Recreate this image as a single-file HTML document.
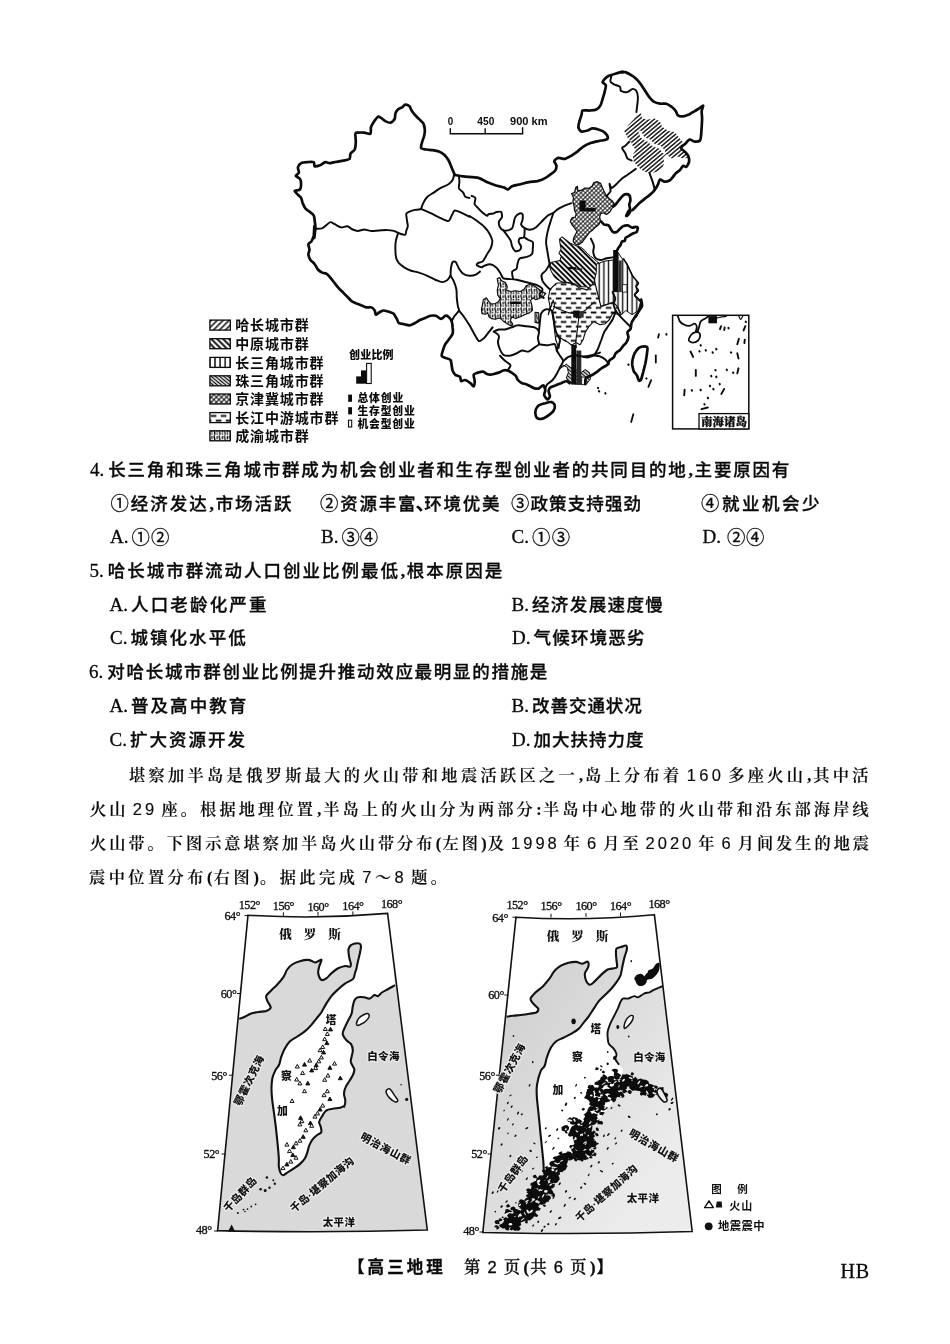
<!DOCTYPE html>
<html lang="zh-CN"><head><meta charset="utf-8"><title>高三地理 第2页</title>
<style>
html,body{margin:0;padding:0;background:#fff;}
body{width:950px;height:1344px;position:relative;overflow:hidden;will-change:transform;}

.t{position:absolute;white-space:nowrap;line-height:26px;height:26px;color:#0a0a0a;-webkit-text-stroke:0.3px #0a0a0a;}
.t i{display:inline-block;letter-spacing:0;}
.g1{width:4px}.g2{width:3px}.g3{width:4px}.g4{width:18px}
.q{font-family:"Liberation Sans","Noto Sans CJK SC",sans-serif;font-size:17.5px;font-weight:500;}
.p{font-family:"Liberation Serif","Noto Serif CJK SC",serif;font-size:16.2px;font-weight:600;-webkit-text-stroke:0.15px #0a0a0a;}
.f{font-family:"Liberation Serif","Noto Serif CJK SC",serif;font-size:16.5px;font-weight:500;}
.f b{font-family:"Liberation Sans","Noto Sans CJK SC",sans-serif;font-weight:700;}
.hb{font-family:"Liberation Serif",serif;font-size:20px;}
.la{font-family:"Liberation Serif",serif;font-size:19px;letter-spacing:0;}
.cn{font-size:18.4px;position:relative;top:0.3px;font-weight:400;}
.nu{font-family:"Liberation Sans",sans-serif;font-size:16.5px;font-weight:400;}
.cm{font-family:"Liberation Serif",serif;letter-spacing:0;font-weight:700;display:inline-block;width:8px;text-align:center;margin-left:-1px;}

svg{position:absolute;left:0;top:0;}
</style></head><body>
<svg width="950" height="1344" viewBox="0 0 950 1344"><defs>
<pattern id="hA" width="3.15" height="3.15" patternUnits="userSpaceOnUse" patternTransform="rotate(-40)"><rect width="3.15" height="3.15" fill="#fff"/><path d="M0 1.6H3.15" stroke="#0b0b0b" stroke-width="1.4"/></pattern>
<pattern id="hB" width="3.75" height="3.75" patternUnits="userSpaceOnUse" patternTransform="rotate(45)"><rect width="3.75" height="3.75" fill="#fff"/><path d="M0 1.9H3.75" stroke="#0b0b0b" stroke-width="2.0"/></pattern>
<pattern id="hC" width="4.7" height="4.7" patternUnits="userSpaceOnUse"><rect width="4.7" height="4.7" fill="#fff"/><path d="M2.3 0V4.7" stroke="#0b0b0b" stroke-width="1.35"/></pattern>
<pattern id="hD" width="2.7" height="2.7" patternUnits="userSpaceOnUse" patternTransform="rotate(40)"><rect width="2.7" height="2.7" fill="#fff"/><path d="M0 1.35H2.7" stroke="#0b0b0b" stroke-width="1.3"/></pattern>
<pattern id="hE" width="3.1" height="3.1" patternUnits="userSpaceOnUse" patternTransform="rotate(45)"><rect width="3.1" height="3.1" fill="#fff"/><path d="M0 1.55H3.1M1.55 0V3.1" stroke="#0b0b0b" stroke-width="0.95"/></pattern>
<pattern id="hF" width="10" height="9.4" patternUnits="userSpaceOnUse"><rect width="10" height="9.4" fill="#fff"/><path d="M0.8 2.35H6.4M5.8 7.05H10M-1 7.05H1.4" stroke="#0b0b0b" stroke-width="1.75"/></pattern>
<pattern id="hG" width="5.2" height="6.4" patternUnits="userSpaceOnUse"><rect width="5.2" height="6.4" fill="#fff"/><path d="M1.3 0.3C0.1 2 2.5 3.8 1.3 6.1M3.9 1V3.6" stroke="#0b0b0b" stroke-width="1.35" fill="none"/><circle cx="3.9" cy="5.2" r="0.8" fill="#0b0b0b"/></pattern>
<pattern id="lA" width="4.2" height="4.2" patternUnits="userSpaceOnUse" patternTransform="rotate(-45)"><rect width="4.2" height="4.2" fill="#fff"/><path d="M0 2.1H4.2" stroke="#0b0b0b" stroke-width="1.5"/></pattern>
<pattern id="lB" width="4.2" height="4.2" patternUnits="userSpaceOnUse" patternTransform="rotate(45)"><rect width="4.2" height="4.2" fill="#fff"/><path d="M0 2.1H4.2" stroke="#0b0b0b" stroke-width="1.9"/></pattern>
<pattern id="lC" width="5.1" height="5" patternUnits="userSpaceOnUse" patternTransform="translate(209.9 0)"><rect width="5.1" height="5" fill="#fff"/><path d="M5.1 0V5M0 0V5" stroke="#0b0b0b" stroke-width="1.4"/></pattern>
<pattern id="lE" width="3.6" height="3.6" patternUnits="userSpaceOnUse" patternTransform="rotate(45)"><rect width="3.6" height="3.6" fill="#fff"/><path d="M0 1.8H3.6M1.8 0V3.6" stroke="#0b0b0b" stroke-width="1.1"/></pattern>
</defs><path d="M624.2 131.1 L628.4 124.7 L633.7 119.5 L636.8 114.2 L641.1 113.2 L642.1 118.4 L648.4 119.5 L654.7 118.4 L660.0 121.6 L662.1 126.8 L668.4 131.1 L674.7 132.1 L678.9 137.4 L683.2 142.6 L681.1 147.9 L685.3 152.1 L688.4 157.4 L683.2 158.4 L676.8 156.3 L671.6 158.4 L666.3 154.2 L663.2 157.4 L664.2 162.6 L662.1 168.9 L655.8 172.1 L649.5 173.2 L643.2 171.1 L637.9 166.8 L633.7 161.6 L632.6 155.3 L635.8 150.0 L632.6 145.8 L630.5 140.5 L627.4 137.4Z" fill="url(#hA)"/>
<path d="M640.0 132.1 C640.5 133.1 641.6 136.3 643.2 137.8 C644.7 139.3 647.7 139.7 649.5 140.9 C651.2 142.2 651.9 144.1 653.7 145.2 C655.4 146.2 658.4 146.2 660.0 147.3 C661.6 148.4 663.0 150.9 663.6 151.7" fill="none" stroke="#fff" stroke-width="3.2" stroke-linecap="round"/>
<path d="M559.5 238.9 L562.1 236.8 L566.3 240.0 L570.5 243.2 L573.7 244.7 L576.8 245.8 L581.1 247.4 L584.2 250.0 L587.4 253.2 L590.5 256.3 L593.7 258.4 L596.8 261.6 L601.1 264.7 L605.3 266.8 L608.4 270.0 L610.0 274.2 L607.4 275.3 L603.2 276.3 L600.0 279.5 L598.9 283.7 L596.8 287.9 L592.6 291.1 L589.5 288.9 L586.3 286.8 L582.1 286.8 L577.9 285.8 L574.7 283.7 L569.5 282.6 L564.2 282.6 L558.9 280.5 L554.7 277.4 L551.6 272.1 L549.5 266.8 L550.5 262.6 L554.7 261.6 L560.0 260.5 L561.1 256.3 L558.9 253.2 L561.1 248.9 L560.0 243.7Z" fill="url(#hB)" stroke="#0b0b0b" stroke-width="1" stroke-linejoin="round"/>
<path d="M571.5 193.5 L574.5 192.6 L575.7 187.6 L577.4 186.3 L577.8 190.9 L582.1 190.1 L584.6 188.0 L588.8 188.4 L592.2 185.9 L593.8 182.5 L597.2 181.7 L600.6 183.4 L602.3 187.6 L603.9 190.9 L605.6 194.3 L609.0 198.5 L612.4 201.1 L614.1 203.6 L612.4 207.8 L609.8 212.0 L606.5 214.5 L603.1 212.8 L600.6 213.7 L599.7 217.1 L600.6 221.3 L598.9 224.6 L595.5 227.2 L593.0 229.7 L589.6 232.2 L587.1 235.6 L584.6 238.9 L582.1 242.3 L578.7 244.8 L575.3 244.0 L573.2 241.5 L573.6 238.1 L575.3 234.7 L577.0 231.4 L574.5 228.0 L571.9 224.6 L570.3 221.3 L571.9 217.9 L575.3 217.1 L576.2 213.7 L574.5 210.3 L574.1 206.1 L572.8 201.9 L573.6 197.7Z" fill="url(#hE)" stroke="#0b0b0b" stroke-width="1.2" stroke-linejoin="round"/>
<path d="M596.3 264.2 L604.7 261.1 L613.2 260.0 L617.4 251.6 L621.6 257.9 L626.8 263.2 L630.0 270.5 L633.2 276.8 L638.4 283.2 L636.3 287.4 L638.4 291.6 L634.2 295.8 L640.5 302.1 L638.4 310.5 L632.1 314.7 L625.8 310.5 L621.6 314.7 L617.4 306.3 L613.2 302.1 L606.8 304.2 L600.5 306.3 L598.4 297.9 L596.3 289.5 L594.2 281.1 L596.3 272.6Z" fill="url(#hC)" stroke="#0b0b0b" stroke-width="1" stroke-linejoin="round"/>
<path d="M550.0 289.5 L556.3 283.2 L564.7 282.5 L573.2 283.6 L579.5 287.8 L586.8 289.9 L591.1 285.7 L594.6 281.5 L596.7 289.9 L598.8 298.3 L600.9 306.7 L607.3 304.6 L613.6 302.5 L617.4 306.7 L620.5 314.7 L612.6 313.2 L609.5 319.5 L605.3 323.7 L600.0 324.7 L593.7 321.6 L589.5 325.8 L585.3 332.1 L583.2 339.5 L580.0 344.7 L575.8 342.6 L571.6 345.2 L568.4 342.6 L564.2 340.5 L560.0 337.4 L558.9 348.4 L555.8 340.0 L554.7 331.6 L553.7 323.2 L552.0 312.6 L554.7 306.3 L553.3 300.0 L548.3 314.7 L550.0 306.3 L548.3 297.9Z" fill="url(#hF)" stroke="#0b0b0b" stroke-width="1.1" stroke-linejoin="round"/>
<path d="M553.3 306.3 C554.2 306.7 558.0 308.6 560.0 309.5 C562.0 310.3 566.3 312.2 568.4 312.6 C570.5 313.1 573.8 313.2 575.8 313.1 C577.8 312.9 581.3 312.5 583.2 311.6 C585.0 310.7 587.9 307.6 589.5 306.3 C591.0 305.1 594.0 302.7 594.7 302.1" fill="none" stroke="#0b0b0b" stroke-width="1.1" stroke-linejoin="round" stroke-linecap="round"/>
<path d="M578.9 316.8 C578.8 318.0 578.2 323.0 577.9 325.3 C577.6 327.5 577.1 331.4 576.8 333.7 C576.6 335.9 575.8 340.3 575.8 342.1 C575.7 343.9 576.3 346.7 576.4 347.4" fill="none" stroke="#0b0b0b" stroke-width="1.1" stroke-linejoin="round" stroke-linecap="round"/>
<path d="M535.1 312.3 L538.8 312.9 L538.8 323.1 L535.1 322.4Z" fill="url(#hG)" stroke="#0b0b0b" stroke-width="1.1" stroke-linejoin="round"/>
<path d="M497.2 278.8 L499.7 277.6 L501.6 280.7 L505.4 282.6 L507.3 286.4 L506.6 290.2 L510.4 291.5 L515.5 290.8 L520.5 291.5 L524.3 288.9 L526.2 285.8 L529.4 284.5 L533.2 285.2 L536.9 287.7 L540.7 290.8 L545.8 293.4 L543.3 296.5 L539.5 298.4 L535.7 299.7 L533.2 297.8 L530.6 300.3 L531.9 305.4 L532.5 310.4 L529.4 312.9 L525.6 314.2 L520.5 316.7 L515.5 318.6 L511.7 316.7 L510.4 320.5 L512.9 324.3 L511.7 326.2 L507.9 324.3 L504.1 321.8 L501.6 319.3 L499.1 318.0 L495.3 319.3 L491.5 318.6 L488.9 316.7 L487.7 312.9 L485.2 314.2 L482.0 313.6 L481.4 309.2 L482.6 304.1 L483.3 299.7 L486.4 297.8 L488.9 301.6 L491.5 304.1 L495.3 303.5 L498.4 301.6 L500.3 298.4 L497.8 295.3 L497.2 290.2 L498.4 285.2Z" fill="url(#hG)" stroke="#0b0b0b" stroke-width="1.1" stroke-linejoin="round"/>
<path d="M558.9 369.5 L563.2 365.3 L567.4 367.4 L568.4 372.6 L566.3 377.9 L569.5 382.5 L576.8 384.2 L586.3 384.2 L590.5 378.9 L589.5 372.6 L585.3 369.5 L581.1 372.6 L575.8 369.5 L570.5 367.4 L566.3 364.2Z" fill="url(#hD)" stroke="#0b0b0b" stroke-width="1" stroke-linejoin="round"/>
<rect x="579.5" y="200.6" width="6.1" height="10.7" fill="#0b0b0b"/>
<rect x="585.4" y="208.0" width="10.3" height="3.5" fill="#0b0b0b"/>
<rect x="567.9" y="267.1" width="8.4" height="2.1" fill="#0b0b0b"/>
<rect x="576.3" y="268.5" width="5.8" height="1.3" fill="#0b0b0b"/>
<rect x="613.2" y="250.0" width="4.8" height="42.1" fill="#0b0b0b"/>
<rect x="618.4" y="260.5" width="3.3" height="31.6" fill="#333"/>
<rect x="622.6" y="284.7" width="4.3" height="7.4" fill="#fff" stroke="#0b0b0b" stroke-width="0.8"/>
<rect x="573.2" y="310.5" width="6.6" height="7.1" fill="#0b0b0b"/>
<rect x="579.8" y="311.1" width="3.9" height="6.5" fill="#333"/>
<rect x="510.4" y="301.6" width="10.4" height="2.4" fill="#0b0b0b"/>
<rect x="571.3" y="344.8" width="4.9" height="39.8" fill="#0b0b0b"/>
<rect x="576.4" y="350.5" width="4.9" height="34.1" fill="#2a2a2a"/>
<rect x="581.7" y="377.1" width="4.0" height="7.6" fill="#fff" stroke="#0b0b0b" stroke-width="0.8"/>
<path d="M454.7 174.9 C454.3 173.9 452.4 169.4 451.6 167.4 C450.7 165.4 449.4 161.7 448.4 160.0 C447.4 158.3 445.5 155.9 444.2 154.7 C442.9 153.6 440.5 152.2 438.9 151.6 C437.4 151.0 434.3 150.4 432.6 150.1 C430.9 149.8 427.9 149.8 426.3 149.5 C424.8 149.2 421.6 149.0 421.1 148.0 C420.5 147.0 421.7 143.7 422.1 142.1 C422.5 140.5 423.8 137.5 424.2 135.8 C424.6 134.1 425.0 131.2 424.8 129.5 C424.7 127.8 423.9 124.6 423.2 123.2 C422.4 121.8 420.1 120.1 418.9 118.9 C417.8 117.8 415.7 115.9 414.7 114.7 C413.8 113.6 412.3 111.6 411.6 110.5 C410.9 109.4 410.3 107.1 409.5 106.3 C408.6 105.5 406.2 104.5 405.3 104.6 C404.3 104.8 403.1 106.7 402.1 107.4 C401.1 108.0 398.8 108.6 397.9 109.5 C397.0 110.3 395.8 112.4 395.4 113.7 C394.9 114.9 395.4 117.7 394.7 118.9 C394.1 120.2 391.8 122.5 390.5 122.7 C389.3 123.0 386.5 121.7 385.3 121.1 C384.0 120.4 382.0 118.5 381.1 117.9 C380.1 117.3 378.9 116.3 377.9 116.8 C376.9 117.4 374.6 120.7 373.7 122.1 C372.8 123.5 371.4 125.8 370.9 127.4 C370.5 128.9 371.4 133.0 370.5 133.7 C369.6 134.4 365.9 132.8 364.2 132.6 C362.5 132.5 359.1 132.5 357.9 132.6 C356.7 132.8 355.6 132.4 355.4 133.7 C355.1 134.9 355.9 140.0 355.8 142.1 C355.7 144.2 355.4 147.9 354.7 149.5 C354.0 151.0 351.2 152.4 350.5 153.7 C349.8 154.9 350.5 158.0 349.5 158.9 C348.5 159.9 345.1 160.2 343.2 160.6 C341.2 161.1 336.6 161.8 334.7 162.1 C332.9 162.4 330.7 163.2 329.5 163.2 C328.2 163.2 326.5 161.8 325.3 162.1 C324.0 162.4 321.4 164.7 320.0 165.3 C318.6 165.8 315.6 166.7 314.7 166.3 C313.9 165.9 314.7 162.7 313.7 162.1 C312.7 161.5 309.1 162.0 307.4 162.1 C305.7 162.2 302.3 162.5 301.1 163.2 C299.8 163.9 298.2 166.1 297.9 167.4 C297.6 168.6 299.2 171.5 298.9 172.6 C298.7 173.8 295.6 174.9 295.8 175.8 C295.9 176.6 299.3 177.8 300.0 178.9 C300.7 180.1 301.1 182.8 301.1 184.2 C301.1 185.6 300.8 188.6 300.0 189.5 C299.2 190.4 295.0 190.2 294.7 190.9 C294.5 191.6 297.1 193.8 297.9 194.7 C298.7 195.7 300.4 196.8 301.1 197.9 C301.7 199.0 302.2 201.8 302.7 203.2 C303.3 204.6 304.4 207.3 305.3 208.4 C306.2 209.5 308.4 210.7 309.5 211.6 C310.6 212.5 313.0 214.1 313.7 215.4 C314.4 216.6 314.5 219.5 314.7 221.1 C315.0 222.7 315.3 225.8 315.4 227.4 C315.4 228.9 315.1 231.2 314.9 232.6 C314.8 234.0 314.4 237.2 314.3 237.9" fill="none" stroke="#0b0b0b" stroke-width="2.7" stroke-linejoin="round" stroke-linecap="round"/>
<path d="M314.3 226.3 C314.3 226.9 314.2 229.3 314.1 230.5 C314.0 231.8 314.0 234.4 313.7 235.8 C313.3 237.2 312.3 239.9 311.6 241.1 C310.9 242.2 308.7 243.1 308.4 244.2 C308.1 245.3 309.5 248.1 309.5 249.5 C309.5 250.9 308.3 253.3 308.4 254.7 C308.6 256.1 309.7 258.7 310.5 260.0 C311.4 261.3 313.8 262.9 314.7 264.2 C315.7 265.5 316.9 268.4 317.9 269.5 C318.9 270.6 321.0 272.1 322.1 272.6 C323.2 273.2 325.2 273.0 326.3 273.7 C327.4 274.4 329.4 276.6 330.5 277.9 C331.6 279.2 333.6 281.8 334.7 283.2 C335.9 284.6 337.8 287.2 338.9 288.4 C340.1 289.7 342.0 291.5 343.2 292.6 C344.3 293.8 346.2 295.7 347.4 296.8 C348.5 298.0 350.5 300.2 351.6 301.1 C352.7 301.9 354.5 302.6 355.8 303.2 C357.1 303.7 359.6 304.7 361.1 305.3 C362.5 305.8 364.9 307.1 366.3 307.4 C367.7 307.6 370.5 306.9 371.6 307.4 C372.7 307.8 374.2 309.5 374.7 310.5 C375.3 311.5 375.2 314.5 375.8 314.7 C376.4 315.0 378.0 313.2 378.9 312.6 C379.9 312.1 381.9 310.7 383.2 310.5 C384.4 310.4 387.0 311.2 388.4 311.6 C389.8 312.0 392.6 312.7 393.7 313.7 C394.8 314.7 396.1 317.7 396.8 318.9 C397.5 320.2 398.0 322.5 398.9 323.2 C399.9 323.9 402.8 323.9 404.2 324.2 C405.6 324.5 408.1 325.4 409.5 325.3 C410.9 325.1 413.3 323.9 414.7 323.2 C416.1 322.5 418.6 320.7 420.0 320.0 C421.4 319.3 423.9 318.5 425.3 317.9 C426.7 317.3 429.1 316.1 430.5 315.8 C431.9 315.5 434.4 315.4 435.8 315.8 C437.2 316.2 439.8 318.9 441.1 318.9 C442.3 318.9 444.3 316.1 445.3 315.8 C446.2 315.5 447.6 316.1 448.4 316.8 C449.3 317.5 451.0 319.6 451.6 321.1 C452.1 322.5 452.5 325.7 452.6 327.4 C452.8 329.1 453.2 332.0 452.6 333.7 C452.1 335.4 449.4 338.6 448.4 340.0 C447.4 341.4 446.0 342.9 445.3 344.2 C444.6 345.5 443.6 347.9 443.2 349.5 C442.7 351.0 441.4 354.7 441.7 355.8 C442.0 356.9 444.1 357.3 445.3 357.9 C446.4 358.5 449.7 359.0 450.5 360.0 C451.4 361.0 451.3 363.9 451.6 365.3 C451.9 366.7 452.2 369.3 452.6 370.5 C453.1 371.8 454.2 373.9 455.2 374.7 C456.1 375.6 459.2 376.0 460.0 376.8 C460.8 377.7 460.4 380.6 461.1 381.1 C461.8 381.5 464.0 379.7 465.3 380.0 C466.5 380.3 469.4 382.3 470.5 383.2 C471.6 384.0 473.1 386.6 473.7 386.3 C474.2 386.0 474.7 382.6 474.7 381.1 C474.7 379.5 473.3 375.9 473.7 374.7 C474.1 373.6 476.6 373.1 477.9 372.6 C479.2 372.2 482.0 371.4 483.2 371.6 C484.3 371.7 485.3 373.3 486.3 373.7 C487.3 374.1 489.4 374.7 490.5 374.7 C491.6 374.7 493.6 374.0 494.7 373.7 C495.9 373.4 497.8 373.1 498.9 372.6 C500.1 372.2 502.0 370.8 503.2 370.5 C504.3 370.2 506.2 370.2 507.4 370.5 C508.5 370.8 510.5 371.9 511.6 372.6 C512.7 373.3 514.9 374.8 515.8 375.8 C516.6 376.8 517.1 379.0 517.9 380.0 C518.7 381.0 521.0 382.6 522.1 383.2 C523.2 383.7 525.2 383.8 526.3 384.2 C527.4 384.6 529.4 385.8 530.5 386.3 C531.6 386.9 533.6 388.1 534.7 388.4 C535.9 388.7 537.8 388.8 538.9 388.4 C540.1 388.0 542.3 385.0 543.2 385.3 C544.0 385.5 545.1 388.8 545.3 390.1 C545.4 391.4 543.9 393.9 544.2 395.2 C544.5 396.4 546.6 399.2 547.4 399.4 C548.1 399.5 549.7 397.5 549.9 396.4 C550.1 395.3 548.5 392.2 548.6 390.9 C548.7 389.7 549.6 388.1 550.5 387.4 C551.5 386.6 554.4 385.8 555.8 385.3 C557.2 384.7 559.6 383.7 561.1 383.2 C562.5 382.6 565.2 381.1 566.3 381.1 C567.4 381.1 569.1 382.9 569.5 383.2" fill="none" stroke="#0b0b0b" stroke-width="2.7" stroke-linejoin="round" stroke-linecap="round"/>
<path d="M454.7 174.9 C455.9 175.1 460.0 176.0 463.2 176.4 C466.3 176.8 475.3 177.1 478.4 177.9 C481.6 178.7 484.6 181.1 486.8 182.1 C489.1 183.1 493.0 184.6 495.3 185.3 C497.5 186.0 502.0 186.8 503.7 187.4 C505.4 187.9 506.8 189.6 507.9 189.5 C509.0 189.3 510.4 187.0 512.1 186.3 C513.8 185.6 518.3 184.8 520.5 184.2 C522.8 183.6 526.7 182.5 528.9 182.1 C531.2 181.7 535.4 181.5 537.4 181.1 C539.3 180.6 542.0 179.8 543.7 178.9 C545.4 178.1 548.5 175.9 550.0 174.7 C551.5 173.6 554.4 171.8 555.3 170.5 C556.1 169.3 556.5 166.5 556.3 165.3 C556.2 164.0 553.9 162.0 554.2 161.1 C554.5 160.1 557.0 158.2 558.4 157.9 C559.8 157.6 563.1 159.2 564.7 158.9 C566.4 158.7 569.4 156.8 571.1 155.8 C572.7 154.8 575.7 152.8 577.4 151.6 C579.1 150.3 582.0 147.4 583.7 146.3 C585.4 145.2 588.0 143.9 590.0 143.2 C592.0 142.5 596.5 141.5 598.4 141.1 C600.4 140.6 603.5 140.4 604.7 140.0 C606.0 139.6 607.9 138.9 607.9 137.9 C607.9 136.9 606.0 133.8 604.7 132.6 C603.5 131.5 600.1 130.0 598.4 129.5 C596.7 128.9 593.5 128.3 592.1 128.4 C590.7 128.6 589.3 130.1 587.9 130.5 C586.5 130.9 582.8 132.0 581.6 131.6 C580.3 131.2 578.7 128.8 578.4 127.4 C578.1 126.0 579.1 122.7 579.5 121.1 C579.9 119.4 581.2 116.1 581.6 114.7 C582.0 113.3 581.5 111.1 582.6 110.5 C583.8 110.0 588.2 110.7 590.0 110.5 C591.8 110.4 594.9 110.2 596.3 109.5 C597.7 108.8 599.7 106.7 600.5 105.3 C601.4 103.9 602.1 100.8 602.6 98.9 C603.2 97.1 604.3 93.4 604.7 91.6 C605.2 89.8 606.1 86.5 605.8 85.3 C605.5 84.0 602.8 82.9 602.6 82.1 C602.5 81.3 603.9 79.8 604.7 78.9 C605.6 78.1 607.5 76.5 608.9 75.8 C610.4 75.1 613.4 74.2 615.3 73.7 C617.1 73.1 621.6 71.9 622.6 71.6" fill="none" stroke="#0b0b0b" stroke-width="2.7" stroke-linejoin="round" stroke-linecap="round"/>
<path d="M622.1 72.5 C622.5 72.5 624.0 71.7 625.3 72.1 C626.5 72.5 630.0 74.3 631.6 75.3 C633.1 76.2 635.6 78.2 636.8 79.5 C638.1 80.7 639.9 83.2 641.1 84.7 C642.2 86.3 644.1 89.4 645.3 91.1 C646.4 92.7 648.4 96.0 649.5 97.4 C650.6 98.8 652.3 100.7 653.7 101.6 C655.1 102.4 658.3 103.4 660.0 103.7 C661.7 104.0 664.8 103.3 666.3 103.7 C667.9 104.1 670.3 105.9 671.6 106.8 C672.8 107.8 674.9 109.9 675.8 111.1 C676.6 112.2 676.9 114.6 677.9 115.3 C678.9 116.0 681.6 116.5 683.2 116.3 C684.7 116.2 687.9 114.9 689.5 114.2 C691.0 113.5 693.3 111.9 694.7 111.1 C696.1 110.2 698.9 108.6 700.0 107.9 C701.1 107.2 702.9 105.4 703.2 105.8 C703.4 106.2 701.8 109.4 701.7 111.1 C701.5 112.7 702.1 116.3 702.1 118.4 C702.1 120.5 701.8 124.6 701.7 126.8 C701.5 129.1 701.3 133.4 701.1 135.3 C700.8 137.1 700.8 139.7 700.0 140.5 C699.2 141.4 696.1 141.7 694.7 141.6 C693.3 141.4 690.7 139.2 689.5 139.5 C688.2 139.8 686.4 142.6 685.3 143.7 C684.1 144.8 681.1 146.8 681.1 147.9 C681.1 149.0 684.3 151.0 685.3 152.1 C686.2 153.2 687.9 155.1 688.4 156.3 C688.9 157.6 689.3 160.2 689.1 161.6 C688.8 163.0 687.1 166.3 686.3 166.8 C685.5 167.4 684.0 165.4 683.2 165.8 C682.3 166.2 681.0 169.0 680.0 170.0 C679.0 171.0 676.8 172.2 675.8 173.2 C674.8 174.1 673.5 176.4 672.6 177.4 C671.8 178.4 670.6 180.0 669.5 180.5 C668.4 181.1 665.5 181.7 664.2 181.6 C662.9 181.4 660.8 179.1 660.0 179.5 C659.2 179.9 658.6 183.3 657.9 184.7 C657.2 186.1 655.7 188.7 654.7 190.0 C653.8 191.3 651.8 193.1 650.5 194.2 C649.3 195.3 646.7 197.3 645.3 198.4 C643.9 199.5 641.3 201.5 640.0 202.6 C638.7 203.8 636.8 205.9 635.8 206.8 C634.8 207.8 633.1 209.6 632.6 210.0" fill="none" stroke="#0b0b0b" stroke-width="2.7" stroke-linejoin="round" stroke-linecap="round"/>
<path d="M630.7 210.6 C630.4 211.1 629.1 213.6 628.5 214.3 C628.0 215.0 626.7 216.2 626.6 215.9 C626.5 215.6 627.3 213.0 627.8 212.1 C628.2 211.2 629.8 210.1 630.0 209.2 C630.2 208.2 629.2 205.9 629.3 204.7 C629.3 203.6 630.4 201.6 630.4 200.3 C630.4 199.0 630.0 195.9 629.3 195.2 C628.5 194.4 625.8 194.2 624.8 194.4 C623.9 194.6 622.7 195.8 621.9 196.6 C621.1 197.4 619.7 199.3 618.9 200.3 C618.2 201.3 616.7 203.2 616.0 204.0 C615.3 204.8 613.7 206.2 613.3 206.5" fill="none" stroke="#0b0b0b" stroke-width="2.7" stroke-linejoin="round" stroke-linecap="round"/>
<path d="M601.3 221.7 C601.7 222.1 603.2 224.1 604.2 224.6 C605.2 225.1 607.7 224.8 608.6 225.4 C609.5 226.0 610.3 228.2 610.8 229.1 C611.4 229.9 612.3 231.6 613.1 232.0 C613.8 232.4 615.9 232.4 616.7 232.0 C617.6 231.6 618.8 229.8 619.7 229.1 C620.6 228.3 622.3 226.6 623.4 226.1 C624.4 225.6 626.6 225.2 627.8 225.4 C629.0 225.6 631.1 227.4 632.2 227.6 C633.3 227.8 635.1 226.8 635.9 226.8 C636.6 226.8 637.7 226.9 637.8 227.6 C637.9 228.3 637.3 231.2 636.6 232.0 C636.0 232.8 633.9 233.0 632.9 233.5 C632.0 234.0 630.2 235.1 629.3 235.7 C628.3 236.3 626.2 237.2 625.6 237.9 C625.0 238.6 625.3 240.4 624.8 240.8 C624.4 241.3 622.5 241.0 621.9 241.6 C621.3 242.2 620.9 244.4 620.4 245.3 C619.9 246.1 618.6 247.5 618.2 248.2 C617.8 248.9 617.3 250.1 617.2 250.4" fill="none" stroke="#0b0b0b" stroke-width="2.7" stroke-linejoin="round" stroke-linecap="round"/>
<ellipse cx="626.8" cy="215.3" rx="2.2" ry="1.3" transform="rotate(-40 626.8 215.3)" fill="#0b0b0b"/>
<path d="M623.7 258.9 C624.1 259.6 626.0 262.7 626.8 264.2 C627.7 265.8 629.2 268.8 630.0 270.5 C630.8 272.2 632.0 275.2 633.2 276.8 C634.3 278.5 638.1 281.9 638.4 283.2 C638.8 284.4 635.9 285.3 635.9 286.3 C635.9 287.3 638.6 289.4 638.4 290.5 C638.3 291.6 634.3 293.2 634.6 294.7 C635.0 296.3 640.4 300.0 640.9 302.1 C641.5 304.2 639.5 308.6 638.8 310.5 C638.2 312.5 636.7 316.0 636.3 316.8" fill="none" stroke="#0b0b0b" stroke-width="1.6" stroke-linejoin="round" stroke-linecap="round"/>
<path d="M641.1 299.5 C641.2 300.3 642.4 304.2 642.1 305.8 C641.8 307.3 639.9 309.5 638.9 311.1 C638.0 312.6 635.7 315.8 634.7 317.4 C633.8 318.9 632.1 321.1 631.6 322.6 C631.0 324.2 631.1 327.7 630.5 328.9 C630.0 330.2 627.6 331.0 627.4 332.1 C627.1 333.2 628.6 336.0 628.4 337.4 C628.3 338.8 627.0 341.5 626.3 342.6 C625.6 343.8 624.0 344.8 623.2 345.8 C622.3 346.8 621.0 349.0 620.0 350.0 C619.0 351.0 616.6 352.2 615.8 353.2 C614.9 354.1 614.5 356.4 613.7 357.4 C612.8 358.4 610.3 359.5 609.5 360.5 C608.6 361.5 608.4 363.8 607.4 364.7 C606.4 365.7 603.4 367.1 602.1 367.9 C600.8 368.7 599.0 370.2 597.9 371.1 C596.8 371.9 594.8 373.5 593.7 374.2 C592.6 374.9 590.5 375.8 589.5 376.3 C588.4 376.9 586.2 377.4 585.7 378.4 C585.1 379.5 585.3 383.3 585.3 384.1" fill="none" stroke="#0b0b0b" stroke-width="2.7" stroke-linejoin="round" stroke-linecap="round"/>
<path d="M535.8 409.5 C536.2 408.1 537.7 406.1 538.9 405.3 C540.2 404.4 543.6 403.6 545.3 403.2 C546.9 402.7 550.3 401.8 551.6 402.1 C552.8 402.4 554.5 404.1 554.7 405.3 C555.0 406.4 554.4 409.3 553.7 410.5 C553.0 411.8 550.7 413.8 549.5 414.7 C548.2 415.7 545.6 417.3 544.2 417.9 C542.8 418.5 540.1 419.2 538.9 418.9 C537.8 418.7 536.2 417.1 535.8 415.8 C535.4 414.5 535.4 410.9 535.8 409.5Z" fill="#fff" stroke="#0b0b0b" stroke-width="2.7" stroke-linejoin="round" stroke-linecap="round"/>
<path d="M632.6 359.5 C633.0 357.9 633.9 354.7 634.7 353.2 C635.6 351.6 637.7 348.8 638.9 347.9 C640.2 347.0 643.1 346.4 644.2 346.4 C645.3 346.4 647.0 346.7 647.4 347.9 C647.7 349.1 647.0 353.2 646.7 355.3 C646.5 357.4 645.7 361.4 645.3 363.7 C644.8 365.9 643.7 370.0 643.2 372.1 C642.6 374.2 641.6 378.4 641.1 379.5 C640.5 380.6 639.5 381.1 638.9 380.5 C638.4 380.0 637.5 376.5 636.8 375.3 C636.1 374.0 634.3 372.5 633.7 371.1 C633.1 369.6 632.4 366.3 632.2 364.7 C632.1 363.2 632.3 361.0 632.6 359.5Z" fill="#fff" stroke="#0b0b0b" stroke-width="2.7" stroke-linejoin="round" stroke-linecap="round"/>
<path d="M315.4 228.8 C316.3 228.8 320.5 229.0 322.1 228.4 C323.7 227.8 326.2 225.1 327.4 224.2 C328.5 223.4 329.5 222.1 330.5 222.1 C331.5 222.1 333.3 223.5 334.7 224.2 C336.1 224.9 339.4 227.1 341.1 227.4 C342.7 227.6 345.8 226.0 347.4 226.3 C348.9 226.6 351.2 228.9 352.6 229.5 C354.0 230.1 356.4 230.9 357.9 230.9 C359.4 230.9 362.5 229.5 364.2 229.5 C365.9 229.5 368.6 230.8 370.5 230.9 C372.5 231.1 376.7 230.6 378.9 230.5 C381.2 230.4 385.4 230.0 387.4 230.1 C389.3 230.2 392.0 230.5 393.7 230.9 C395.4 231.4 398.5 233.2 400.0 233.7 C401.5 234.2 404.4 235.2 405.3 234.7 C406.1 234.3 406.0 231.6 406.3 230.5 C406.7 229.4 407.7 227.7 407.8 226.3 C407.9 224.9 407.1 221.7 406.9 220.0 C406.8 218.3 406.0 214.8 406.3 213.7 C406.7 212.6 408.4 212.1 409.5 211.6 C410.6 211.1 413.2 210.2 414.7 209.9 C416.3 209.6 420.2 209.2 421.1 209.1" fill="none" stroke="#0b0b0b" stroke-width="1.95" stroke-linejoin="round" stroke-linecap="round"/>
<path d="M421.1 209.1 C421.3 208.3 422.3 204.8 423.2 203.2 C424.0 201.5 426.0 198.2 427.4 196.8 C428.8 195.4 432.0 193.8 433.7 192.6 C435.4 191.5 438.0 189.5 440.0 188.4 C442.0 187.3 446.7 185.3 448.4 184.2 C450.1 183.1 451.9 181.2 452.6 180.0 C453.4 178.8 453.7 176.0 453.9 175.4" fill="none" stroke="#0b0b0b" stroke-width="1.95" stroke-linejoin="round" stroke-linecap="round"/>
<path d="M458.9 175.8 C459.0 176.6 459.4 180.4 459.4 182.1 C459.4 183.8 458.4 187.0 458.9 188.4 C459.5 189.8 462.3 191.5 463.2 192.6 C464.0 193.8 464.4 196.1 465.3 196.8 C466.1 197.5 468.9 197.8 469.5 197.9" fill="none" stroke="#0b0b0b" stroke-width="1.95" stroke-linejoin="round" stroke-linecap="round"/>
<path d="M421.1 209.1 C421.9 209.4 425.7 210.8 427.4 211.6 C429.1 212.3 432.0 213.9 433.7 214.7 C435.4 215.6 438.0 217.1 440.0 217.9 C442.0 218.7 446.9 221.3 448.4 221.1 C450.0 220.8 450.7 217.2 451.6 215.8 C452.4 214.4 453.5 210.9 454.7 210.5 C456.0 210.1 459.1 211.8 461.1 212.6 C463.0 213.5 468.4 216.3 469.5 216.8" fill="none" stroke="#0b0b0b" stroke-width="1.95" stroke-linejoin="round" stroke-linecap="round"/>
<path d="M397.9 233.9 C397.6 234.8 396.1 239.0 395.8 241.1 C395.5 243.1 395.3 247.2 395.4 249.5 C395.4 251.7 395.7 256.1 396.2 257.9 C396.7 259.7 397.9 261.9 398.9 263.2 C400.0 264.4 402.7 266.4 404.2 267.4 C405.8 268.4 408.6 269.8 410.5 270.5 C412.5 271.2 416.7 271.9 418.9 272.6 C421.2 273.3 425.1 274.8 427.4 275.8 C429.6 276.8 433.8 279.2 435.8 280.0 C437.8 280.8 440.6 282.1 442.1 282.1 C443.6 282.1 446.2 280.8 447.4 280.0 C448.5 279.2 450.1 276.4 450.5 275.8" fill="none" stroke="#0b0b0b" stroke-width="1.95" stroke-linejoin="round" stroke-linecap="round"/>
<path d="M450.5 275.8 C450.9 276.5 452.9 279.2 453.7 281.1 C454.5 282.9 456.0 287.2 456.4 289.5 C456.8 291.7 456.6 295.6 456.8 297.9 C457.0 300.1 457.6 304.6 457.9 306.3 C458.2 308.0 459.4 309.3 458.9 310.5 C458.5 311.8 455.7 314.4 454.7 315.8 C453.8 317.2 452.0 320.4 451.6 321.1" fill="none" stroke="#0b0b0b" stroke-width="1.95" stroke-linejoin="round" stroke-linecap="round"/>
<path d="M450.5 275.8 C450.6 274.8 450.7 270.2 450.9 268.4 C451.2 266.6 452.0 262.9 452.6 262.1 C453.3 261.3 454.9 261.3 455.8 262.1 C456.6 262.9 458.0 266.9 458.9 268.4 C459.9 270.0 461.8 272.7 463.2 273.7 C464.6 274.7 467.8 275.6 469.5 275.8 C471.2 275.9 474.4 275.3 475.8 274.7 C477.2 274.2 479.4 272.0 480.0 271.6" fill="none" stroke="#0b0b0b" stroke-width="1.95" stroke-linejoin="round" stroke-linecap="round"/>
<path d="M471.7 195.8 C472.2 196.1 475.0 196.9 475.4 198.0 C475.8 199.1 474.2 202.5 474.6 203.9 C475.0 205.3 477.2 207.1 478.3 208.3 C479.4 209.5 481.6 211.8 482.7 212.7 C483.9 213.7 486.4 215.5 487.2 215.7 C487.9 215.9 487.8 214.5 488.6 214.2 C489.4 213.9 492.0 213.8 493.1 213.5 C494.1 213.2 495.7 212.2 496.7 212.0 C497.8 211.8 500.5 211.3 501.2 212.0 C501.8 212.7 502.2 215.9 501.9 217.2 C501.6 218.4 499.2 220.3 498.9 221.6 C498.7 222.9 499.1 225.6 499.7 226.7 C500.3 227.9 502.3 229.9 503.4 230.4 C504.4 230.9 506.6 230.7 507.8 230.4 C509.0 230.1 511.4 229.2 512.2 228.2 C513.0 227.2 513.3 224.5 513.7 223.1 C514.1 221.6 514.4 218.4 515.2 217.2 C515.9 215.9 518.6 213.9 519.6 213.5 C520.6 213.1 522.1 213.3 522.5 214.2 C522.9 215.1 522.7 218.7 522.5 220.1 C522.3 221.5 520.8 223.4 521.1 224.5 C521.3 225.6 523.6 227.5 524.7 228.2 C525.9 228.9 528.4 229.8 529.9 229.7 C531.4 229.6 534.2 228.6 535.8 227.5 C537.4 226.4 540.1 223.2 541.7 221.6 C543.3 220.0 546.0 216.9 547.6 215.7 C549.2 214.5 552.1 213.6 553.5 212.7 C554.8 211.9 556.3 210.0 557.9 209.1 C559.5 208.1 563.5 206.2 565.3 205.4 C567.0 204.6 570.4 203.5 571.2 203.2" fill="none" stroke="#0b0b0b" stroke-width="1.95" stroke-linejoin="round" stroke-linecap="round"/>
<path d="M469.5 216.0 C470.5 216.6 474.9 219.4 476.8 220.8 C478.8 222.3 482.5 225.1 484.2 226.7 C485.9 228.4 488.3 231.5 489.4 233.4 C490.4 235.2 492.1 238.8 492.3 240.7 C492.5 242.7 491.5 246.3 490.8 248.1 C490.2 249.9 488.2 252.2 487.2 254.0 C486.1 255.8 483.9 260.2 482.7 261.4 C481.6 262.5 479.1 262.4 478.3 262.8 C477.5 263.3 476.4 264.5 476.8 265.1 C477.2 265.6 480.3 267.2 481.3 267.3 C482.2 267.4 483.0 266.2 484.2 265.8 C485.4 265.4 488.5 264.1 490.1 264.3 C491.7 264.5 494.6 266.1 496.0 267.3 C497.4 268.4 499.4 271.7 500.4 273.2 C501.4 274.6 502.0 277.5 503.4 278.3 C504.7 279.1 509.0 278.9 510.7 279.1 C512.5 279.2 514.7 279.4 516.6 279.8 C518.6 280.2 522.7 281.3 525.5 282.0 C528.2 282.7 535.1 284.3 537.4 285.3 C539.7 286.3 542.4 288.2 542.6 289.5 C542.9 290.7 539.3 293.6 539.5 294.7 C539.6 295.9 543.1 297.5 543.7 297.9" fill="none" stroke="#0b0b0b" stroke-width="1.95" stroke-linejoin="round" stroke-linecap="round"/>
<path d="M503.4 230.4 C504.0 231.2 506.8 234.9 507.8 236.3 C508.8 237.7 510.1 239.4 510.7 240.7 C511.3 242.1 511.6 245.3 512.2 246.6 C512.8 248.0 514.2 250.6 515.2 251.1 C516.1 251.5 518.8 250.9 519.6 250.3 C520.4 249.7 521.2 247.7 521.1 246.6 C521.0 245.6 519.0 243.3 518.8 242.2 C518.6 241.1 518.9 239.2 519.6 238.5 C520.3 237.8 523.3 238.4 524.0 237.1 C524.7 235.7 524.6 229.4 524.7 228.2" fill="none" stroke="#0b0b0b" stroke-width="1.95" stroke-linejoin="round" stroke-linecap="round"/>
<path d="M524.0 237.1 C524.6 237.4 527.2 239.3 528.4 240.0 C529.6 240.7 532.3 241.1 532.8 242.2 C533.4 243.3 532.9 246.5 532.8 248.1 C532.7 249.7 532.9 252.8 532.1 254.0 C531.3 255.2 528.6 256.4 526.9 256.9 C525.3 257.5 520.9 257.4 519.6 258.4 C518.3 259.4 517.8 262.9 517.4 264.3 C517.0 265.7 517.3 267.8 516.6 268.7 C515.9 269.7 512.7 270.4 512.2 271.7 C511.7 273.0 512.8 277.4 512.9 278.3" fill="none" stroke="#0b0b0b" stroke-width="1.95" stroke-linejoin="round" stroke-linecap="round"/>
<path d="M553.5 212.7 C553.1 213.9 551.3 219.0 550.5 221.6 C549.7 224.1 548.2 229.1 547.6 231.9 C547.0 234.6 546.1 239.5 546.1 242.2 C546.1 245.0 547.2 250.0 547.6 252.5 C548.0 255.1 548.8 259.7 549.1 261.4 C549.3 263.0 549.7 264.6 549.8 265.1" fill="none" stroke="#0b0b0b" stroke-width="1.95" stroke-linejoin="round" stroke-linecap="round"/>
<path d="M549.6 264.2 C549.1 265.1 546.9 269.1 545.8 270.5 C544.7 271.9 542.0 273.3 541.6 274.7 C541.2 276.1 542.1 279.6 542.6 281.1 C543.2 282.5 544.8 284.1 545.8 285.3 C546.8 286.4 549.4 288.9 550.0 289.5" fill="none" stroke="#0b0b0b" stroke-width="1.95" stroke-linejoin="round" stroke-linecap="round"/>
<path d="M458.9 310.5 C459.5 311.2 461.8 313.8 463.2 315.8 C464.6 317.8 467.9 322.7 469.5 325.3 C471.0 327.8 473.5 332.6 474.7 334.7 C476.0 336.8 477.7 340.6 478.9 341.1 C480.2 341.5 482.9 339.0 484.2 337.9 C485.5 336.8 487.3 334.0 488.4 332.6 C489.5 331.2 492.1 328.1 492.6 327.4" fill="none" stroke="#0b0b0b" stroke-width="1.95" stroke-linejoin="round" stroke-linecap="round"/>
<path d="M493.7 331.6 C494.4 332.1 498.4 334.4 498.9 335.8 C499.5 337.2 497.8 340.3 497.9 342.1 C498.0 343.9 499.3 347.8 500.0 349.5 C500.7 351.2 501.9 353.9 503.2 354.7 C504.4 355.6 507.8 355.9 509.5 355.8 C511.2 355.6 514.1 354.4 515.8 353.7 C517.5 353.0 520.4 350.8 522.1 350.5 C523.8 350.2 526.7 352.0 528.4 351.6 C530.1 351.2 533.3 348.4 534.7 347.4 C536.1 346.4 538.5 345.5 538.9 344.2 C539.4 342.9 537.9 339.6 537.9 337.9 C537.9 336.2 539.4 333.0 538.9 331.6 C538.5 330.2 536.4 328.1 534.7 327.4 C533.1 326.7 528.6 326.6 526.3 326.3 C524.1 326.0 519.9 325.1 517.9 325.3 C515.9 325.4 513.3 326.8 511.6 327.4 C509.9 327.9 506.9 329.2 505.3 329.5 C503.6 329.8 500.5 329.2 498.9 329.5 C497.4 329.8 494.4 331.3 493.7 331.6" fill="none" stroke="#0b0b0b" stroke-width="1.95" stroke-linejoin="round" stroke-linecap="round"/>
<path d="M500.0 355.8 C500.7 356.5 503.9 359.8 505.3 361.1 C506.7 362.3 510.2 364.0 510.5 365.3 C510.8 366.5 507.8 369.8 507.4 370.5" fill="none" stroke="#0b0b0b" stroke-width="1.95" stroke-linejoin="round" stroke-linecap="round"/>
<path d="M538.9 344.2 C540.1 344.4 545.3 345.3 547.4 345.3 C549.5 345.3 553.5 343.5 554.7 344.2 C556.0 344.9 556.1 349.0 556.8 350.5 C557.5 352.1 559.2 354.4 560.0 355.8 C560.8 357.2 563.2 359.5 563.2 361.1 C563.2 362.6 560.8 365.7 560.0 367.4 C559.2 369.1 557.8 372.0 556.8 373.7 C555.9 375.4 553.9 378.6 552.6 380.0 C551.4 381.4 548.4 383.1 547.4 384.2 C546.4 385.3 545.5 387.9 545.3 388.4" fill="none" stroke="#0b0b0b" stroke-width="1.95" stroke-linejoin="round" stroke-linecap="round"/>
<path d="M538.9 331.6 C539.1 330.2 539.7 323.4 540.0 321.1 C540.3 318.7 540.4 315.2 541.1 313.7 C541.8 312.1 543.9 309.9 545.3 309.5 C546.7 309.1 550.5 309.3 551.6 310.5 C552.7 311.8 553.1 316.1 553.7 318.9 C554.2 321.8 554.9 328.8 555.8 331.6 C556.6 334.4 559.9 337.5 560.0 340.0 C560.1 342.5 557.3 349.1 556.8 350.5" fill="none" stroke="#0b0b0b" stroke-width="1.95" stroke-linejoin="round" stroke-linecap="round"/>
<path d="M563.2 361.1 C563.9 360.5 566.9 357.6 568.4 356.8 C570.0 356.1 572.8 355.2 574.7 355.2 C576.7 355.1 580.9 356.4 583.2 356.4 C585.4 356.4 589.3 355.7 591.6 355.2 C593.8 354.7 598.9 353.0 600.0 352.6" fill="none" stroke="#0b0b0b" stroke-width="1.95" stroke-linejoin="round" stroke-linecap="round"/>
<path d="M615.8 311.1 C615.4 312.2 613.6 317.5 612.6 319.5 C611.6 321.4 609.5 324.1 608.4 325.8 C607.3 327.5 605.2 330.1 604.2 332.1 C603.2 334.1 601.9 338.3 601.1 340.5 C600.2 342.8 598.7 347.0 597.9 348.9 C597.1 350.9 594.5 354.3 594.7 355.3 C595.0 356.2 598.6 355.8 600.0 356.3 C601.4 356.9 604.1 358.4 605.3 359.5 C606.4 360.5 608.4 363.5 608.8 364.1" fill="none" stroke="#0b0b0b" stroke-width="1.95" stroke-linejoin="round" stroke-linecap="round"/>
<path d="M615.8 311.1 C616.5 311.9 619.5 315.7 621.1 317.4 C622.6 319.1 626.0 322.3 627.4 323.7 C628.7 325.0 630.7 327.0 631.2 327.5" fill="none" stroke="#0b0b0b" stroke-width="1.95" stroke-linejoin="round" stroke-linecap="round"/>
<path d="M594.7 355.3 C593.9 355.5 590.0 357.1 588.4 357.4 C586.9 357.6 583.9 357.0 583.2 356.9" fill="none" stroke="#0b0b0b" stroke-width="1.95" stroke-linejoin="round" stroke-linecap="round"/>
<path d="M615.8 311.1 C615.5 310.2 613.8 306.4 613.7 304.7 C613.6 303.1 615.3 300.1 615.2 298.4 C615.0 296.7 613.0 292.9 612.6 292.1" fill="none" stroke="#0b0b0b" stroke-width="1.95" stroke-linejoin="round" stroke-linecap="round"/>
<path d="M611.6 75.3 C611.4 76.1 610.1 80.3 610.5 81.6 C610.9 82.8 613.5 84.0 614.7 84.7 C616.0 85.4 619.2 86.0 620.0 86.8 C620.8 87.7 620.1 90.4 621.1 91.1 C622.0 91.8 625.8 92.4 627.4 92.1 C628.9 91.8 631.4 89.1 632.6 88.9 C633.8 88.8 635.7 89.9 636.4 91.1 C637.1 92.2 637.8 95.5 637.9 97.4 C638.0 99.2 637.5 102.8 637.3 104.7 C637.1 106.7 636.5 111.1 636.4 112.1" fill="none" stroke="#0b0b0b" stroke-width="1.95" stroke-linejoin="round" stroke-linecap="round"/>
<path d="M629.5 141.6 C628.9 142.1 626.2 144.9 625.3 145.8 C624.3 146.6 622.1 146.9 622.1 147.9 C622.1 148.9 624.6 151.8 625.3 153.2 C626.0 154.6 626.5 157.4 627.4 158.4 C628.2 159.4 631.0 160.2 631.6 160.5" fill="none" stroke="#0b0b0b" stroke-width="1.95" stroke-linejoin="round" stroke-linecap="round"/>
<path d="M649.5 173.2 C649.9 174.3 651.9 179.3 652.6 181.6 C653.3 183.8 654.5 188.9 654.7 190.0" fill="none" stroke="#0b0b0b" stroke-width="1.95" stroke-linejoin="round" stroke-linecap="round"/>
<path d="M635.8 168.9 C634.8 169.6 630.2 172.9 628.4 174.2 C626.6 175.5 623.6 177.2 622.1 178.4 C620.6 179.7 618.2 182.4 616.8 183.7 C615.4 184.9 612.6 187.9 611.6 187.9 C610.6 187.9 609.6 183.3 609.5 183.7 C609.3 184.1 610.9 189.4 610.5 191.1 C610.1 192.7 606.9 195.6 606.3 196.3" fill="none" stroke="#0b0b0b" stroke-width="1.95" stroke-linejoin="round" stroke-linecap="round"/>
<path d="M590.9 238.6 C591.3 239.6 593.6 244.2 593.9 246.0 C594.2 247.8 593.0 250.3 593.2 251.9 C593.4 253.5 594.4 256.7 595.4 257.8 C596.4 258.9 599.2 259.9 600.5 260.0 C601.9 260.1 604.4 258.8 605.7 258.5 C607.0 258.2 609.1 258.0 610.1 257.8 C611.1 257.6 612.7 257.2 613.1 257.1" fill="none" stroke="#0b0b0b" stroke-width="1.95" stroke-linejoin="round" stroke-linecap="round"/>
<path d="M450.3 128.2V133.7H522.6V127.2M485.2 128.2V133.7" fill="none" stroke="#0b0b0b" stroke-width="1.4"/>
<text x="450.5" y="124.6" font-family='"Liberation Sans","Noto Sans CJK SC",sans-serif' font-size="10.8" font-weight="700" text-anchor="middle" fill="#0b0b0b" textLength="5.5" lengthAdjust="spacingAndGlyphs">0</text>
<text x="485.8" y="124.6" font-family='"Liberation Sans","Noto Sans CJK SC",sans-serif' font-size="10.8" font-weight="700" text-anchor="middle" fill="#0b0b0b" textLength="17" lengthAdjust="spacingAndGlyphs">450</text>
<text x="528.8" y="124.6" font-family='"Liberation Sans","Noto Sans CJK SC",sans-serif' font-size="10.8" font-weight="700" text-anchor="middle" fill="#0b0b0b" textLength="37.5" lengthAdjust="spacingAndGlyphs">900 km</text>
<path d="M658.9 334.2L658.1 337.6" stroke="#0b0b0b" stroke-width="1.8" stroke-linecap="round"/>
<path d="M666.3 334.2L666.5 334.6" stroke="#0b0b0b" stroke-width="2.1" stroke-linecap="round"/>
<path d="M655.8 355.3L655.8 362.6" stroke="#0b0b0b" stroke-width="1.8" stroke-linecap="round"/>
<path d="M628.4 364.5L628.6 364.9" stroke="#0b0b0b" stroke-width="2.1" stroke-linecap="round"/>
<path d="M646.3 378.4L646.5 378.6" stroke="#0b0b0b" stroke-width="2.1" stroke-linecap="round"/>
<path d="M651.2 380.1L648.4 386.8" stroke="#0b0b0b" stroke-width="1.8" stroke-linecap="round"/>
<path d="M597.9 387.9L598.1 388.1" stroke="#0b0b0b" stroke-width="2.1" stroke-linecap="round"/>
<path d="M598.9 391.1L599.2 391.3" stroke="#0b0b0b" stroke-width="2.1" stroke-linecap="round"/>
<path d="M605.3 393.2L605.5 393.4" stroke="#0b0b0b" stroke-width="2.1" stroke-linecap="round"/>
<path d="M633.3 414.2L631.2 422.0" stroke="#0b0b0b" stroke-width="1.8" stroke-linecap="round"/>
<rect x="672.6" y="315.3" width="76.2" height="113.6" fill="#fff" stroke="#0b0b0b" stroke-width="1.5"/>
<rect x="699" y="413.6" width="49.8" height="15.3" fill="#fff" stroke="#0b0b0b" stroke-width="1.3"/>
<text x="724" y="425.6" font-family='"Liberation Serif","Noto Serif CJK SC",serif' font-size="11.6" font-weight="900" text-anchor="middle" fill="#0b0b0b" stroke="#0b0b0b" stroke-width="0.3" textLength="46" lengthAdjust="spacingAndGlyphs">南海诸岛</text>
<path d="M677.9 316.3 C678.2 317.0 679.2 320.5 680.0 321.6 C680.8 322.7 682.9 324.2 684.2 324.7 C685.5 325.3 688.1 325.9 689.5 325.8 C690.9 325.6 693.8 323.5 694.7 323.7 C695.7 323.8 696.7 325.8 696.8 326.8 C697.0 327.9 695.7 330.8 695.8 331.5 C695.8 332.2 696.8 332.6 697.3 332.1 C697.7 331.6 698.5 328.9 698.9 327.5 C699.4 326.1 699.8 322.8 700.6 321.6 C701.5 320.4 704.2 319.1 705.3 318.4 C706.3 317.7 708.0 316.6 708.4 316.3" fill="none" stroke="#0b0b0b" stroke-width="1.8" stroke-linejoin="round" stroke-linecap="round"/>
<path d="M689.5 337.4 C690.0 336.4 691.5 334.1 692.6 333.4 C693.8 332.7 696.9 331.9 697.9 332.1 C698.9 332.4 700.2 334.1 700.2 335.3 C700.2 336.4 699.1 339.5 698.1 340.5 C697.1 341.5 693.9 342.6 692.6 342.6 C691.4 342.6 689.3 341.2 688.8 340.5 C688.4 339.8 689.0 338.3 689.5 337.4Z" fill="#fff" stroke="#0b0b0b" stroke-width="1.8" stroke-linejoin="round" stroke-linecap="round"/>
<rect x="708.4" y="316.1" width="8.6" height="7.2" fill="#0b0b0b"/>
<path d="M717.5 317.8 C718.1 317.7 720.9 317.1 722.1 316.9 C723.3 316.8 725.8 316.4 726.3 316.3" fill="none" stroke="#0b0b0b" stroke-width="1.2" stroke-linejoin="round" stroke-linecap="round"/>
<path d="M738.9 316.3 C739.2 316.7 740.1 319.5 740.6 319.5 C741.1 319.5 742.5 316.7 742.7 316.3" fill="none" stroke="#0b0b0b" stroke-width="1.2" stroke-linejoin="round" stroke-linecap="round"/>
<path d="M721.1 326.2L720.0 329.2" stroke="#0b0b0b" stroke-width="1.9" stroke-linecap="round"/>
<path d="M724.6 327.5L724.2 330.0" stroke="#0b0b0b" stroke-width="1.9" stroke-linecap="round"/>
<path d="M728.4 327.9L728.6 328.3" stroke="#0b0b0b" stroke-width="2.1" stroke-linecap="round"/>
<path d="M745.7 321.6L745.9 322.0" stroke="#0b0b0b" stroke-width="2.1" stroke-linecap="round"/>
<path d="M745.3 326.2L743.6 330.4" stroke="#0b0b0b" stroke-width="1.9" stroke-linecap="round"/>
<path d="M738.9 338.8L737.3 344.3" stroke="#0b0b0b" stroke-width="1.9" stroke-linecap="round"/>
<path d="M744.8 339.7L744.4 343.1" stroke="#0b0b0b" stroke-width="1.9" stroke-linecap="round"/>
<path d="M700.6 345.2L700.8 345.6" stroke="#0b0b0b" stroke-width="2.1" stroke-linecap="round"/>
<path d="M690.5 351.5L693.1 356.9" stroke="#0b0b0b" stroke-width="1.9" stroke-linecap="round"/>
<path d="M699.4 351.1L699.6 351.5" stroke="#0b0b0b" stroke-width="2.1" stroke-linecap="round"/>
<path d="M705.7 350.2L705.9 350.6" stroke="#0b0b0b" stroke-width="2.1" stroke-linecap="round"/>
<path d="M712.6 352.3L712.8 352.7" stroke="#0b0b0b" stroke-width="2.1" stroke-linecap="round"/>
<path d="M716.2 348.9L716.4 349.4" stroke="#0b0b0b" stroke-width="2.1" stroke-linecap="round"/>
<path d="M730.9 352.3L731.2 352.7" stroke="#0b0b0b" stroke-width="2.1" stroke-linecap="round"/>
<path d="M737.3 353.2L738.5 358.6" stroke="#0b0b0b" stroke-width="1.9" stroke-linecap="round"/>
<path d="M695.8 370.0L695.8 375.9" stroke="#0b0b0b" stroke-width="1.9" stroke-linecap="round"/>
<path d="M715.4 370.0L715.6 370.4" stroke="#0b0b0b" stroke-width="2.1" stroke-linecap="round"/>
<path d="M726.7 369.6L726.9 370.0" stroke="#0b0b0b" stroke-width="2.1" stroke-linecap="round"/>
<path d="M733.1 372.5L733.3 372.9" stroke="#0b0b0b" stroke-width="2.1" stroke-linecap="round"/>
<path d="M738.5 368.3L737.3 373.4" stroke="#0b0b0b" stroke-width="1.9" stroke-linecap="round"/>
<path d="M711.2 375.9L711.4 376.3" stroke="#0b0b0b" stroke-width="2.1" stroke-linecap="round"/>
<path d="M716.2 376.7L716.4 377.2" stroke="#0b0b0b" stroke-width="2.1" stroke-linecap="round"/>
<path d="M719.6 383.9L719.8 384.3" stroke="#0b0b0b" stroke-width="2.1" stroke-linecap="round"/>
<path d="M709.9 385.8L710.1 386.2" stroke="#0b0b0b" stroke-width="2.1" stroke-linecap="round"/>
<path d="M724.2 388.9L721.3 394.0" stroke="#0b0b0b" stroke-width="1.9" stroke-linecap="round"/>
<path d="M713.3 388.9L713.5 389.4" stroke="#0b0b0b" stroke-width="2.1" stroke-linecap="round"/>
<path d="M684.6 389.8L684.2 395.3" stroke="#0b0b0b" stroke-width="1.9" stroke-linecap="round"/>
<path d="M691.8 390.2L692.0 390.6" stroke="#0b0b0b" stroke-width="2.1" stroke-linecap="round"/>
<path d="M700.6 389.8L700.8 390.2" stroke="#0b0b0b" stroke-width="2.1" stroke-linecap="round"/>
<path d="M707.8 397.8L708.0 398.2" stroke="#0b0b0b" stroke-width="2.1" stroke-linecap="round"/>
<path d="M704.4 404.1L704.6 404.5" stroke="#0b0b0b" stroke-width="2.1" stroke-linecap="round"/>
<path d="M701.5 409.2L707.8 407.5" stroke="#0b0b0b" stroke-width="1.9" stroke-linecap="round"/>
<rect x="209.9" y="320.1" width="20.4" height="10" fill="url(#lA)" stroke="#0b0b0b" stroke-width="1.3"/>
<text x="235.2" y="330.3" font-family='"Liberation Sans","Noto Sans CJK SC",sans-serif' font-size="14" font-weight="700" fill="#0b0b0b" textLength="73.5" lengthAdjust="spacing">哈长城市群</text>
<rect x="209.9" y="338.7" width="20.4" height="10" fill="url(#lB)" stroke="#0b0b0b" stroke-width="1.3"/>
<text x="235.2" y="348.9" font-family='"Liberation Sans","Noto Sans CJK SC",sans-serif' font-size="14" font-weight="700" fill="#0b0b0b" textLength="73.5" lengthAdjust="spacing">中原城市群</text>
<rect x="209.9" y="357.4" width="20.4" height="10" fill="url(#lC)" stroke="#0b0b0b" stroke-width="1.3"/>
<text x="235.2" y="367.6" font-family='"Liberation Sans","Noto Sans CJK SC",sans-serif' font-size="14" font-weight="700" fill="#0b0b0b" textLength="88.4" lengthAdjust="spacing">长三角城市群</text>
<rect x="209.9" y="375.8" width="20.4" height="10" fill="url(#hD)" stroke="#0b0b0b" stroke-width="1.3"/>
<text x="235.2" y="386.0" font-family='"Liberation Sans","Noto Sans CJK SC",sans-serif' font-size="14" font-weight="700" fill="#0b0b0b" textLength="88.4" lengthAdjust="spacing">珠三角城市群</text>
<rect x="209.9" y="394.0" width="20.4" height="10" fill="url(#lE)" stroke="#0b0b0b" stroke-width="1.3"/>
<text x="235.2" y="404.2" font-family='"Liberation Sans","Noto Sans CJK SC",sans-serif' font-size="14" font-weight="700" fill="#0b0b0b" textLength="88.4" lengthAdjust="spacing">京津冀城市群</text>
<rect x="209.9" y="412.6" width="20.4" height="10" fill="url(#hF)" stroke="#0b0b0b" stroke-width="1.3"/>
<text x="235.2" y="422.8" font-family='"Liberation Sans","Noto Sans CJK SC",sans-serif' font-size="14" font-weight="700" fill="#0b0b0b" textLength="103.3" lengthAdjust="spacing">长江中游城市群</text>
<rect x="209.9" y="430.8" width="20.4" height="10" fill="url(#hG)" stroke="#0b0b0b" stroke-width="1.3"/>
<text x="235.2" y="441.0" font-family='"Liberation Sans","Noto Sans CJK SC",sans-serif' font-size="14" font-weight="700" fill="#0b0b0b" textLength="73.5" lengthAdjust="spacing">成渝城市群</text>
<text x="349" y="359.2" font-family='"Liberation Sans","Noto Sans CJK SC",sans-serif' font-size="11" font-weight="900" fill="#0b0b0b" textLength="44.6" lengthAdjust="spacing">创业比例</text>
<rect x="356.2" y="376.4" width="5" height="7.3" fill="#0b0b0b"/><rect x="361" y="370.4" width="5" height="13.3" fill="#0b0b0b"/><rect x="366.6" y="363.4" width="4.6" height="20.1" fill="#fff" stroke="#0b0b0b" stroke-width="1.1"/>
<rect x="348.2" y="394.6" width="3.8" height="7.2" fill="#0b0b0b"/>
<text x="357.4" y="402.1" font-family='"Liberation Sans","Noto Sans CJK SC",sans-serif' font-size="10.8" font-weight="900" fill="#0b0b0b" textLength="45.8" lengthAdjust="spacing">总体创业</text>
<rect x="348.2" y="407.2" width="3.8" height="7.2" fill="#0b0b0b"/>
<text x="357.4" y="414.7" font-family='"Liberation Sans","Noto Sans CJK SC",sans-serif' font-size="10.8" font-weight="900" fill="#0b0b0b" textLength="57.4" lengthAdjust="spacing">生存型创业</text>
<rect x="348.5" y="420.2" width="3.2" height="6.8" fill="#fff" stroke="#0b0b0b" stroke-width="1.1"/>
<text x="357.4" y="427.5" font-family='"Liberation Sans","Noto Sans CJK SC",sans-serif' font-size="10.8" font-weight="900" fill="#0b0b0b" textLength="57.4" lengthAdjust="spacing">机会型创业</text><path d="M248.0 915.2 Q317.8 919.5 387.6 913.4 L427.3 1230.0 Q322.4 1233.2 217.6 1230.6Z" fill="#d9d9d9"/>
<path d="M239.2 1018.8 C240.0 1018.5 242.3 1017.9 244.2 1017.0 C246.1 1016.2 248.2 1014.6 250.5 1013.7 C252.8 1012.9 255.5 1012.4 258.1 1012.0 C260.7 1011.5 264.1 1011.7 266.2 1011.0 C268.3 1010.2 270.5 1009.2 270.7 1007.7 C271.0 1006.1 268.5 1003.5 267.7 1001.6 C266.9 999.7 265.7 997.8 266.2 996.1 C266.7 994.3 268.9 992.9 270.7 991.0 C272.5 989.1 274.9 987.0 277.1 984.7 C279.2 982.4 281.7 979.6 283.4 977.1 C285.1 974.6 285.7 971.6 287.2 969.5 C288.6 967.4 290.1 965.9 292.2 964.5 C294.3 963.1 297.1 961.9 299.8 961.2 C302.5 960.4 306.1 959.7 308.6 959.9 C311.2 960.1 313.3 962.3 314.9 962.5 C316.6 962.6 317.6 961.4 318.7 960.9 C319.8 960.5 321.4 959.0 321.5 959.9 C321.6 960.9 319.8 964.3 319.2 966.5 C318.7 968.7 317.9 971.1 318.2 973.3 C318.6 975.5 319.9 979.0 321.3 979.9 C322.6 980.7 324.6 979.5 326.3 978.4 C328.0 977.3 329.5 975.0 331.4 973.3 C333.3 971.7 335.4 969.7 337.7 968.5 C340.0 967.3 343.2 966.3 345.3 966.0 C347.3 965.7 349.1 967.1 350.1 966.7 C351.0 966.4 351.0 965.4 350.8 963.7 C350.7 962.1 349.4 959.3 349.1 956.9 C348.7 954.5 348.2 951.3 348.5 949.3 C348.9 947.3 349.5 946.0 351.1 945.0 C352.6 944.0 356.3 943.2 357.9 943.3 C359.5 943.3 360.5 944.1 360.9 945.5 C361.3 947.0 360.5 949.7 360.2 951.8 C359.8 953.9 359.1 956.2 358.7 958.2 C358.2 960.1 357.8 961.9 357.4 963.7 C357.0 965.5 356.8 967.2 356.4 968.8 C356.0 970.4 355.4 971.6 354.9 973.3 C354.3 975.0 354.7 977.2 353.1 978.9 C351.5 980.6 347.8 981.6 345.3 983.4 C342.7 985.2 340.0 987.6 337.7 989.7 C335.4 991.8 333.3 993.7 331.4 996.1 C329.5 998.4 328.0 1000.9 326.3 1003.6 C324.6 1006.4 322.9 1009.9 321.3 1012.5 C319.6 1015.0 317.9 1016.7 316.2 1018.8 C314.5 1020.9 313.1 1023.0 311.2 1025.1 C309.3 1027.2 307.2 1029.5 304.8 1031.4 C302.5 1033.3 299.8 1034.8 297.3 1036.5 C294.7 1038.2 291.8 1039.4 289.7 1041.5 C287.6 1043.6 286.0 1046.6 284.6 1049.1 C283.2 1051.6 282.3 1054.1 281.3 1056.7 C280.4 1059.3 280.0 1062.5 279.1 1064.8 C278.1 1067.0 276.6 1068.0 275.5 1070.1 C274.4 1072.3 273.2 1074.7 272.5 1077.7 C271.8 1080.6 271.6 1084.4 271.5 1087.8 C271.4 1091.2 271.7 1094.5 272.0 1097.9 C272.3 1101.3 272.8 1104.2 273.3 1108.0 C273.8 1111.8 274.5 1116.4 275.0 1120.6 C275.6 1124.8 276.1 1129.1 276.5 1133.3 C277.0 1137.5 277.4 1141.7 277.8 1145.9 C278.2 1150.1 278.7 1155.2 278.8 1158.5 C279.0 1161.9 278.6 1163.8 278.8 1166.1 C279.1 1168.4 279.7 1170.9 280.3 1172.4 C281.0 1173.9 281.7 1175.2 282.9 1175.2 C284.0 1175.2 285.4 1173.8 287.2 1172.7 C288.9 1171.6 291.4 1170.1 293.5 1168.6 C295.6 1167.2 297.9 1165.8 299.8 1164.1 C301.7 1162.4 303.6 1160.5 304.8 1158.5 C306.1 1156.5 306.7 1154.3 307.4 1152.2 C308.1 1150.1 308.3 1148.0 309.1 1145.9 C310.0 1143.8 311.0 1141.4 312.4 1139.6 C313.8 1137.7 316.0 1136.0 317.5 1134.8 C318.9 1133.6 320.7 1133.6 321.3 1132.3 C321.8 1130.9 321.1 1128.7 320.8 1126.9 C320.4 1125.2 318.9 1123.8 319.2 1121.9 C319.5 1120.0 321.3 1117.5 322.5 1115.6 C323.7 1113.7 324.6 1111.7 326.3 1110.5 C328.0 1109.4 330.3 1109.2 332.6 1108.8 C334.9 1108.3 338.2 1108.3 340.2 1107.7 C342.2 1107.2 343.7 1106.9 344.5 1105.7 C345.3 1104.5 345.3 1102.4 345.3 1100.4 C345.2 1098.5 344.0 1096.2 344.0 1094.1 C344.0 1092.0 344.4 1089.9 345.3 1087.8 C346.1 1085.7 347.8 1083.6 349.1 1081.5 C350.3 1079.4 352.0 1077.1 352.8 1075.2 C353.7 1073.2 354.3 1071.0 354.4 1069.6 C354.4 1068.2 353.7 1068.1 353.1 1066.8 C352.5 1065.5 351.1 1063.4 350.8 1061.7 C350.6 1060.1 351.2 1058.6 351.6 1056.7 C351.9 1054.8 352.9 1052.5 352.8 1050.4 C352.8 1048.3 352.1 1045.7 351.1 1044.1 C350.0 1042.4 347.9 1041.9 346.5 1040.3 C345.1 1038.6 342.9 1036.3 342.7 1033.9 C342.5 1031.6 344.4 1028.5 345.3 1026.4 C346.1 1024.3 346.7 1023.4 347.8 1021.3 C348.8 1019.2 350.7 1016.3 351.6 1013.7 C352.4 1011.2 352.3 1008.4 352.8 1006.2 C353.3 1003.9 353.8 1001.6 354.6 1000.1 C355.5 998.6 356.3 997.8 357.9 997.3 C359.5 996.9 362.2 997.1 364.2 997.3 C366.2 997.5 368.1 999.0 369.8 998.6 C371.5 998.2 372.9 995.5 374.3 995.0 C375.7 994.6 376.8 996.5 378.1 996.1 C379.4 995.6 380.2 993.7 381.9 992.5 C383.6 991.3 386.0 990.2 388.2 989.0 C390.4 987.8 393.9 985.8 395.0 985.2 L387.6 913.4 L248.0 915.2Z" fill="#fff"/>
<path d="M239.2 1018.8 C240.0 1018.5 242.3 1017.9 244.2 1017.0 C246.1 1016.2 248.2 1014.6 250.5 1013.7 C252.8 1012.9 255.5 1012.4 258.1 1012.0 C260.7 1011.5 264.1 1011.7 266.2 1011.0 C268.3 1010.2 270.5 1009.2 270.7 1007.7 C271.0 1006.1 268.5 1003.5 267.7 1001.6 C266.9 999.7 265.7 997.8 266.2 996.1 C266.7 994.3 268.9 992.9 270.7 991.0 C272.5 989.1 274.9 987.0 277.1 984.7 C279.2 982.4 281.7 979.6 283.4 977.1 C285.1 974.6 285.7 971.6 287.2 969.5 C288.6 967.4 290.1 965.9 292.2 964.5 C294.3 963.1 297.1 961.9 299.8 961.2 C302.5 960.4 306.1 959.7 308.6 959.9 C311.2 960.1 313.3 962.3 314.9 962.5 C316.6 962.6 317.6 961.4 318.7 960.9 C319.8 960.5 321.4 959.0 321.5 959.9 C321.6 960.9 319.8 964.3 319.2 966.5 C318.7 968.7 317.9 971.1 318.2 973.3 C318.6 975.5 319.9 979.0 321.3 979.9 C322.6 980.7 324.6 979.5 326.3 978.4 C328.0 977.3 329.5 975.0 331.4 973.3 C333.3 971.7 335.4 969.7 337.7 968.5 C340.0 967.3 343.2 966.3 345.3 966.0 C347.3 965.7 349.1 967.1 350.1 966.7 C351.0 966.4 351.0 965.4 350.8 963.7 C350.7 962.1 349.4 959.3 349.1 956.9 C348.7 954.5 348.2 951.3 348.5 949.3 C348.9 947.3 349.5 946.0 351.1 945.0 C352.6 944.0 356.3 943.2 357.9 943.3 C359.5 943.3 360.5 944.1 360.9 945.5 C361.3 947.0 360.5 949.7 360.2 951.8 C359.8 953.9 359.1 956.2 358.7 958.2 C358.2 960.1 357.8 961.9 357.4 963.7 C357.0 965.5 356.8 967.2 356.4 968.8 C356.0 970.4 355.4 971.6 354.9 973.3 C354.3 975.0 354.7 977.2 353.1 978.9 C351.5 980.6 347.8 981.6 345.3 983.4 C342.7 985.2 340.0 987.6 337.7 989.7 C335.4 991.8 333.3 993.7 331.4 996.1 C329.5 998.4 328.0 1000.9 326.3 1003.6 C324.6 1006.4 322.9 1009.9 321.3 1012.5 C319.6 1015.0 317.9 1016.7 316.2 1018.8 C314.5 1020.9 313.1 1023.0 311.2 1025.1 C309.3 1027.2 307.2 1029.5 304.8 1031.4 C302.5 1033.3 299.8 1034.8 297.3 1036.5 C294.7 1038.2 291.8 1039.4 289.7 1041.5 C287.6 1043.6 286.0 1046.6 284.6 1049.1 C283.2 1051.6 282.3 1054.1 281.3 1056.7 C280.4 1059.3 280.0 1062.5 279.1 1064.8 C278.1 1067.0 276.6 1068.0 275.5 1070.1 C274.4 1072.3 273.2 1074.7 272.5 1077.7 C271.8 1080.6 271.6 1084.4 271.5 1087.8 C271.4 1091.2 271.7 1094.5 272.0 1097.9 C272.3 1101.3 272.8 1104.2 273.3 1108.0 C273.8 1111.8 274.5 1116.4 275.0 1120.6 C275.6 1124.8 276.1 1129.1 276.5 1133.3 C277.0 1137.5 277.4 1141.7 277.8 1145.9 C278.2 1150.1 278.7 1155.2 278.8 1158.5 C279.0 1161.9 278.6 1163.8 278.8 1166.1 C279.1 1168.4 279.7 1170.9 280.3 1172.4 C281.0 1173.9 281.7 1175.2 282.9 1175.2 C284.0 1175.2 285.4 1173.8 287.2 1172.7 C288.9 1171.6 291.4 1170.1 293.5 1168.6 C295.6 1167.2 297.9 1165.8 299.8 1164.1 C301.7 1162.4 303.6 1160.5 304.8 1158.5 C306.1 1156.5 306.7 1154.3 307.4 1152.2 C308.1 1150.1 308.3 1148.0 309.1 1145.9 C310.0 1143.8 311.0 1141.4 312.4 1139.6 C313.8 1137.7 316.0 1136.0 317.5 1134.8 C318.9 1133.6 320.7 1133.6 321.3 1132.3 C321.8 1130.9 321.1 1128.7 320.8 1126.9 C320.4 1125.2 318.9 1123.8 319.2 1121.9 C319.5 1120.0 321.3 1117.5 322.5 1115.6 C323.7 1113.7 324.6 1111.7 326.3 1110.5 C328.0 1109.4 330.3 1109.2 332.6 1108.8 C334.9 1108.3 338.2 1108.3 340.2 1107.7 C342.2 1107.2 343.7 1106.9 344.5 1105.7 C345.3 1104.5 345.3 1102.4 345.3 1100.4 C345.2 1098.5 344.0 1096.2 344.0 1094.1 C344.0 1092.0 344.4 1089.9 345.3 1087.8 C346.1 1085.7 347.8 1083.6 349.1 1081.5 C350.3 1079.4 352.0 1077.1 352.8 1075.2 C353.7 1073.2 354.3 1071.0 354.4 1069.6 C354.4 1068.2 353.7 1068.1 353.1 1066.8 C352.5 1065.5 351.1 1063.4 350.8 1061.7 C350.6 1060.1 351.2 1058.6 351.6 1056.7 C351.9 1054.8 352.9 1052.5 352.8 1050.4 C352.8 1048.3 352.1 1045.7 351.1 1044.1 C350.0 1042.4 347.9 1041.9 346.5 1040.3 C345.1 1038.6 342.9 1036.3 342.7 1033.9 C342.5 1031.6 344.4 1028.5 345.3 1026.4 C346.1 1024.3 346.7 1023.4 347.8 1021.3 C348.8 1019.2 350.7 1016.3 351.6 1013.7 C352.4 1011.2 352.3 1008.4 352.8 1006.2 C353.3 1003.9 353.8 1001.6 354.6 1000.1 C355.5 998.6 356.3 997.8 357.9 997.3 C359.5 996.9 362.2 997.1 364.2 997.3 C366.2 997.5 368.1 999.0 369.8 998.6 C371.5 998.2 372.9 995.5 374.3 995.0 C375.7 994.6 376.8 996.5 378.1 996.1 C379.4 995.6 380.2 993.7 381.9 992.5 C383.6 991.3 386.0 990.2 388.2 989.0 C390.4 987.8 393.9 985.8 395.0 985.2" fill="none" stroke="#111" stroke-width="2.1" stroke-linejoin="round"/>
<path d="M356.6 1022.8 C356.9 1021.6 357.9 1019.2 359.2 1017.8 C360.4 1016.4 362.7 1015.2 364.2 1014.5 C365.7 1013.8 367.2 1013.4 368.0 1013.7 C368.8 1014.1 369.4 1015.5 369.0 1016.8 C368.6 1018.0 367.1 1020.1 365.7 1021.3 C364.3 1022.6 362.1 1023.7 360.7 1024.3 C359.3 1025.0 358.1 1025.6 357.4 1025.4 C356.7 1025.1 356.3 1024.1 356.6 1022.8Z" fill="#fff" stroke="#111" stroke-width="1.5"/>
<path d="M386.4 1090.3 C387.0 1089.6 388.6 1088.2 390.0 1089.1 C391.3 1089.9 393.2 1093.5 394.5 1095.4 C395.8 1097.3 397.7 1099.3 397.8 1100.4 C397.9 1101.5 396.4 1102.4 395.0 1101.9 C393.6 1101.5 390.9 1099.3 389.5 1097.9 C388.0 1096.5 386.9 1094.6 386.4 1093.3 C385.9 1092.1 385.9 1091.0 386.4 1090.3Z" fill="#fff" stroke="#111" stroke-width="1.5"/>
<circle cx="401.1" cy="1084.8" r="0.8" fill="#111"/>
<circle cx="406.7" cy="1099.4" r="1.6" fill="#111"/>
<circle cx="266.9" cy="1177.5" r="1.3" fill="#111"/>
<circle cx="273.3" cy="1180.3" r="1.0" fill="#111"/>
<circle cx="274.8" cy="1183.8" r="1.2" fill="#111"/>
<circle cx="260.6" cy="1189.3" r="1.3" fill="#111"/>
<circle cx="265.2" cy="1190.4" r="1.5" fill="#111"/>
<circle cx="269.5" cy="1187.8" r="1.2" fill="#111"/>
<circle cx="237.9" cy="1213.1" r="1.0" fill="#111"/>
<circle cx="243.5" cy="1209.6" r="0.9" fill="#111"/>
<circle cx="247.5" cy="1209.1" r="0.9" fill="#111"/>
<circle cx="251.3" cy="1206.5" r="0.9" fill="#111"/>
<circle cx="255.6" cy="1204.3" r="0.9" fill="#111"/>
<circle cx="245.0" cy="1211.6" r="0.8" fill="#111"/>
<circle cx="344.5" cy="1107.0" r="0.8" fill="#111"/>
<path d="M248.0 915.2 Q317.8 919.5 387.6 913.4 L427.3 1230.0 Q322.4 1233.2 217.6 1230.6Z" fill="none" stroke="#111" stroke-width="1.6"/>
<path d="M228.0 1231.5 L235.1 1231.5 L231.6 1224.5Z" fill="#111"/>
<path d="M323.3 1030.5L327.3 1030.5L325.3 1026.9Z" fill="#fff" stroke="#111" stroke-width="1.0" stroke-linejoin="round"/>
<path d="M328.5 1030.9L332.5 1030.9L330.5 1027.3Z" fill="#111" stroke="#111" stroke-width="1.0" stroke-linejoin="round"/>
<path d="M325.3 1035.5L329.3 1035.5L327.3 1031.9Z" fill="#fff" stroke="#111" stroke-width="1.0" stroke-linejoin="round"/>
<path d="M322.7 1040.7L326.7 1040.7L324.7 1037.1Z" fill="#fff" stroke="#111" stroke-width="1.0" stroke-linejoin="round"/>
<path d="M324.9 1044.6L328.9 1044.6L326.9 1041.0Z" fill="#111" stroke="#111" stroke-width="1.0" stroke-linejoin="round"/>
<path d="M320.7 1048.5L324.7 1048.5L322.7 1044.9Z" fill="#fff" stroke="#111" stroke-width="1.0" stroke-linejoin="round"/>
<path d="M318.1 1051.7L322.1 1051.7L320.1 1048.1Z" fill="#fff" stroke="#111" stroke-width="1.0" stroke-linejoin="round"/>
<path d="M321.6 1053.9L325.6 1053.9L323.6 1050.3Z" fill="#111" stroke="#111" stroke-width="1.0" stroke-linejoin="round"/>
<path d="M319.4 1058.9L323.4 1058.9L321.4 1055.3Z" fill="#fff" stroke="#111" stroke-width="1.0" stroke-linejoin="round"/>
<path d="M316.8 1062.8L320.8 1062.8L318.8 1059.2Z" fill="#fff" stroke="#111" stroke-width="1.0" stroke-linejoin="round"/>
<path d="M314.2 1066.7L318.2 1066.7L316.2 1063.1Z" fill="#111" stroke="#111" stroke-width="1.0" stroke-linejoin="round"/>
<path d="M313.6 1069.6L317.6 1069.6L315.6 1066.0Z" fill="#fff" stroke="#111" stroke-width="1.0" stroke-linejoin="round"/>
<path d="M295.3 1068.0L299.3 1068.0L297.3 1064.4Z" fill="#fff" stroke="#111" stroke-width="1.0" stroke-linejoin="round"/>
<path d="M302.5 1066.1L306.5 1066.1L304.5 1062.5Z" fill="#111" stroke="#111" stroke-width="1.0" stroke-linejoin="round"/>
<path d="M307.7 1062.1L311.7 1062.1L309.7 1058.5Z" fill="#fff" stroke="#111" stroke-width="1.0" stroke-linejoin="round"/>
<path d="M300.6 1074.5L304.6 1074.5L302.6 1070.9Z" fill="#fff" stroke="#111" stroke-width="1.0" stroke-linejoin="round"/>
<path d="M309.7 1071.9L313.7 1071.9L311.7 1068.3Z" fill="#111" stroke="#111" stroke-width="1.0" stroke-linejoin="round"/>
<path d="M294.7 1081.0L298.7 1081.0L296.7 1077.4Z" fill="#fff" stroke="#111" stroke-width="1.0" stroke-linejoin="round"/>
<path d="M297.9 1084.9L301.9 1084.9L299.9 1081.3Z" fill="#fff" stroke="#111" stroke-width="1.0" stroke-linejoin="round"/>
<path d="M305.8 1084.9L309.8 1084.9L307.8 1081.3Z" fill="#111" stroke="#111" stroke-width="1.0" stroke-linejoin="round"/>
<path d="M302.5 1092.7L306.5 1092.7L304.5 1089.1Z" fill="#fff" stroke="#111" stroke-width="1.0" stroke-linejoin="round"/>
<path d="M332.5 1065.1L336.5 1065.1L334.5 1061.5Z" fill="#fff" stroke="#111" stroke-width="1.0" stroke-linejoin="round"/>
<path d="M327.9 1069.3L331.9 1069.3L329.9 1065.7Z" fill="#111" stroke="#111" stroke-width="1.0" stroke-linejoin="round"/>
<path d="M325.9 1077.1L329.9 1077.1L327.9 1073.5Z" fill="#fff" stroke="#111" stroke-width="1.0" stroke-linejoin="round"/>
<path d="M322.7 1081.3L326.7 1081.3L324.7 1077.7Z" fill="#fff" stroke="#111" stroke-width="1.0" stroke-linejoin="round"/>
<path d="M338.3 1079.7L342.3 1079.7L340.3 1076.1Z" fill="#111" stroke="#111" stroke-width="1.0" stroke-linejoin="round"/>
<path d="M325.3 1092.7L329.3 1092.7L327.3 1089.1Z" fill="#fff" stroke="#111" stroke-width="1.0" stroke-linejoin="round"/>
<path d="M322.0 1096.7L326.0 1096.7L324.0 1093.1Z" fill="#fff" stroke="#111" stroke-width="1.0" stroke-linejoin="round"/>
<path d="M327.9 1100.6L331.9 1100.6L329.9 1097.0Z" fill="#111" stroke="#111" stroke-width="1.0" stroke-linejoin="round"/>
<path d="M290.1 1102.5L294.1 1102.5L292.1 1098.9Z" fill="#fff" stroke="#111" stroke-width="1.0" stroke-linejoin="round"/>
<path d="M320.7 1107.1L324.7 1107.1L322.7 1103.5Z" fill="#fff" stroke="#111" stroke-width="1.0" stroke-linejoin="round"/>
<path d="M318.1 1111.0L322.1 1111.0L320.1 1107.4Z" fill="#111" stroke="#111" stroke-width="1.0" stroke-linejoin="round"/>
<path d="M315.5 1114.9L319.5 1114.9L317.5 1111.3Z" fill="#fff" stroke="#111" stroke-width="1.0" stroke-linejoin="round"/>
<path d="M312.9 1118.1L316.9 1118.1L314.9 1114.5Z" fill="#fff" stroke="#111" stroke-width="1.0" stroke-linejoin="round"/>
<path d="M298.6 1119.4L302.6 1119.4L300.6 1115.8Z" fill="#111" stroke="#111" stroke-width="1.0" stroke-linejoin="round"/>
<path d="M299.9 1122.7L303.9 1122.7L301.9 1119.1Z" fill="#fff" stroke="#111" stroke-width="1.0" stroke-linejoin="round"/>
<path d="M297.9 1125.9L301.9 1125.9L299.9 1122.3Z" fill="#fff" stroke="#111" stroke-width="1.0" stroke-linejoin="round"/>
<path d="M308.4 1124.6L312.4 1124.6L310.4 1121.0Z" fill="#111" stroke="#111" stroke-width="1.0" stroke-linejoin="round"/>
<path d="M309.7 1127.3L313.7 1127.3L311.7 1123.7Z" fill="#fff" stroke="#111" stroke-width="1.0" stroke-linejoin="round"/>
<path d="M303.8 1131.8L307.8 1131.8L305.8 1128.2Z" fill="#fff" stroke="#111" stroke-width="1.0" stroke-linejoin="round"/>
<path d="M301.2 1138.3L305.2 1138.3L303.2 1134.7Z" fill="#111" stroke="#111" stroke-width="1.0" stroke-linejoin="round"/>
<path d="M297.9 1142.2L301.9 1142.2L299.9 1138.6Z" fill="#fff" stroke="#111" stroke-width="1.0" stroke-linejoin="round"/>
<path d="M294.0 1144.8L298.0 1144.8L296.0 1141.2Z" fill="#fff" stroke="#111" stroke-width="1.0" stroke-linejoin="round"/>
<path d="M291.4 1148.7L295.4 1148.7L293.4 1145.1Z" fill="#111" stroke="#111" stroke-width="1.0" stroke-linejoin="round"/>
<path d="M284.9 1146.1L288.9 1146.1L286.9 1142.5Z" fill="#fff" stroke="#111" stroke-width="1.0" stroke-linejoin="round"/>
<path d="M287.5 1152.6L291.5 1152.6L289.5 1149.0Z" fill="#fff" stroke="#111" stroke-width="1.0" stroke-linejoin="round"/>
<path d="M290.8 1156.5L294.8 1156.5L292.8 1152.9Z" fill="#111" stroke="#111" stroke-width="1.0" stroke-linejoin="round"/>
<path d="M294.0 1159.2L298.0 1159.2L296.0 1155.6Z" fill="#fff" stroke="#111" stroke-width="1.0" stroke-linejoin="round"/>
<path d="M288.8 1163.1L292.8 1163.1L290.8 1159.5Z" fill="#fff" stroke="#111" stroke-width="1.0" stroke-linejoin="round"/>
<path d="M284.9 1165.9L288.9 1165.9L286.9 1162.3Z" fill="#111" stroke="#111" stroke-width="1.0" stroke-linejoin="round"/>
<path d="M281.0 1169.6L285.0 1169.6L283.0 1166.0Z" fill="#fff" stroke="#111" stroke-width="1.0" stroke-linejoin="round"/>
<text x="316.0" y="939.0" font-family='"Liberation Serif","Noto Serif CJK SC",serif' font-size="12.5" font-weight="900" text-anchor="middle" letter-spacing="12" fill="#111">俄罗斯</text>
<text x="331.2" y="1023.5" font-family='"Liberation Sans","Noto Sans CJK SC",sans-serif' font-size="10.8" font-weight="900" text-anchor="middle" letter-spacing="0" fill="#111">塔</text>
<text x="286.3" y="1079.5" font-family='"Liberation Sans","Noto Sans CJK SC",sans-serif' font-size="10.8" font-weight="900" text-anchor="middle" letter-spacing="0" fill="#111">察</text>
<text x="282.4" y="1114.7" font-family='"Liberation Sans","Noto Sans CJK SC",sans-serif' font-size="10.8" font-weight="900" text-anchor="middle" letter-spacing="0" fill="#111">加</text>
<text x="383.5" y="1059.5" font-family='"Liberation Sans","Noto Sans CJK SC",sans-serif' font-size="10.5" font-weight="900" text-anchor="middle" letter-spacing="0.3" fill="#111" stroke="#efefef" stroke-width="2.2" paint-order="stroke" stroke-linejoin="round">白令海</text>
<text x="252.5" y="1082.0" font-family='"Liberation Sans","Noto Sans CJK SC",sans-serif' font-size="10.5" font-weight="900" text-anchor="middle" letter-spacing="0.5" fill="#111" stroke="#efefef" stroke-width="2.2" paint-order="stroke" stroke-linejoin="round" transform="rotate(-64 252.5 1082.0)">鄂霍次克海</text>
<text x="243.0" y="1197.0" font-family='"Liberation Sans","Noto Sans CJK SC",sans-serif' font-size="10.5" font-weight="900" text-anchor="middle" letter-spacing="0.3" fill="#111" stroke="#efefef" stroke-width="2.2" paint-order="stroke" stroke-linejoin="round" transform="rotate(-47 243.0 1197.0)">千岛群岛</text>
<text x="324.5" y="1187.5" font-family='"Liberation Sans","Noto Sans CJK SC",sans-serif' font-size="10.5" font-weight="900" text-anchor="middle" letter-spacing="0.3" fill="#111" stroke="#efefef" stroke-width="2.2" paint-order="stroke" stroke-linejoin="round" transform="rotate(-40 324.5 1187.5)">千岛·堪察加海沟</text>
<text x="384.0" y="1152.0" font-family='"Liberation Sans","Noto Sans CJK SC",sans-serif' font-size="10.5" font-weight="900" text-anchor="middle" letter-spacing="0.6" fill="#111" stroke="#efefef" stroke-width="2.2" paint-order="stroke" stroke-linejoin="round" transform="rotate(28 384.0 1152.0)">明治海山群</text>
<text x="339.0" y="1225.5" font-family='"Liberation Sans","Noto Sans CJK SC",sans-serif' font-size="10.5" font-weight="900" text-anchor="middle" letter-spacing="0.4" fill="#111" stroke="#efefef" stroke-width="2.2" paint-order="stroke" stroke-linejoin="round">太平洋</text>
<text x="249.3" y="909.0" font-family='"Liberation Serif",serif' font-size="12.2" font-weight="400" text-anchor="middle" letter-spacing="-0.5" fill="#111" stroke="#222" stroke-width="0.35" paint-order="stroke" stroke-linejoin="round">152°</text>
<text x="283.4" y="910.0" font-family='"Liberation Serif",serif' font-size="12.2" font-weight="400" text-anchor="middle" letter-spacing="-0.5" fill="#111" stroke="#222" stroke-width="0.35" paint-order="stroke" stroke-linejoin="round">156°</text>
<text x="318.0" y="910.8" font-family='"Liberation Serif",serif' font-size="12.2" font-weight="400" text-anchor="middle" letter-spacing="-0.5" fill="#111" stroke="#222" stroke-width="0.35" paint-order="stroke" stroke-linejoin="round">160°</text>
<text x="352.9" y="910.0" font-family='"Liberation Serif",serif' font-size="12.2" font-weight="400" text-anchor="middle" letter-spacing="-0.5" fill="#111" stroke="#222" stroke-width="0.35" paint-order="stroke" stroke-linejoin="round">164°</text>
<text x="391.5" y="908.2" font-family='"Liberation Serif",serif' font-size="12.2" font-weight="400" text-anchor="middle" letter-spacing="-0.5" fill="#111" stroke="#222" stroke-width="0.35" paint-order="stroke" stroke-linejoin="round">168°</text>
<text x="232.3" y="920.0" font-family='"Liberation Serif",serif' font-size="12.2" font-weight="400" text-anchor="middle" letter-spacing="-0.5" fill="#111" stroke="#222" stroke-width="0.35" paint-order="stroke" stroke-linejoin="round">64°</text>
<text x="228.5" y="997.8" font-family='"Liberation Serif",serif' font-size="12.2" font-weight="400" text-anchor="middle" letter-spacing="-0.5" fill="#111" stroke="#222" stroke-width="0.35" paint-order="stroke" stroke-linejoin="round">60°</text>
<text x="219.0" y="1079.5" font-family='"Liberation Serif",serif' font-size="12.2" font-weight="400" text-anchor="middle" letter-spacing="-0.5" fill="#111" stroke="#222" stroke-width="0.35" paint-order="stroke" stroke-linejoin="round">56°</text>
<text x="211.4" y="1158.3" font-family='"Liberation Serif",serif' font-size="12.2" font-weight="400" text-anchor="middle" letter-spacing="-0.5" fill="#111" stroke="#222" stroke-width="0.35" paint-order="stroke" stroke-linejoin="round">52°</text>
<text x="203.8" y="1234.0" font-family='"Liberation Serif",serif' font-size="12.2" font-weight="400" text-anchor="middle" letter-spacing="-0.5" fill="#111" stroke="#222" stroke-width="0.35" paint-order="stroke" stroke-linejoin="round">48°</text>
<path d="M283.4 912.3V916.0" stroke="#111" stroke-width="1"/>
<path d="M318 911.9V915.6" stroke="#111" stroke-width="1"/>
<path d="M352.9 911.4V915.1" stroke="#111" stroke-width="1"/>
<path d="M244.5 915.6H248.5" stroke="#111" stroke-width="1"/>
<path d="M237.0 993.5H241.0" stroke="#111" stroke-width="1"/>
<path d="M229.1 1075.2H233.1" stroke="#111" stroke-width="1"/>
<path d="M221.5 1154H225.5" stroke="#111" stroke-width="1"/>
<path d="M214.1 1231H218.1" stroke="#111" stroke-width="1"/>
<defs><linearGradient id="sg" gradientUnits="userSpaceOnUse" x1="500" y1="1000" x2="690" y2="1130"><stop offset="0" stop-color="#d0d0d0"/><stop offset="0.45" stop-color="#dcdcdc"/><stop offset="1" stop-color="#ececec"/></linearGradient></defs>
<path d="M516.0 917.2 Q585.2 921.2 654.4 914.7 L692.2 1231.5 Q587.5 1235.0 482.8 1232.5Z" fill="url(#sg)"/>
<path d="M506.6 1016.8 C507.7 1016.6 510.6 1016.1 512.9 1015.8 C515.3 1015.5 517.8 1015.3 520.5 1015.0 C523.3 1014.7 526.8 1014.2 529.4 1013.7 C532.0 1013.3 534.7 1013.3 536.2 1012.5 C537.7 1011.6 538.7 1010.2 538.2 1008.7 C537.7 1007.2 534.4 1005.3 533.2 1003.6 C531.9 1001.9 530.2 1000.5 530.6 998.6 C531.1 996.7 533.6 994.4 535.7 992.3 C537.8 990.2 540.9 988.3 543.3 985.9 C545.6 983.6 547.7 980.9 549.6 978.4 C551.5 975.8 552.7 972.9 554.6 970.8 C556.5 968.7 558.6 967.1 560.9 965.7 C563.3 964.4 566.0 963.3 568.5 962.7 C571.1 962.1 573.8 961.8 576.1 961.9 C578.4 962.1 580.5 963.8 582.4 963.7 C584.4 963.7 586.8 961.1 587.7 961.7 C588.7 962.2 588.7 965.1 588.2 967.0 C587.8 968.9 585.3 971.0 584.9 973.3 C584.6 975.6 585.4 979.0 586.2 980.9 C587.1 982.8 588.5 984.7 590.0 984.7 C591.5 984.7 593.2 982.6 595.1 980.9 C596.9 979.2 599.3 976.5 601.4 974.6 C603.5 972.7 605.6 970.6 607.7 969.5 C609.8 968.5 612.4 968.7 614.0 968.3 C615.6 967.8 616.6 968.3 617.0 967.0 C617.5 965.7 616.7 962.8 616.5 960.7 C616.4 958.6 616.0 956.4 616.0 954.4 C616.0 952.3 615.6 949.8 616.5 948.6 C617.5 947.3 620.0 947.3 621.6 946.8 C623.2 946.3 625.2 945.1 626.1 945.5 C627.0 945.9 627.1 947.4 626.9 949.3 C626.6 951.2 625.3 954.4 624.6 956.9 C623.9 959.4 623.3 962.2 622.8 964.5 C622.3 966.8 622.0 968.9 621.6 970.8 C621.2 972.7 621.2 973.9 620.3 975.8 C619.5 977.7 618.0 980.1 616.5 982.2 C615.1 984.3 613.4 986.4 611.5 988.5 C609.6 990.6 607.3 992.7 605.2 994.8 C603.1 996.9 600.7 998.8 598.8 1001.1 C596.9 1003.4 595.5 1006.2 593.8 1008.7 C592.1 1011.2 590.4 1013.9 588.7 1016.3 C587.1 1018.6 585.4 1020.5 583.7 1022.6 C582.0 1024.7 580.7 1027.0 578.6 1028.9 C576.5 1030.8 573.6 1032.5 571.1 1033.9 C568.5 1035.4 566.0 1036.5 563.5 1037.7 C560.9 1039.0 558.0 1039.8 555.9 1041.5 C553.8 1043.2 552.3 1045.3 550.8 1047.8 C549.4 1050.4 548.1 1053.7 547.1 1056.7 C546.0 1059.6 545.7 1063.3 544.8 1065.5 C543.8 1067.8 542.3 1067.9 541.2 1070.1 C540.1 1072.3 539.0 1076.0 538.2 1078.9 C537.5 1081.9 536.9 1084.6 536.7 1087.8 C536.5 1090.9 536.7 1094.1 536.9 1097.9 C537.2 1101.7 537.8 1106.3 538.2 1110.5 C538.6 1114.7 539.1 1118.9 539.5 1123.2 C539.9 1127.4 540.3 1131.6 540.7 1135.8 C541.2 1140.0 541.6 1144.2 542.0 1148.4 C542.4 1152.6 543.0 1157.3 543.3 1161.1 C543.6 1164.8 544.0 1167.8 543.8 1171.2 C543.6 1174.5 541.9 1180.2 542.0 1181.3 C542.1 1182.3 542.6 1179.6 544.5 1177.5 C546.4 1175.4 550.0 1171.4 553.4 1168.6 C556.7 1165.9 561.4 1163.6 564.7 1161.1 C568.1 1158.5 570.8 1156.2 573.6 1153.5 C576.3 1150.7 578.8 1147.6 581.2 1144.6 C583.5 1141.7 585.4 1138.9 587.5 1135.8 C589.6 1132.6 591.7 1128.6 593.8 1125.7 C595.9 1122.7 598.0 1120.6 600.1 1118.1 C602.2 1115.6 604.5 1113.1 606.4 1110.5 C608.3 1108.0 610.1 1105.5 611.5 1102.9 C612.8 1100.4 614.0 1097.9 614.5 1095.4 C615.0 1092.8 614.1 1090.1 614.5 1087.8 C614.9 1085.5 615.9 1083.6 617.0 1081.5 C618.1 1079.4 620.1 1077.1 621.1 1075.2 C622.1 1073.2 623.4 1071.3 623.1 1069.6 C622.8 1067.9 620.3 1066.5 619.1 1064.8 C617.8 1063.0 615.9 1061.0 615.5 1059.2 C615.1 1057.4 616.8 1055.8 616.5 1054.2 C616.3 1052.5 615.3 1050.8 614.0 1049.1 C612.7 1047.4 610.0 1045.9 608.9 1044.1 C607.9 1042.2 607.9 1039.8 607.7 1037.7 C607.5 1035.6 607.3 1033.7 607.7 1031.4 C608.1 1029.1 609.2 1026.4 610.2 1023.8 C611.3 1021.3 612.7 1018.8 614.0 1016.3 C615.3 1013.7 616.7 1011.0 617.8 1008.7 C618.8 1006.4 619.5 1004.1 620.3 1002.4 C621.2 1000.7 621.6 999.2 622.8 998.6 C624.1 997.9 626.0 999.0 627.9 998.6 C629.8 998.2 632.5 996.3 634.2 996.1 C635.9 995.8 636.3 997.7 638.0 997.3 C639.7 996.9 642.4 994.4 644.3 993.5 C646.2 992.7 647.7 992.9 649.4 992.3 C651.1 991.6 652.2 990.7 654.4 989.7 C656.6 988.7 661.2 986.8 662.5 986.2 L654.4 914.7 L516.0 917.2Z" fill="#fff"/>
<path d="M506.6 1016.8 C507.7 1016.6 510.6 1016.1 512.9 1015.8 C515.3 1015.5 517.8 1015.3 520.5 1015.0 C523.3 1014.7 526.8 1014.2 529.4 1013.7 C532.0 1013.3 534.7 1013.3 536.2 1012.5 C537.7 1011.6 538.7 1010.2 538.2 1008.7 C537.7 1007.2 534.4 1005.3 533.2 1003.6 C531.9 1001.9 530.2 1000.5 530.6 998.6 C531.1 996.7 533.6 994.4 535.7 992.3 C537.8 990.2 540.9 988.3 543.3 985.9 C545.6 983.6 547.7 980.9 549.6 978.4 C551.5 975.8 552.7 972.9 554.6 970.8 C556.5 968.7 558.6 967.1 560.9 965.7 C563.3 964.4 566.0 963.3 568.5 962.7 C571.1 962.1 573.8 961.8 576.1 961.9 C578.4 962.1 580.5 963.8 582.4 963.7 C584.4 963.7 586.8 961.1 587.7 961.7 C588.7 962.2 588.7 965.1 588.2 967.0 C587.8 968.9 585.3 971.0 584.9 973.3 C584.6 975.6 585.4 979.0 586.2 980.9 C587.1 982.8 588.5 984.7 590.0 984.7 C591.5 984.7 593.2 982.6 595.1 980.9 C596.9 979.2 599.3 976.5 601.4 974.6 C603.5 972.7 605.6 970.6 607.7 969.5 C609.8 968.5 612.4 968.7 614.0 968.3 C615.6 967.8 616.6 968.3 617.0 967.0 C617.5 965.7 616.7 962.8 616.5 960.7 C616.4 958.6 616.0 956.4 616.0 954.4 C616.0 952.3 615.6 949.8 616.5 948.6 C617.5 947.3 620.0 947.3 621.6 946.8 C623.2 946.3 625.2 945.1 626.1 945.5 C627.0 945.9 627.1 947.4 626.9 949.3 C626.6 951.2 625.3 954.4 624.6 956.9 C623.9 959.4 623.3 962.2 622.8 964.5 C622.3 966.8 622.0 968.9 621.6 970.8 C621.2 972.7 621.2 973.9 620.3 975.8 C619.5 977.7 618.0 980.1 616.5 982.2 C615.1 984.3 613.4 986.4 611.5 988.5 C609.6 990.6 607.3 992.7 605.2 994.8 C603.1 996.9 600.7 998.8 598.8 1001.1 C596.9 1003.4 595.5 1006.2 593.8 1008.7 C592.1 1011.2 590.4 1013.9 588.7 1016.3 C587.1 1018.6 585.4 1020.5 583.7 1022.6 C582.0 1024.7 580.7 1027.0 578.6 1028.9 C576.5 1030.8 573.6 1032.5 571.1 1033.9 C568.5 1035.4 566.0 1036.5 563.5 1037.7 C560.9 1039.0 558.0 1039.8 555.9 1041.5 C553.8 1043.2 552.3 1045.3 550.8 1047.8 C549.4 1050.4 548.1 1053.7 547.1 1056.7 C546.0 1059.6 545.7 1063.3 544.8 1065.5 C543.8 1067.8 542.3 1067.9 541.2 1070.1 C540.1 1072.3 539.0 1076.0 538.2 1078.9 C537.5 1081.9 536.9 1084.6 536.7 1087.8 C536.5 1090.9 536.7 1094.1 536.9 1097.9 C537.2 1101.7 537.8 1106.3 538.2 1110.5 C538.6 1114.7 539.1 1118.9 539.5 1123.2 C539.9 1127.4 540.3 1131.6 540.7 1135.8 C541.2 1140.0 541.6 1144.2 542.0 1148.4 C542.4 1152.6 543.0 1157.3 543.3 1161.1 C543.6 1164.8 543.7 1169.5 543.8 1171.2" fill="none" stroke="#111" stroke-width="2.1" stroke-linejoin="round"/>
<path d="M619.1 1064.8 C618.5 1063.8 615.9 1061.0 615.5 1059.2 C615.1 1057.4 616.8 1055.8 616.5 1054.2 C616.3 1052.5 615.3 1050.8 614.0 1049.1 C612.7 1047.4 610.0 1045.9 608.9 1044.1 C607.9 1042.2 607.9 1039.8 607.7 1037.7 C607.5 1035.6 607.3 1033.7 607.7 1031.4 C608.1 1029.1 609.2 1026.4 610.2 1023.8 C611.3 1021.3 612.7 1018.8 614.0 1016.3 C615.3 1013.7 616.7 1011.0 617.8 1008.7 C618.8 1006.4 619.5 1004.1 620.3 1002.4 C621.2 1000.7 621.6 999.2 622.8 998.6 C624.1 997.9 626.0 999.0 627.9 998.6 C629.8 998.2 632.5 996.3 634.2 996.1 C635.9 995.8 636.3 997.7 638.0 997.3 C639.7 996.9 642.4 994.4 644.3 993.5 C646.2 992.7 647.7 992.9 649.4 992.3 C651.1 991.6 652.2 990.7 654.4 989.7 C656.6 988.7 661.2 986.8 662.5 986.2" fill="none" stroke="#111" stroke-width="1.9" stroke-linejoin="round"/>
<path d="M624.1 1026.4 C624.2 1025.2 624.5 1023.0 625.4 1021.3 C626.2 1019.7 627.9 1017.4 629.2 1016.5 C630.4 1015.6 632.4 1015.2 632.9 1015.8 C633.5 1016.3 633.1 1018.5 632.4 1020.1 C631.8 1021.6 630.2 1023.7 628.9 1025.1 C627.6 1026.5 625.7 1028.2 624.9 1028.4 C624.1 1028.6 624.0 1027.5 624.1 1026.4Z" fill="#fff" stroke="#111" stroke-width="1.5"/>
<path d="M660.4 1091.3L661.5 1090.8L662.8 1090.4L663.2 1091.4L663.4 1092.5L662.0 1092.6L661.0 1092.3Z M663.1 1091.9L660.5 1093.4L656.9 1092.3L657.3 1089.3L659.8 1087.7L663.6 1087.0L663.5 1090.0Z M652.9 1091.3L652.3 1089.9L652.0 1088.7L653.5 1088.0L655.0 1088.7L655.7 1089.8L654.4 1090.5Z M664.5 1092.7L666.2 1092.8L667.6 1093.8L667.0 1095.1L665.4 1095.6L663.4 1095.4L663.0 1093.7Z M661.1 1092.9L665.0 1092.6L664.3 1095.6L663.5 1097.8L660.1 1098.8L658.8 1096.2L658.2 1093.9Z M665.1 1093.2L668.3 1094.1L667.6 1096.6L666.1 1098.7L663.0 1098.3L661.4 1096.3L662.5 1094.2Z M643.7 1081.9L641.3 1083.6L637.7 1083.7L636.2 1081.1L638.3 1079.2L640.7 1078.5L643.4 1079.4Z M652.3 1090.5L650.5 1090.5L648.1 1089.8L649.6 1088.2L651.1 1087.3L653.1 1087.7L654.7 1089.5Z M651.7 1087.4L652.9 1090.2L652.6 1092.5L649.8 1093.5L645.9 1093.2L644.7 1090.0L648.4 1088.7Z M649.8 1088.1L647.9 1087.7L647.7 1086.2L648.8 1085.5L650.2 1084.9L651.4 1085.9L651.5 1087.4Z M636.0 1083.3L638.7 1082.0L640.7 1084.1L640.2 1086.8L637.1 1087.8L634.7 1086.3L634.1 1084.4Z M651.5 1091.2L650.1 1092.4L648.0 1092.1L646.6 1090.6L647.9 1089.2L649.8 1088.9L651.5 1089.6Z M648.1 1086.7L650.4 1085.7L653.0 1086.6L653.6 1088.9L651.4 1090.2L648.0 1091.4L645.2 1088.9Z M646.7 1086.3L645.3 1087.4L643.3 1086.8L641.5 1085.2L643.8 1084.1L645.6 1084.1L648.5 1084.5Z M642.4 1083.2L643.6 1082.1L645.3 1082.2L645.9 1083.2L645.8 1084.2L644.6 1084.5L643.1 1084.6Z M643.4 1084.8L640.4 1083.4L641.1 1080.4L645.0 1079.4L648.3 1080.9L649.0 1083.8L646.4 1085.9Z M649.1 1089.7L648.3 1090.5L646.9 1090.9L645.5 1090.0L646.4 1088.8L647.6 1087.8L649.4 1088.3Z M637.7 1085.4L636.0 1085.0L635.3 1083.7L635.7 1082.1L638.2 1081.3L640.2 1082.8L639.5 1084.7Z M630.2 1080.5L630.5 1083.1L628.0 1084.5L625.5 1083.8L623.0 1082.5L624.8 1080.5L627.3 1079.0Z M619.1 1085.4L619.0 1083.1L621.1 1082.3L622.8 1082.5L623.9 1083.5L624.4 1085.5L621.7 1086.3Z M633.6 1080.0L633.4 1078.8L634.0 1078.0L635.3 1076.7L636.7 1077.9L636.7 1079.3L635.5 1080.7Z M630.4 1090.3L631.4 1091.3L631.1 1092.6L629.5 1093.0L627.6 1092.7L627.7 1091.2L628.7 1090.0Z M631.8 1079.1L634.5 1078.4L637.4 1078.4L637.7 1080.6L636.5 1082.3L634.1 1082.6L633.2 1081.0Z M632.5 1084.6L630.9 1085.6L629.4 1086.1L627.8 1085.3L628.0 1083.8L629.6 1083.2L631.3 1083.3Z M628.4 1084.3L625.5 1084.1L625.4 1081.8L626.9 1080.1L629.9 1079.8L632.1 1081.6L630.6 1083.7Z M624.1 1084.1L625.8 1082.5L628.2 1082.1L630.0 1083.5L630.6 1085.8L627.8 1086.8L624.9 1086.4Z M624.0 1080.6L625.4 1082.3L625.1 1084.7L622.1 1084.8L619.7 1083.9L619.8 1081.9L621.0 1079.3Z M626.7 1079.4L624.4 1079.6L623.5 1078.2L622.6 1076.5L624.7 1075.3L626.4 1076.6L628.2 1077.9Z M631.2 1093.8L629.3 1094.1L628.2 1092.9L628.6 1091.7L629.9 1090.9L631.9 1091.0L631.5 1092.6Z M630.8 1082.0L630.0 1083.8L627.5 1083.8L626.6 1082.3L625.3 1080.3L628.0 1079.3L631.0 1079.8Z M634.8 1085.3L632.2 1084.6L630.8 1082.0L633.8 1080.0L636.8 1081.3L637.8 1083.0L638.4 1085.8Z M630.1 1082.6L628.6 1084.6L625.9 1083.4L625.8 1081.4L625.8 1078.7L629.4 1078.9L632.0 1080.6Z M632.3 1083.1L632.3 1080.6L635.2 1078.5L637.9 1080.7L638.3 1082.7L637.4 1085.0L634.4 1084.6Z M636.5 1084.5L635.6 1085.4L634.1 1085.3L632.6 1084.4L633.8 1083.2L635.2 1082.5L636.3 1083.4Z M615.0 1081.0L616.1 1081.6L616.8 1082.5L616.3 1083.8L614.8 1083.2L613.3 1082.9L613.9 1081.7Z M611.6 1087.7L610.4 1085.2L612.4 1082.4L616.0 1083.6L619.0 1085.1L617.8 1088.0L614.5 1089.1Z M618.4 1087.0L616.7 1087.4L615.4 1087.1L615.0 1086.2L614.9 1084.7L616.9 1084.3L618.3 1085.5Z M616.5 1085.2L615.5 1084.1L615.2 1082.8L616.8 1082.1L619.0 1081.8L620.1 1083.6L618.4 1085.0Z M618.8 1081.3L618.0 1082.8L615.9 1083.2L614.7 1081.9L614.2 1080.4L616.1 1080.0L617.8 1080.0Z M622.4 1083.9L621.6 1085.2L619.7 1085.1L618.0 1084.0L618.7 1082.2L620.8 1081.2L623.0 1082.2Z M611.9 1085.1L612.0 1086.8L609.7 1087.3L608.6 1085.9L607.2 1084.4L609.0 1083.0L611.5 1083.5Z M615.3 1093.0L612.2 1093.6L608.9 1092.4L608.9 1089.4L611.8 1087.4L615.3 1088.4L617.6 1090.7Z M613.7 1089.6L612.5 1089.7L610.8 1089.5L611.0 1088.2L612.1 1087.3L613.7 1087.5L614.5 1088.6Z M616.8 1087.3L617.7 1088.2L617.7 1089.3L616.5 1090.1L615.5 1089.3L614.3 1088.6L615.5 1087.8Z M620.7 1081.2L622.4 1082.2L622.8 1083.6L621.9 1084.8L620.0 1085.1L618.4 1083.9L619.0 1082.3Z M609.6 1081.9L608.8 1082.3L608.2 1081.6L608.1 1080.9L609.0 1080.8L609.6 1080.9L610.0 1081.4Z M611.1 1089.5L612.2 1088.2L614.0 1088.4L616.2 1088.9L615.0 1090.5L613.8 1092.1L611.3 1091.4Z M625.0 1085.5L625.6 1086.8L625.2 1087.7L624.1 1088.1L622.4 1088.1L622.8 1086.8L623.3 1085.8Z M625.0 1090.9L625.9 1091.5L625.5 1092.4L624.5 1092.5L623.3 1092.5L623.4 1091.6L624.1 1091.2Z M619.9 1084.1L620.5 1082.6L622.0 1081.5L624.1 1082.2L625.8 1083.9L623.2 1084.8L621.1 1086.0Z M607.5 1081.7L607.9 1082.9L606.8 1083.8L604.8 1084.4L604.0 1082.8L604.7 1081.5L606.2 1081.0Z M615.6 1079.5L614.6 1079.6L613.5 1079.6L613.7 1078.8L614.1 1078.3L615.0 1078.2L615.3 1078.8Z M610.3 1076.4L612.6 1075.8L614.2 1077.2L614.6 1078.8L612.7 1079.2L610.8 1079.7L610.1 1078.2Z M611.9 1092.2L608.6 1091.9L610.2 1089.7L611.7 1088.1L614.2 1088.7L615.2 1090.5L614.7 1092.8Z M596.1 1103.5L597.6 1102.8L599.1 1102.9L600.0 1104.0L600.3 1105.8L597.8 1106.0L596.5 1104.9Z M591.5 1099.6L591.7 1098.3L593.1 1097.7L594.9 1097.9L595.1 1099.3L594.4 1100.5L592.6 1100.6Z M595.0 1096.0L595.0 1094.2L596.6 1093.1L598.3 1093.7L599.5 1094.7L599.8 1096.9L597.1 1096.4Z M608.2 1098.7L609.3 1100.3L608.1 1101.9L605.8 1102.5L603.8 1101.2L602.8 1098.7L605.8 1097.1Z M600.6 1100.2L601.5 1102.5L598.9 1103.4L596.5 1104.0L593.6 1102.5L594.7 1099.7L598.0 1098.5Z M599.0 1104.6L597.7 1105.5L595.7 1104.9L594.9 1103.2L596.6 1101.9L598.8 1102.0L600.3 1103.3Z M604.6 1101.0L601.3 1099.6L601.0 1097.1L602.6 1095.6L605.0 1095.2L607.8 1096.4L607.5 1099.1Z M605.0 1091.9L606.1 1091.0L607.4 1091.1L608.7 1091.7L607.9 1092.6L607.0 1093.3L605.6 1093.0Z M602.7 1108.0L600.9 1108.2L600.6 1106.8L601.8 1106.0L602.9 1106.1L604.1 1106.5L604.1 1107.8Z M608.6 1099.3L609.9 1099.7L610.3 1100.3L610.5 1101.1L609.6 1101.5L608.3 1101.4L608.4 1100.4Z M601.7 1101.3L601.9 1102.9L599.9 1103.0L598.5 1102.4L597.5 1101.1L599.2 1100.3L601.2 1099.7Z M607.3 1101.9L605.5 1101.7L604.3 1100.2L606.1 1099.4L607.6 1098.9L608.6 1099.9L609.4 1101.4Z M607.6 1089.8L607.9 1092.0L606.4 1093.9L603.4 1093.7L602.7 1091.7L603.4 1090.3L605.1 1088.7Z M598.9 1099.4L600.3 1099.3L601.2 1100.0L600.8 1100.9L599.8 1101.2L598.7 1101.2L598.2 1100.2Z M590.5 1099.8L589.9 1098.8L590.7 1098.1L591.7 1098.1L592.6 1098.4L592.5 1099.2L591.8 1100.1Z M599.8 1087.6L600.3 1088.3L599.7 1089.4L598.1 1089.3L598.0 1088.2L598.2 1087.6L599.0 1087.3Z M596.9 1105.5L593.6 1103.7L595.7 1101.0L599.0 1100.8L602.4 1101.4L601.8 1104.2L599.7 1105.7Z M603.4 1084.9L604.0 1086.6L601.8 1086.9L600.4 1086.9L599.3 1085.9L599.5 1084.2L601.8 1083.7Z M605.8 1094.9L606.9 1096.9L604.6 1098.2L601.6 1097.9L600.4 1095.7L601.9 1093.8L604.3 1093.8Z M600.9 1090.5L602.3 1091.2L603.2 1092.9L601.0 1093.5L599.5 1093.0L598.8 1091.9L598.8 1090.3Z M596.6 1090.7L595.3 1090.1L594.4 1088.7L595.8 1087.2L598.0 1087.7L598.8 1089.1L598.4 1090.6Z M602.3 1096.4L605.2 1097.8L604.7 1100.0L604.2 1102.5L601.2 1101.6L599.0 1100.3L600.0 1098.2Z M592.7 1117.7L590.4 1117.7L589.2 1116.5L589.2 1115.1L590.6 1113.6L592.5 1114.6L592.8 1116.0Z M590.9 1116.1L590.7 1118.0L587.9 1119.2L585.1 1117.7L584.7 1114.9L588.0 1114.5L590.2 1114.4Z M595.2 1103.4L596.2 1105.7L593.3 1106.6L591.1 1105.9L589.0 1104.3L590.2 1101.8L593.2 1102.6Z M583.4 1110.7L582.2 1110.3L581.6 1109.4L582.1 1108.4L583.6 1107.8L585.0 1108.7L584.4 1109.9Z M599.7 1106.9L597.9 1106.2L598.5 1104.7L600.2 1104.6L601.4 1104.9L602.2 1105.9L601.3 1107.2Z M588.1 1113.1L587.1 1113.0L586.5 1112.5L586.6 1111.8L587.3 1111.1L588.1 1111.7L588.6 1112.4Z M600.5 1114.4L598.9 1113.2L600.6 1112.0L602.2 1112.0L604.7 1112.3L603.9 1114.1L602.3 1115.6Z M587.7 1109.6L588.5 1107.8L590.4 1105.9L593.7 1106.9L595.3 1109.8L591.7 1110.9L588.8 1112.0Z M594.0 1111.0L596.1 1110.2L597.8 1109.6L599.7 1110.6L599.6 1112.7L597.2 1112.8L595.8 1112.3Z M587.7 1120.0L586.8 1116.8L590.9 1116.8L594.9 1117.6L594.7 1120.9L592.1 1123.4L588.8 1121.8Z M592.3 1114.8L593.9 1116.4L593.5 1118.6L590.7 1119.8L588.1 1118.4L588.3 1116.2L589.7 1114.6Z M592.0 1115.1L589.9 1117.5L586.9 1116.1L583.4 1115.0L585.9 1112.8L588.2 1111.0L591.3 1112.4Z M591.2 1116.4L591.6 1114.2L593.6 1112.9L595.5 1113.9L597.6 1115.1L596.2 1117.0L593.8 1117.1Z M585.2 1115.5L585.0 1113.3L587.8 1112.9L589.9 1113.6L591.2 1115.4L589.1 1116.7L586.5 1117.4Z M588.1 1109.0L589.0 1109.4L589.0 1110.1L588.8 1110.8L587.9 1110.8L586.9 1110.4L587.5 1109.7Z M589.1 1113.7L591.9 1115.8L595.1 1118.1L591.8 1120.3L587.9 1121.7L584.6 1119.0L587.0 1116.3Z M590.3 1115.1L592.8 1115.1L592.3 1117.0L591.5 1118.7L589.4 1117.8L587.8 1116.9L587.8 1114.9Z M594.6 1107.9L595.7 1107.0L597.1 1106.6L598.2 1107.4L599.2 1109.0L597.1 1109.9L594.7 1109.6Z M594.1 1105.2L596.5 1103.9L598.6 1105.6L598.7 1107.7L596.9 1109.6L594.6 1108.1L591.9 1106.9Z M595.4 1113.8L598.0 1114.4L597.1 1116.5L595.1 1117.3L592.6 1117.2L592.2 1115.3L593.6 1114.1Z M575.9 1127.5L577.4 1127.5L578.4 1128.1L578.1 1129.0L577.3 1129.3L576.5 1129.2L576.1 1128.6Z M580.4 1128.8L582.7 1127.7L584.4 1127.3L586.6 1128.1L585.4 1129.7L584.1 1130.3L582.1 1130.4Z M589.2 1121.9L590.9 1120.4L593.4 1121.3L593.5 1123.2L593.4 1125.6L590.4 1124.8L589.1 1123.6Z M589.8 1119.0L590.1 1121.4L588.6 1122.9L586.5 1122.8L583.8 1122.2L584.2 1119.8L586.7 1118.9Z M596.8 1136.5L595.7 1135.2L594.7 1134.1L595.9 1133.1L597.5 1133.3L598.2 1134.2L598.7 1135.7Z M588.7 1118.9L588.6 1120.5L587.1 1122.0L584.5 1121.3L583.3 1119.3L584.5 1117.2L587.3 1117.8Z M589.5 1122.1L590.9 1124.6L593.0 1127.0L589.7 1128.9L586.3 1127.8L584.1 1125.6L586.3 1123.2Z M587.5 1124.5L586.2 1124.5L585.2 1123.4L586.3 1122.1L588.2 1121.8L589.4 1123.0L588.7 1124.2Z M594.2 1133.4L592.4 1132.9L593.0 1131.6L593.6 1130.3L595.0 1131.2L595.8 1131.8L595.4 1132.7Z M582.2 1127.9L586.2 1128.1L585.8 1131.2L583.8 1132.9L580.2 1134.3L578.1 1131.5L578.7 1128.5Z M579.3 1125.2L582.7 1126.3L585.1 1128.3L583.5 1130.8L580.4 1131.2L578.3 1129.9L577.0 1127.6Z M591.8 1123.7L589.5 1124.2L585.6 1123.7L587.0 1120.8L589.5 1119.8L591.8 1120.5L592.8 1122.1Z M594.3 1134.2L591.7 1135.4L588.4 1135.7L586.7 1133.2L588.1 1130.4L591.4 1131.2L594.8 1131.4Z M593.0 1138.3L590.5 1139.0L588.4 1138.0L585.7 1135.9L588.4 1133.3L592.4 1133.6L595.3 1135.9Z M586.9 1129.2L588.1 1129.7L588.5 1130.8L587.3 1131.3L586.1 1131.5L585.3 1130.6L585.2 1129.3Z M588.2 1125.0L588.2 1126.9L585.9 1127.5L584.6 1126.2L583.6 1125.1L584.8 1123.8L587.1 1123.4Z M590.5 1125.6L592.2 1126.5L590.5 1127.5L589.2 1127.5L588.0 1127.0L587.3 1125.6L589.0 1124.3Z M591.4 1122.7L593.4 1121.3L595.4 1120.4L597.1 1121.6L598.1 1123.6L595.5 1124.4L592.7 1125.0Z M589.3 1125.9L586.8 1125.9L584.1 1126.0L583.7 1123.7L585.4 1121.9L588.3 1122.2L589.4 1123.9Z M581.7 1123.5L582.8 1124.4L581.3 1124.8L580.3 1125.0L579.6 1124.3L579.2 1123.1L580.8 1122.9Z M582.1 1124.9L583.8 1123.2L586.6 1123.3L587.8 1125.0L587.3 1126.6L585.4 1127.1L582.7 1127.2Z M590.1 1133.8L586.9 1134.6L584.9 1132.4L586.4 1130.4L588.3 1128.9L591.8 1129.2L591.3 1131.9Z M587.8 1140.7L585.3 1141.1L583.2 1139.8L582.9 1137.4L585.8 1136.6L588.5 1136.9L589.2 1139.0Z M575.9 1147.6L573.8 1147.5L572.3 1147.3L571.0 1145.9L572.6 1144.6L574.7 1144.6L575.6 1145.9Z M584.1 1139.4L583.3 1138.4L584.0 1136.9L586.2 1136.9L587.3 1138.2L587.1 1139.8L585.3 1140.3Z M582.7 1139.7L581.8 1137.1L584.6 1135.9L587.3 1135.8L589.3 1137.6L587.9 1139.6L585.5 1140.0Z M577.8 1141.0L579.2 1143.3L577.6 1145.3L575.0 1145.6L572.2 1144.7L573.3 1142.6L574.7 1140.9Z M585.9 1145.5L588.3 1144.6L590.7 1145.8L591.3 1148.2L588.9 1149.5L585.8 1149.6L583.5 1147.4Z M585.4 1139.5L587.6 1138.3L589.3 1137.3L590.5 1138.6L591.7 1140.3L589.8 1141.9L587.3 1141.0Z M589.5 1138.5L590.8 1137.6L592.4 1137.5L593.7 1138.6L592.9 1139.8L591.4 1140.2L589.6 1140.0Z M589.1 1141.5L585.4 1141.4L583.6 1140.0L582.8 1138.2L584.5 1136.5L586.9 1137.4L589.0 1138.6Z M586.0 1144.0L585.0 1142.3L585.1 1139.9L588.5 1138.9L590.8 1141.0L590.2 1143.1L588.7 1145.3Z M583.8 1137.7L585.7 1139.8L585.4 1142.2L582.6 1142.8L578.9 1143.1L579.2 1140.2L580.4 1137.9Z M576.0 1146.0L576.2 1143.6L579.1 1143.4L582.7 1143.4L582.3 1146.1L581.0 1148.8L577.7 1147.6Z M585.6 1140.6L584.2 1141.7L582.8 1141.9L581.5 1141.2L581.3 1139.8L582.8 1139.1L584.6 1139.2Z M579.6 1141.7L578.3 1143.4L577.4 1145.2L574.7 1144.8L573.7 1142.8L575.6 1141.7L577.4 1140.4Z M579.6 1141.4L582.4 1141.4L584.3 1142.7L584.3 1144.9L582.2 1147.3L579.0 1145.6L578.5 1143.4Z M583.6 1150.3L579.9 1150.0L577.2 1148.2L578.1 1145.4L581.1 1143.6L584.6 1144.9L585.8 1147.7Z M581.8 1140.1L582.7 1137.4L585.4 1136.6L587.8 1137.2L588.5 1139.0L587.9 1141.1L585.2 1140.6Z M586.8 1143.2L587.4 1141.9L589.2 1141.2L589.9 1142.6L591.0 1143.9L589.3 1144.6L587.6 1144.4Z M581.3 1143.2L581.8 1144.9L579.5 1145.8L578.1 1144.4L576.7 1143.1L578.1 1141.4L580.9 1141.1Z M583.4 1140.8L584.5 1137.6L588.3 1138.9L591.9 1139.6L591.4 1142.7L588.1 1143.8L584.0 1144.0Z M590.2 1144.5L587.4 1144.0L585.7 1142.0L586.6 1139.3L590.0 1139.6L593.3 1140.4L592.4 1143.0Z M578.6 1141.8L580.1 1140.3L582.4 1139.8L583.5 1141.3L583.4 1142.6L582.0 1143.4L580.1 1143.4Z M584.6 1141.9L584.3 1144.1L583.4 1145.8L581.1 1145.4L579.4 1144.3L578.3 1141.7L581.8 1140.8Z M586.9 1142.8L587.3 1145.4L585.0 1147.3L581.5 1147.2L579.8 1144.8L580.7 1142.2L583.9 1142.2Z M590.9 1146.8L590.0 1147.2L589.2 1146.5L589.7 1145.6L590.6 1145.5L591.7 1145.6L591.9 1146.5Z M579.5 1143.9L578.3 1142.9L578.3 1141.5L579.9 1140.4L582.2 1140.7L581.7 1142.5L581.5 1143.9Z M577.3 1143.4L576.9 1144.4L576.2 1145.3L574.6 1145.3L573.4 1144.2L574.1 1142.6L576.0 1142.7Z M571.9 1147.9L573.1 1147.7L573.9 1148.4L573.9 1149.2L573.3 1150.4L571.9 1149.7L570.3 1148.8Z M578.7 1147.1L580.2 1146.9L580.2 1148.1L579.6 1148.8L578.4 1149.6L577.2 1148.7L577.1 1147.3Z M573.5 1156.1L575.2 1155.9L577.0 1156.3L576.4 1157.7L575.7 1159.1L573.8 1158.7L573.8 1157.4Z M584.3 1154.0L583.7 1152.8L583.2 1151.4L585.0 1151.0L586.0 1151.8L586.7 1152.6L586.0 1153.7Z M583.2 1159.3L581.3 1159.2L579.7 1158.6L579.8 1157.1L581.3 1156.4L582.9 1156.7L584.1 1157.9Z M573.7 1158.6L571.6 1159.7L569.2 1159.6L568.7 1157.8L569.1 1156.2L571.3 1155.3L573.3 1156.6Z M576.4 1159.7L577.1 1157.9L578.5 1156.6L580.7 1157.1L582.2 1158.6L580.9 1160.4L578.7 1160.2Z M583.0 1145.9L583.5 1148.3L584.5 1150.5L581.6 1151.7L578.5 1150.7L578.3 1148.3L580.2 1146.9Z M567.6 1151.2L571.0 1152.3L572.0 1154.2L572.4 1156.5L569.3 1158.0L567.2 1155.9L565.3 1153.7Z M568.8 1158.4L569.2 1156.6L571.4 1154.9L574.5 1156.0L574.5 1158.5L572.4 1159.6L569.6 1160.8Z M567.8 1152.1L569.0 1151.4L570.1 1151.9L570.6 1152.8L570.1 1153.6L569.0 1153.5L568.3 1153.0Z M577.9 1152.7L578.2 1150.8L579.6 1149.8L582.4 1148.5L583.1 1151.0L582.0 1152.5L580.2 1153.9Z M574.4 1158.6L575.8 1157.8L576.9 1158.7L577.2 1159.5L577.2 1161.2L575.0 1161.2L574.0 1159.8Z M578.8 1154.0L578.6 1156.2L576.2 1157.6L574.3 1156.1L574.0 1154.7L574.7 1153.4L576.5 1153.3Z M572.7 1142.8L573.6 1142.4L574.7 1142.3L575.2 1143.1L574.4 1143.6L573.7 1144.1L573.1 1143.6Z M574.7 1144.7L577.9 1144.5L579.7 1146.1L579.9 1148.1L577.8 1148.8L574.8 1149.6L573.1 1147.1Z M579.6 1152.6L577.9 1152.5L577.5 1151.0L578.8 1149.9L580.2 1150.6L581.6 1151.1L581.1 1152.4Z M573.6 1152.3L575.3 1153.2L575.2 1154.6L574.4 1155.8L572.5 1155.9L572.2 1154.5L572.2 1153.4Z M577.2 1151.4L577.6 1150.4L578.8 1150.1L580.5 1150.3L579.9 1151.6L579.4 1152.9L577.9 1152.3Z M581.8 1143.6L581.4 1146.7L580.6 1149.0L577.6 1148.7L573.6 1148.1L574.1 1144.7L577.7 1143.2Z M578.7 1152.5L580.2 1153.8L579.1 1155.1L577.6 1155.8L576.3 1155.0L574.9 1153.7L576.5 1152.4Z M579.0 1149.5L576.7 1150.5L575.5 1148.7L576.0 1147.3L577.3 1146.0L579.3 1146.8L581.1 1148.3Z M587.0 1153.1L583.5 1155.0L580.3 1153.8L578.1 1151.9L579.7 1149.7L582.5 1149.0L584.9 1150.3Z M562.5 1154.4L561.0 1155.9L559.6 1154.4L558.1 1153.2L559.8 1152.1L562.0 1151.2L562.3 1153.2Z M562.3 1167.3L560.6 1168.7L559.0 1167.2L559.5 1165.7L560.7 1164.6L563.2 1164.4L563.2 1166.3Z M562.3 1160.4L564.5 1161.0L565.5 1162.5L565.5 1164.8L562.3 1165.3L560.3 1163.6L560.4 1161.6Z M563.7 1160.0L564.9 1162.1L564.3 1163.7L562.6 1165.7L560.0 1164.3L558.5 1162.2L561.2 1161.1Z M560.3 1168.8L559.6 1165.9L563.4 1165.9L567.0 1167.0L565.7 1169.7L563.6 1171.0L560.0 1171.7Z M562.1 1157.7L562.2 1156.9L562.3 1156.1L563.4 1156.1L564.2 1156.6L563.8 1157.3L563.2 1158.0Z M556.6 1166.2L557.2 1163.8L557.4 1161.2L561.2 1160.8L562.8 1163.3L562.4 1165.6L559.8 1166.8Z M566.9 1165.3L566.6 1166.2L565.6 1166.5L564.5 1166.2L563.6 1165.2L565.1 1164.8L566.1 1164.7Z M559.3 1163.5L561.4 1161.9L563.6 1163.3L566.0 1164.8L564.3 1166.9L561.6 1166.3L560.0 1165.4Z M564.1 1164.2L562.1 1163.6L562.5 1161.9L563.7 1160.3L566.6 1160.3L566.6 1162.5L566.4 1164.4Z M556.8 1164.2L554.9 1161.6L557.8 1159.5L561.2 1159.7L564.7 1161.3L563.5 1164.6L559.8 1165.1Z M562.9 1156.6L563.1 1155.3L564.3 1154.5L565.9 1154.9L566.5 1156.0L565.3 1156.6L564.3 1157.1Z M556.0 1163.5L558.0 1162.8L559.2 1164.2L560.0 1165.7L558.4 1167.0L556.6 1166.1L555.6 1165.0Z M563.0 1166.8L563.2 1169.7L560.2 1171.5L556.4 1170.7L557.0 1167.9L557.1 1165.5L560.2 1165.8Z M560.5 1163.5L563.2 1162.1L566.0 1163.6L567.8 1166.5L564.0 1167.7L561.1 1167.5L558.5 1165.7Z M570.0 1155.4L569.1 1157.3L567.1 1158.5L564.6 1157.8L564.6 1155.8L565.8 1154.5L567.8 1154.4Z M558.3 1173.3L556.7 1174.5L554.7 1173.7L554.0 1172.2L555.0 1170.8L556.9 1171.1L558.8 1171.7Z M549.2 1169.1L551.6 1168.6L553.4 1169.5L553.8 1171.1L552.7 1172.8L550.2 1172.5L548.4 1171.1Z M558.9 1170.2L560.4 1169.4L562.6 1168.9L562.8 1170.7L562.8 1172.3L560.7 1172.1L559.6 1171.5Z M544.5 1171.3L543.6 1172.0L542.1 1172.1L542.0 1170.9L542.3 1170.1L543.5 1169.2L544.8 1170.1Z M554.5 1168.2L557.8 1167.2L560.3 1168.8L561.3 1171.2L559.1 1173.1L555.7 1173.0L554.4 1170.8Z M548.6 1171.7L550.4 1173.9L547.1 1174.3L544.2 1175.3L542.8 1172.9L544.1 1170.8L547.0 1169.2Z M553.4 1176.9L555.0 1176.2L556.8 1176.9L557.6 1178.4L555.9 1179.3L554.1 1179.5L552.7 1178.4Z M552.2 1166.3L553.7 1167.8L553.6 1169.4L551.9 1170.1L550.2 1169.9L549.6 1168.6L549.9 1167.1Z M547.2 1166.0L548.1 1167.1L547.0 1167.8L546.0 1168.3L544.6 1167.9L545.3 1166.9L545.9 1166.4Z M551.3 1168.1L551.0 1170.2L549.4 1172.3L546.6 1171.2L545.4 1169.5L546.1 1167.5L548.8 1167.3Z M553.9 1170.5L557.0 1171.3L559.3 1172.6L558.7 1175.1L555.8 1176.6L552.5 1175.4L550.8 1172.5Z M544.8 1179.8L544.3 1177.4L547.3 1176.9L549.6 1177.2L551.1 1179.1L548.9 1180.3L546.9 1180.8Z M546.2 1174.3L546.8 1175.8L545.6 1177.2L543.5 1177.1L542.8 1175.7L543.4 1174.7L544.6 1174.1Z M555.5 1177.5L553.1 1178.0L551.6 1176.3L552.7 1174.5L554.8 1172.8L557.2 1174.4L556.5 1176.3Z M555.6 1171.0L555.2 1173.5L551.9 1173.6L549.3 1172.1L550.4 1170.0L552.1 1168.3L555.0 1168.8Z M552.7 1171.9L555.5 1170.1L558.3 1170.3L559.3 1172.1L559.0 1173.7L557.1 1175.5L555.2 1173.7Z M539.3 1175.3L542.8 1175.5L544.7 1176.4L547.0 1178.4L544.0 1179.9L540.7 1180.5L539.5 1178.0Z M542.6 1178.7L540.3 1179.3L538.7 1178.4L538.0 1177.1L539.2 1175.9L540.8 1176.2L543.0 1176.8Z M536.6 1184.6L533.3 1185.0L532.7 1182.3L535.3 1181.0L538.3 1180.1L540.3 1182.2L538.7 1184.3Z M536.8 1186.7L540.0 1184.6L542.8 1183.7L546.2 1184.9L545.1 1187.6L543.0 1189.2L539.0 1189.7Z M540.0 1184.7L538.3 1183.7L539.9 1182.6L541.5 1182.1L542.4 1183.2L542.9 1184.4L541.4 1185.2Z M547.1 1186.0L545.4 1186.1L544.3 1185.4L544.2 1184.5L545.0 1183.7L546.3 1183.9L546.7 1184.7Z M544.2 1188.7L542.2 1190.8L540.0 1188.9L538.6 1187.2L539.7 1184.7L543.3 1184.5L544.3 1186.9Z M537.7 1183.7L538.2 1180.9L538.5 1178.2L542.1 1178.7L543.5 1180.5L543.7 1182.6L541.2 1183.2Z M539.0 1189.1L537.4 1187.5L539.3 1186.1L541.8 1184.7L542.8 1187.0L543.4 1188.9L541.2 1190.1Z M533.1 1177.4L532.7 1175.9L534.0 1174.9L535.7 1174.8L536.4 1175.9L536.3 1176.9L535.1 1178.3Z M542.3 1184.3L541.6 1182.5L543.0 1181.2L544.9 1180.5L546.5 1181.7L546.2 1183.3L544.9 1185.2Z M547.8 1181.0L548.3 1183.2L546.3 1184.8L544.2 1183.7L543.0 1182.6L543.9 1181.4L545.5 1180.1Z M542.3 1186.3L545.4 1185.6L546.1 1188.1L545.6 1190.3L542.8 1190.3L541.1 1189.3L539.2 1187.1Z M538.4 1186.0L537.2 1187.4L534.9 1187.4L533.2 1185.9L533.7 1183.9L536.2 1183.7L538.5 1184.1Z M536.5 1182.3L538.9 1182.5L540.5 1184.3L538.7 1185.9L536.6 1185.8L533.6 1185.5L533.8 1183.0Z M537.1 1176.7L537.1 1177.3L537.0 1177.9L536.3 1177.9L535.3 1177.8L535.7 1177.1L536.1 1176.3Z M533.7 1182.9L534.8 1183.8L534.9 1184.6L534.7 1185.9L533.1 1185.5L531.8 1184.8L532.4 1183.6Z M533.8 1183.6L536.6 1183.7L539.9 1183.9L539.5 1186.6L537.4 1188.4L533.6 1188.8L533.5 1185.9Z M532.7 1185.9L530.4 1185.4L530.5 1183.6L532.0 1182.5L533.7 1182.9L534.3 1183.9L534.3 1185.2Z M540.1 1183.3L538.4 1182.7L538.7 1181.1L540.6 1180.8L542.0 1181.2L542.8 1182.4L541.7 1183.5Z M543.1 1194.3L539.8 1194.4L536.4 1193.5L537.0 1190.5L539.5 1188.4L542.4 1190.0L544.9 1191.8Z M538.3 1181.4L539.7 1183.2L540.2 1184.7L538.8 1185.9L536.8 1185.5L536.1 1184.3L536.3 1182.8Z M537.0 1196.5L536.1 1195.4L536.7 1194.4L537.8 1194.1L538.8 1194.6L540.3 1195.6L538.7 1196.7Z M545.7 1194.8L544.0 1196.6L541.9 1197.8L539.4 1196.6L539.6 1194.5L541.0 1192.6L543.4 1193.7Z M533.1 1205.3L535.9 1205.0L537.7 1206.6L537.3 1208.4L535.8 1211.1L531.7 1210.3L531.6 1207.3Z M544.1 1194.2L544.2 1196.8L544.4 1199.1L541.2 1200.0L538.5 1198.4L539.1 1196.1L541.0 1195.0Z M530.9 1207.0L531.0 1204.7L532.3 1203.6L534.4 1202.5L536.5 1203.9L536.6 1206.3L534.0 1207.5Z M522.6 1203.1L524.6 1201.2L527.2 1200.3L530.3 1201.4L529.2 1203.8L527.7 1206.4L524.8 1204.9Z M531.0 1197.4L530.5 1196.3L532.1 1196.2L533.7 1195.8L534.4 1197.2L533.4 1198.4L531.8 1198.3Z M532.9 1195.6L534.4 1194.0L536.9 1193.5L539.4 1194.9L539.4 1197.5L536.5 1199.1L534.2 1197.3Z M542.0 1200.1L540.2 1200.3L539.0 1199.0L539.0 1197.0L541.7 1196.3L544.0 1197.5L544.5 1199.7Z M529.0 1203.2L531.6 1204.0L531.0 1206.4L528.4 1207.0L525.7 1206.6L524.1 1204.3L526.7 1202.7Z M537.1 1202.3L536.2 1204.8L532.7 1204.5L531.5 1202.4L530.7 1199.9L534.0 1199.1L537.2 1199.8Z M527.7 1194.7L529.7 1193.9L531.6 1194.1L534.0 1195.4L532.3 1197.3L529.9 1197.2L527.0 1196.9Z M528.5 1192.8L529.6 1191.7L531.1 1190.9L532.2 1192.1L532.9 1193.4L531.5 1194.5L529.9 1193.7Z M529.1 1196.5L529.6 1195.1L530.9 1194.3L532.6 1194.6L532.5 1195.9L532.6 1197.4L530.6 1197.4Z M536.6 1191.3L536.5 1192.9L534.6 1192.9L532.7 1193.0L533.2 1191.5L533.8 1190.6L535.3 1190.4Z M542.5 1195.8L539.7 1195.9L538.9 1193.8L539.4 1191.3L542.6 1191.2L545.4 1192.4L544.8 1194.8Z M526.5 1207.0L524.8 1204.6L525.7 1201.8L529.0 1202.3L531.4 1202.9L532.5 1205.3L530.2 1207.7Z M533.4 1202.8L534.4 1202.0L536.0 1202.3L535.6 1203.6L535.4 1204.9L533.6 1204.8L533.0 1203.7Z M546.0 1199.4L545.1 1199.8L543.3 1199.8L543.7 1198.4L544.3 1197.4L545.8 1197.6L547.2 1198.4Z M533.2 1194.5L534.0 1195.8L533.0 1197.2L530.9 1197.5L530.5 1195.9L530.2 1194.9L531.6 1194.4Z M528.6 1197.4L526.9 1197.2L526.2 1196.1L526.5 1195.1L527.8 1194.9L529.4 1194.9L529.3 1196.2Z M538.9 1208.4L537.7 1208.9L535.9 1209.2L535.4 1207.7L536.6 1207.0L537.8 1206.7L539.0 1207.2Z M541.1 1200.7L539.8 1202.0L538.0 1201.9L536.2 1201.4L535.5 1199.4L538.2 1199.3L539.7 1199.5Z M534.6 1204.5L533.2 1203.4L532.6 1202.0L534.2 1200.9L536.6 1200.7L538.0 1202.5L535.9 1203.6Z M529.5 1196.9L532.7 1196.7L534.8 1198.1L536.1 1200.5L533.4 1202.6L529.5 1202.2L528.1 1199.4Z M545.2 1199.3L547.0 1199.7L547.2 1201.2L546.4 1202.4L544.6 1202.4L543.9 1201.3L543.7 1200.1Z M521.6 1207.7L519.8 1207.3L519.7 1205.8L520.7 1205.0L522.8 1203.8L523.9 1205.6L523.5 1207.2Z M524.4 1215.2L522.8 1215.5L521.6 1214.5L521.3 1212.8L523.4 1212.1L525.9 1212.4L525.7 1214.3Z M518.1 1218.6L520.2 1218.2L522.1 1218.2L522.4 1219.7L522.0 1221.3L520.1 1220.7L518.6 1220.2Z M520.0 1219.9L518.7 1219.5L518.2 1218.3L519.1 1216.8L521.0 1217.5L522.2 1218.4L521.5 1219.7Z M518.5 1208.1L520.4 1209.1L520.3 1210.4L520.2 1212.0L517.9 1212.3L517.0 1210.8L517.5 1209.6Z M534.6 1211.3L536.1 1213.5L533.5 1214.7L531.4 1215.1L529.0 1214.0L529.5 1211.8L531.9 1211.0Z M525.4 1216.5L523.5 1217.5L521.4 1217.6L519.9 1216.2L521.0 1214.7L522.8 1213.8L524.1 1215.0Z M519.7 1216.9L519.9 1218.9L517.1 1219.7L515.3 1218.1L515.6 1216.4L516.9 1215.3L518.9 1215.5Z M512.5 1209.5L513.5 1208.7L515.0 1208.6L515.9 1209.6L515.3 1210.6L514.2 1211.3L513.1 1210.5Z M517.8 1209.1L521.0 1209.9L521.7 1212.9L518.3 1214.1L515.6 1213.4L513.7 1211.7L514.2 1208.8Z M524.4 1201.5L527.8 1202.1L526.4 1204.6L525.1 1206.7L522.7 1205.3L521.8 1203.9L522.3 1202.4Z M527.0 1206.4L527.9 1204.2L530.5 1205.3L531.3 1206.9L530.7 1208.3L528.7 1209.6L526.0 1208.6Z M522.6 1201.8L522.3 1202.8L521.1 1202.9L519.9 1202.6L520.1 1201.6L520.9 1201.1L522.2 1200.8Z M531.1 1207.9L528.4 1209.1L525.0 1209.4L525.2 1206.7L525.2 1204.5L528.2 1204.2L531.5 1205.0Z M520.7 1222.2L519.3 1221.3L519.1 1220.1L519.9 1218.6L522.1 1218.9L522.7 1220.3L523.0 1222.1Z M531.7 1213.7L528.4 1214.1L527.2 1212.0L526.5 1209.8L529.1 1208.3L531.3 1209.8L532.2 1211.4Z M519.7 1209.4L522.1 1208.1L525.5 1208.6L525.0 1211.2L524.4 1213.7L521.2 1213.0L518.5 1211.7Z M523.1 1217.3L523.1 1219.0L522.1 1219.9L520.9 1220.1L518.7 1219.8L520.1 1218.5L520.8 1216.9Z M527.9 1207.5L529.3 1207.3L531.0 1208.2L530.3 1209.8L528.4 1210.6L526.3 1209.9L527.1 1208.3Z M528.2 1209.5L530.9 1208.8L532.0 1210.9L531.7 1213.1L528.9 1213.3L527.1 1212.3L524.5 1210.2Z M526.6 1210.7L524.4 1210.8L522.0 1210.3L522.8 1208.4L523.9 1206.6L526.5 1207.3L526.9 1209.0Z M529.5 1211.4L529.4 1213.0L528.4 1215.2L525.2 1214.7L524.0 1212.5L525.7 1211.0L527.6 1210.7Z M523.3 1210.1L523.3 1208.2L525.2 1207.4L527.5 1206.6L529.0 1208.5L528.0 1210.4L525.5 1211.1Z M524.5 1212.1L525.0 1215.0L523.2 1217.1L520.0 1217.6L516.1 1216.2L518.0 1213.2L520.8 1211.8Z M515.0 1202.2L516.0 1202.2L516.8 1202.4L516.8 1203.0L516.3 1203.4L515.6 1203.4L515.3 1203.0Z M509.4 1205.3L510.5 1206.5L508.8 1207.3L506.9 1207.5L506.0 1206.1L506.8 1204.9L508.4 1203.7Z M514.9 1217.7L517.9 1217.6L520.4 1217.7L521.5 1219.7L519.5 1221.2L517.0 1221.8L515.6 1220.1Z M510.0 1218.7L507.8 1216.9L506.9 1214.7L509.2 1213.2L511.9 1213.5L512.9 1215.3L512.1 1216.8Z M508.7 1230.6L506.6 1230.3L505.1 1229.3L505.2 1227.5L507.3 1226.6L509.5 1227.3L508.9 1229.0Z M510.4 1220.0L509.1 1220.0L507.9 1219.5L507.5 1218.1L509.2 1217.5L510.7 1217.9L510.8 1219.1Z M505.5 1224.3L507.1 1224.2L507.8 1225.3L507.6 1226.5L506.2 1227.0L504.8 1226.5L505.0 1225.4Z M516.0 1221.4L517.5 1221.7L518.0 1222.8L517.9 1224.3L516.0 1223.9L514.3 1223.5L514.0 1221.8Z M516.5 1219.8L518.0 1221.2L517.3 1222.7L516.2 1224.0L514.1 1223.4L512.7 1221.9L514.4 1220.5Z M514.2 1229.9L513.0 1228.1L515.2 1227.2L517.5 1226.1L518.9 1227.9L518.0 1229.6L516.3 1230.7Z M506.4 1225.5L504.3 1227.4L501.4 1227.5L498.5 1226.0L499.9 1223.5L502.4 1222.3L506.0 1222.7Z M506.5 1227.0L504.7 1225.1L507.1 1223.4L510.5 1223.1L512.5 1225.4L510.4 1227.3L508.3 1228.2Z M516.3 1217.6L517.2 1218.5L518.2 1219.5L517.1 1220.6L515.4 1220.3L515.0 1219.3L514.6 1218.0Z M517.5 1225.5L516.2 1227.9L513.2 1227.3L511.2 1226.5L510.8 1224.5L513.2 1224.0L516.2 1223.0Z M515.9 1221.0L516.7 1222.4L515.7 1223.7L514.1 1223.6L512.7 1223.0L511.9 1221.4L513.8 1220.3Z M503.6 1225.6L501.9 1225.9L501.1 1224.5L501.7 1223.2L503.5 1222.7L505.2 1223.5L505.1 1225.0Z M507.0 1225.2L505.6 1226.9L503.0 1226.5L501.4 1224.9L502.6 1223.1L504.8 1222.6L507.6 1223.0Z M507.0 1210.6L508.2 1211.7L508.6 1213.3L506.6 1213.8L504.5 1213.7L504.9 1212.1L505.3 1211.0Z M501.9 1217.0L502.5 1216.3L503.4 1216.7L503.8 1217.5L503.1 1218.1L502.1 1218.2L501.4 1217.6Z M512.6 1218.4L514.5 1219.2L513.0 1220.4L511.6 1220.7L510.5 1220.1L509.3 1218.8L510.8 1217.4Z M512.5 1223.4L515.0 1223.6L518.1 1224.9L515.7 1226.9L513.5 1229.3L511.0 1227.0L510.7 1224.8Z M510.5 1227.8L511.3 1226.0L513.4 1226.9L515.2 1228.1L513.4 1229.3L511.7 1230.5L509.4 1229.5Z M602.6 1071.0L603.8 1070.5L604.6 1071.4L605.0 1072.4L603.9 1073.4L602.5 1072.9L601.5 1071.9Z M610.3 1076.1L613.4 1076.5L612.4 1078.8L611.6 1080.6L608.6 1081.2L607.1 1079.0L607.8 1076.9Z M613.7 1102.4L612.1 1100.9L610.6 1099.8L611.4 1097.8L613.9 1098.3L616.2 1099.0L615.6 1101.0Z M600.0 1086.6L598.9 1085.6L597.8 1084.5L599.3 1083.8L600.6 1084.0L601.9 1084.5L601.1 1085.5Z M615.6 1094.2L615.1 1091.9L618.0 1091.6L621.3 1091.6L620.8 1094.1L619.9 1096.5L616.7 1096.1Z M613.8 1094.0L611.4 1093.3L609.2 1092.4L609.6 1090.2L612.1 1089.7L613.7 1090.7L614.0 1091.9Z M611.4 1086.7L611.3 1085.2L613.2 1084.5L614.9 1085.4L615.0 1086.8L614.1 1088.0L612.3 1087.8Z M597.2 1081.1L599.4 1080.1L601.2 1078.6L602.7 1080.3L603.1 1082.2L601.0 1083.2L598.6 1082.9Z M610.0 1097.3L608.2 1096.9L607.7 1095.3L609.4 1094.4L611.8 1093.8L611.9 1095.8L612.1 1097.4Z M607.3 1088.8L610.2 1088.9L612.7 1091.0L611.7 1094.5L607.4 1093.3L603.9 1092.7L603.6 1089.5Z M612.1 1078.1L615.4 1075.6L617.5 1072.5L620.8 1074.9L621.7 1077.6L619.1 1079.2L616.1 1079.6Z M619.6 1089.6L618.7 1088.5L619.3 1087.2L621.0 1086.6L623.6 1087.0L623.8 1089.3L621.6 1090.6Z M616.5 1083.2L616.7 1086.5L613.4 1087.9L609.8 1088.5L606.9 1085.9L608.5 1082.6L612.5 1083.0Z M618.3 1077.8L617.8 1079.7L615.5 1079.7L613.1 1079.8L612.3 1077.7L614.1 1075.9L616.8 1076.2Z M622.4 1091.9L622.5 1090.2L624.3 1089.1L625.9 1090.1L627.5 1091.2L626.0 1092.5L624.0 1093.2Z M615.9 1076.0L614.0 1075.8L613.7 1074.3L614.4 1072.8L616.8 1072.1L618.3 1073.7L618.1 1075.6Z M612.0 1091.2L616.8 1091.5L618.4 1094.6L616.8 1096.8L614.3 1099.0L610.1 1097.8L610.6 1094.5Z M624.1 1094.8L621.5 1096.5L619.0 1097.1L615.0 1096.4L616.1 1093.2L618.9 1091.1L622.5 1092.2Z M606.7 1075.9L607.4 1077.9L606.3 1079.4L604.4 1080.1L601.8 1079.5L602.0 1077.3L603.8 1075.5Z M616.9 1070.7L615.0 1071.4L613.4 1071.5L611.4 1070.6L612.7 1069.2L614.3 1068.8L616.5 1068.9Z M618.7 1096.4L619.9 1095.3L621.5 1094.5L622.2 1095.9L622.9 1097.1L621.3 1097.4L619.9 1097.5Z M622.3 1080.8L620.9 1079.9L619.8 1078.7L621.0 1077.0L623.3 1077.4L624.4 1078.7L624.7 1080.6Z M623.3 1085.6L624.3 1084.9L625.1 1085.8L625.5 1086.6L624.6 1087.2L623.6 1087.0L622.9 1086.4Z M621.0 1097.6L621.4 1096.0L621.3 1094.6L623.3 1094.4L624.5 1095.4L624.3 1096.7L623.1 1097.8Z M627.0 1088.6L625.8 1089.4L623.7 1090.4L622.1 1088.7L623.6 1087.4L625.0 1086.3L626.9 1087.0Z M599.6 1085.6L601.4 1084.6L602.6 1086.1L603.0 1087.5L601.3 1088.4L598.9 1088.7L598.2 1086.8Z M625.8 1086.8L625.1 1089.2L622.3 1089.6L620.4 1088.7L619.0 1087.0L620.6 1084.8L623.9 1084.8Z M605.1 1074.9L606.3 1075.9L604.8 1076.7L603.4 1076.9L602.7 1076.0L602.6 1075.0L603.8 1074.3Z M604.2 1085.8L600.4 1085.7L599.4 1083.0L600.0 1080.5L603.3 1079.2L606.5 1080.9L608.8 1084.3Z M600.1 1079.3L600.7 1077.3L602.8 1076.1L604.7 1077.3L605.0 1078.7L604.7 1080.6L602.2 1080.4Z M616.0 1092.9L611.8 1092.1L612.6 1088.7L615.5 1087.2L619.2 1087.0L620.1 1089.8L620.0 1092.9Z M611.8 1083.0L609.3 1081.4L607.5 1078.8L610.2 1075.9L614.9 1076.4L616.6 1079.5L616.3 1083.2Z M603.3 1083.0L602.9 1084.6L601.0 1085.4L599.5 1084.4L598.3 1082.9L600.0 1081.6L601.9 1082.1Z M616.2 1098.7L613.2 1098.1L611.6 1096.4L612.1 1094.2L614.9 1092.8L616.6 1094.9L617.3 1096.5Z M602.8 1085.8L603.6 1087.1L602.7 1088.3L601.2 1088.8L600.1 1087.8L599.3 1086.4L600.9 1085.4Z M615.5 1069.1L617.7 1069.5L618.1 1071.3L616.5 1072.6L614.2 1072.7L613.0 1071.2L613.3 1069.4Z M587.6 1097.9L589.1 1097.6L591.0 1097.7L591.8 1099.4L589.8 1100.2L588.2 1100.1L587.3 1099.1Z M589.3 1096.2L591.4 1097.2L590.1 1098.8L589.0 1100.6L586.9 1099.3L586.8 1097.9L587.0 1096.1Z M588.0 1086.6L587.9 1085.6L589.1 1085.6L590.2 1085.4L590.1 1086.3L589.7 1086.9L588.7 1087.2Z M592.9 1091.3L590.1 1089.7L587.4 1087.8L589.3 1085.1L593.0 1085.0L594.3 1087.1L596.0 1089.5Z M589.4 1093.6L588.2 1094.6L586.5 1094.2L585.9 1093.0L586.4 1091.9L588.0 1091.5L588.9 1092.4Z M586.8 1092.5L587.0 1091.5L588.1 1091.2L589.1 1091.6L589.3 1092.3L588.9 1093.1L587.8 1093.0Z M588.5 1100.2L588.0 1098.9L589.7 1098.6L591.1 1098.8L592.0 1099.9L591.2 1101.2L589.2 1101.7Z M601.9 1099.9L600.6 1100.5L598.6 1101.2L597.6 1099.5L598.6 1097.9L600.6 1097.9L602.0 1098.6Z M588.4 1099.2L585.9 1097.7L585.8 1094.8L588.9 1091.8L593.8 1093.5L594.3 1097.2L591.4 1099.1Z M603.3 1089.5L602.8 1093.3L600.2 1096.5L596.3 1094.4L594.7 1092.3L594.6 1089.1L598.8 1088.2Z M591.3 1085.0L591.6 1086.0L590.7 1086.7L589.6 1086.3L588.8 1085.7L589.4 1085.0L590.3 1084.5Z M596.7 1087.6L597.5 1089.0L596.6 1090.0L595.4 1091.4L593.8 1090.3L594.1 1089.0L594.8 1088.0Z M595.1 1103.2L596.4 1102.9L598.2 1103.3L597.6 1104.7L596.4 1105.2L594.8 1105.4L594.7 1104.2Z M587.2 1089.0L590.7 1088.8L592.4 1090.6L594.0 1092.9L590.7 1093.5L587.9 1093.9L586.6 1091.7Z M594.9 1097.1L597.4 1097.1L598.6 1098.5L599.9 1100.4L597.3 1101.4L595.5 1100.2L594.5 1099.0Z M589.3 1098.3L593.3 1099.0L595.5 1100.1L598.2 1103.0L594.3 1105.3L591.0 1103.2L589.7 1101.4Z M586.4 1094.2L591.1 1094.8L593.5 1096.6L593.2 1098.9L591.7 1102.1L588.3 1100.0L584.0 1098.0Z M598.5 1085.3L596.7 1085.0L594.5 1084.4L594.7 1082.4L597.0 1081.2L598.4 1082.8L600.3 1084.0Z M641.8 1091.1L644.9 1089.7L646.6 1092.0L646.8 1093.6L645.8 1095.7L643.0 1095.1L641.3 1093.4Z M654.5 1091.8L656.3 1091.2L657.3 1092.4L658.5 1094.2L656.1 1094.9L654.3 1094.3L653.9 1092.9Z M652.4 1097.3L650.7 1098.0L648.4 1097.8L648.8 1096.0L649.4 1094.4L651.9 1093.9L653.4 1095.7Z M627.4 1084.0L628.4 1082.8L630.2 1082.5L631.6 1083.6L631.7 1085.3L629.7 1086.0L627.6 1085.5Z M649.8 1094.7L651.2 1095.7L649.7 1096.6L648.1 1097.0L647.4 1095.8L647.5 1094.8L648.7 1094.2Z M642.3 1080.3L642.0 1081.9L640.1 1082.2L638.4 1081.5L637.9 1079.9L639.6 1079.0L641.1 1079.5Z M636.2 1085.2L633.9 1084.6L634.0 1082.9L634.5 1081.4L636.7 1081.2L638.4 1082.4L638.1 1084.1Z M646.6 1086.0L645.5 1084.6L645.6 1083.0L647.5 1081.6L649.1 1083.2L650.1 1084.5L648.9 1086.0Z M645.0 1093.3L645.5 1094.8L643.7 1095.1L642.5 1095.1L641.7 1094.3L641.7 1092.9L643.4 1093.2Z M636.7 1090.2L632.2 1090.8L629.1 1087.9L630.0 1084.1L634.5 1082.3L637.7 1084.9L638.5 1087.5Z M633.5 1078.9L635.9 1078.3L637.8 1079.6L638.0 1081.6L635.8 1082.3L634.1 1081.7L633.4 1080.6Z M641.1 1095.8L640.0 1094.5L640.0 1093.3L640.9 1092.3L642.7 1092.4L644.0 1093.6L642.9 1095.0Z M653.0 1089.4L653.0 1087.4L652.5 1085.5L655.0 1085.6L657.5 1086.0L657.7 1088.1L655.6 1089.4Z M630.4 1083.4L631.7 1083.3L632.6 1084.1L633.6 1085.6L631.4 1086.0L629.6 1085.8L629.1 1084.3Z M638.7 1087.1L640.2 1087.9L640.5 1089.5L638.6 1090.0L636.9 1089.9L635.2 1088.6L636.9 1087.4Z M639.3 1091.1L637.3 1091.1L636.1 1089.7L636.4 1087.8L638.8 1087.4L641.4 1088.0L640.4 1089.9Z M649.7 1095.2L648.8 1095.8L647.7 1096.1L646.6 1095.4L647.4 1094.5L648.2 1094.2L649.4 1094.3Z M635.1 1080.3L634.0 1080.9L632.7 1080.5L631.9 1079.1L633.5 1078.3L634.8 1078.8L635.6 1079.5Z M658.2 1092.1L655.3 1094.7L652.8 1097.8L649.1 1095.4L649.0 1092.5L651.1 1090.6L655.1 1089.0Z M633.4 1088.4L634.8 1088.4L635.2 1089.6L634.4 1090.4L632.9 1091.0L632.0 1089.9L632.4 1088.9Z M663.3 1096.2L662.5 1097.1L661.4 1096.9L660.4 1096.5L660.3 1095.5L661.5 1095.0L662.5 1095.5Z M646.6 1092.5L642.5 1093.5L639.5 1091.0L639.3 1087.8L642.9 1086.8L646.9 1086.5L646.8 1089.6Z M637.3 1086.4L634.5 1087.3L631.0 1087.5L630.5 1084.7L631.9 1082.6L635.6 1080.8L638.6 1083.5Z M663.5 1094.6L661.6 1095.6L659.9 1096.1L658.5 1095.1L658.0 1093.3L660.2 1092.7L662.6 1092.7Z M652.0 1091.4L647.8 1089.7L646.6 1087.2L646.2 1083.6L650.8 1083.9L653.8 1085.3L653.9 1088.1Z M646.5 1082.2L644.0 1084.4L640.7 1085.5L637.5 1083.7L637.1 1080.4L641.0 1079.6L644.0 1079.9Z M630.6 1079.9L628.2 1081.6L624.4 1082.1L622.6 1079.2L624.1 1076.5L627.9 1074.4L631.5 1076.8Z M624.1 1085.0L622.4 1085.3L621.3 1085.2L620.5 1084.5L620.9 1083.6L622.2 1082.5L623.8 1083.4Z M626.8 1074.5L629.3 1077.0L627.8 1079.5L625.4 1081.0L621.4 1080.8L620.3 1077.6L622.2 1074.5Z M634.2 1077.9L635.3 1078.0L635.9 1078.6L635.7 1079.5L634.5 1080.0L633.8 1079.2L633.1 1078.4Z M629.9 1075.3L632.8 1076.2L633.0 1079.0L629.8 1080.8L626.1 1079.8L626.0 1077.0L626.2 1073.8Z M633.8 1073.3L633.8 1074.4L632.5 1075.5L630.6 1074.8L631.0 1073.4L631.4 1072.2L633.1 1072.5Z M630.3 1083.2L628.6 1082.9L628.3 1081.7L628.9 1080.6L630.6 1080.0L632.1 1081.0L631.4 1082.4Z M626.9 1085.8L626.3 1084.4L627.3 1083.4L628.7 1082.8L629.5 1083.9L630.4 1085.2L628.7 1085.6Z M625.3 1083.0L626.5 1084.4L625.9 1086.1L623.7 1087.1L622.5 1085.5L621.3 1084.0L623.3 1083.2Z M623.2 1080.9L623.9 1082.5L622.8 1083.5L621.5 1083.6L619.8 1083.4L619.5 1081.8L621.2 1081.2Z M620.1 1081.4L619.1 1081.4L618.5 1080.5L619.6 1080.2L620.3 1080.0L621.4 1080.3L621.3 1081.3Z M618.7 1076.5L617.6 1075.5L618.2 1074.4L619.5 1074.1L620.6 1074.5L621.0 1075.4L620.2 1076.2Z M588.0 1149.7L589.5 1151.4L589.7 1153.2L587.6 1153.9L584.8 1154.3L584.3 1152.1L586.0 1150.9Z M573.6 1151.0L575.2 1150.8L576.0 1152.1L574.7 1152.8L573.5 1153.5L572.6 1152.5L572.1 1151.3Z M593.7 1155.7L592.4 1156.2L591.5 1155.5L591.1 1154.8L591.5 1153.9L592.7 1154.1L593.9 1154.5Z M572.6 1138.7L575.4 1137.8L577.9 1136.6L578.9 1138.8L578.6 1140.7L576.4 1142.1L573.5 1141.2Z M586.3 1159.4L585.8 1158.4L586.0 1157.7L586.9 1157.3L588.2 1157.3L588.7 1158.4L587.8 1159.3Z M582.5 1142.2L579.2 1143.2L576.8 1142.9L574.1 1141.3L576.1 1139.2L579.0 1136.8L582.8 1138.9Z M580.2 1137.5L581.3 1136.2L583.3 1135.4L584.9 1136.8L585.1 1138.6L582.9 1138.9L581.5 1138.5Z M579.4 1144.4L581.4 1144.1L583.1 1145.3L583.1 1147.4L580.7 1148.5L578.6 1147.3L577.8 1145.6Z M586.0 1133.9L587.3 1133.9L589.2 1133.9L589.2 1135.6L587.4 1135.9L586.0 1136.0L585.0 1134.9Z M578.3 1132.0L579.4 1133.1L580.0 1134.3L578.5 1135.0L576.3 1135.8L576.4 1133.9L576.6 1132.6Z M592.2 1136.0L591.6 1136.7L590.3 1136.7L590.3 1135.7L590.6 1135.1L591.6 1134.5L592.4 1135.3Z M580.2 1135.2L580.1 1136.0L579.0 1136.8L577.5 1136.3L577.2 1135.0L578.5 1134.3L580.1 1134.0Z M585.8 1137.2L588.2 1138.7L589.3 1140.2L589.4 1143.0L586.1 1142.1L582.9 1141.6L583.9 1139.2Z M579.1 1139.1L579.4 1141.7L576.1 1141.5L574.3 1140.2L572.8 1138.0L575.7 1136.9L578.1 1137.5Z M578.7 1154.8L580.3 1151.7L584.5 1152.9L587.2 1155.9L585.0 1159.5L580.4 1158.9L576.2 1157.7Z M591.6 1140.4L591.1 1139.4L592.0 1138.7L593.2 1138.5L594.8 1139.0L594.1 1140.2L592.9 1141.0Z M596.3 1153.2L596.5 1154.5L595.1 1155.2L593.6 1155.0L592.8 1154.0L593.8 1153.2L594.9 1152.6Z M578.2 1155.9L579.1 1154.2L581.3 1154.8L583.3 1155.9L582.7 1157.9L580.2 1158.8L578.9 1157.2Z M590.2 1149.6L590.8 1151.0L589.8 1152.1L587.9 1152.8L586.2 1151.6L586.3 1149.8L588.4 1149.5Z M578.4 1140.1L576.4 1139.5L577.7 1138.1L579.2 1137.8L580.5 1138.3L581.8 1139.6L579.9 1140.4Z M586.2 1142.7L586.5 1145.7L583.0 1147.9L579.4 1145.8L577.1 1142.8L580.1 1140.1L584.0 1140.8Z M592.9 1147.9L594.1 1147.5L595.2 1147.8L595.5 1148.6L595.2 1149.6L593.8 1149.6L593.3 1148.8Z M578.6 1139.8L583.1 1138.3L583.0 1142.1L583.4 1145.2L579.3 1146.0L575.1 1144.7L575.5 1141.2Z M572.7 1145.4L573.9 1146.5L574.7 1148.1L572.8 1149.4L570.9 1148.3L569.1 1147.1L570.2 1145.1Z M584.7 1141.8L585.0 1144.1L582.6 1145.7L578.8 1145.8L578.6 1142.9L579.2 1140.3L582.7 1139.8Z M591.2 1135.9L590.5 1137.9L588.0 1137.5L585.4 1137.1L586.0 1135.0L587.7 1133.6L590.5 1133.9Z M581.2 1159.0L580.7 1160.1L579.1 1160.2L577.9 1159.3L578.5 1158.2L579.6 1157.3L580.9 1158.0Z M571.3 1151.2L571.8 1149.6L573.1 1148.7L575.0 1148.8L576.0 1150.2L575.1 1151.6L573.3 1151.6Z M589.7 1155.9L588.1 1154.7L587.0 1153.1L588.4 1151.1L590.8 1152.2L592.7 1153.2L592.2 1155.3Z M590.0 1156.6L586.1 1154.7L588.1 1151.8L589.1 1148.6L592.9 1150.0L593.6 1152.4L592.7 1154.3Z M589.5 1152.1L589.4 1150.0L592.0 1149.9L594.3 1150.1L594.1 1151.9L593.0 1153.0L591.3 1153.0Z M582.4 1151.4L580.4 1151.4L579.0 1150.4L579.0 1148.8L580.8 1147.6L582.8 1148.6L584.0 1150.1Z M583.7 1159.8L583.3 1160.9L582.2 1161.8L581.0 1161.1L580.5 1160.1L581.3 1159.4L582.7 1158.6Z M595.5 1144.1L595.1 1142.9L596.5 1142.4L597.7 1142.8L599.0 1143.5L598.0 1144.6L596.7 1144.4Z M592.1 1151.8L593.8 1151.9L595.0 1152.5L594.9 1153.5L594.1 1154.4L592.5 1154.3L591.6 1153.2Z M577.6 1155.6L579.7 1155.1L582.1 1155.0L582.3 1156.9L581.1 1158.2L579.3 1158.1L578.2 1157.2Z M594.4 1156.0L593.8 1155.4L594.1 1154.7L594.9 1154.0L595.8 1154.7L596.1 1155.4L595.6 1156.3Z M585.2 1147.4L584.1 1145.2L586.4 1144.0L588.7 1143.7L590.3 1145.2L589.8 1147.0L587.8 1148.8Z M585.8 1138.2L588.1 1139.2L586.4 1140.8L584.8 1141.7L583.2 1140.9L581.2 1139.2L583.8 1138.2Z M581.6 1151.0L581.1 1154.3L578.8 1157.2L575.4 1155.2L571.7 1153.7L574.2 1151.1L577.3 1150.7Z M592.5 1157.9L590.9 1158.5L589.4 1157.9L588.4 1156.7L590.1 1156.1L591.1 1156.0L591.9 1156.6Z M588.0 1136.1L586.7 1136.1L585.6 1135.3L586.4 1134.4L587.4 1133.6L588.4 1134.4L588.6 1135.3Z M582.3 1138.4L579.2 1140.8L576.0 1141.5L573.4 1139.9L572.7 1137.2L575.2 1134.3L578.7 1136.4Z M582.1 1152.5L582.6 1150.8L584.2 1150.1L586.4 1150.1L586.9 1151.8L585.6 1152.9L584.0 1153.2Z M596.0 1149.1L594.8 1149.3L594.6 1148.4L594.1 1147.4L595.4 1146.9L596.5 1147.5L596.3 1148.3Z M587.9 1142.3L591.2 1141.0L595.4 1140.6L597.4 1143.8L595.4 1147.0L591.2 1147.2L589.0 1145.1Z M581.6 1135.4L585.4 1137.8L585.7 1141.9L581.2 1143.7L577.5 1142.0L574.7 1139.5L577.9 1137.2Z M583.0 1136.6L582.8 1133.0L587.3 1133.9L591.9 1134.1L591.8 1137.9L587.8 1139.0L583.8 1139.9Z M583.3 1159.3L584.4 1157.8L585.2 1156.5L586.7 1157.4L587.5 1158.3L586.7 1159.2L585.2 1160.3Z M581.6 1150.6L583.4 1151.9L584.8 1153.2L583.8 1155.2L581.3 1154.7L579.1 1153.9L580.0 1152.1Z M573.2 1134.2L572.5 1135.9L570.0 1136.7L567.9 1135.3L568.4 1133.4L569.9 1131.7L572.2 1132.7Z M583.6 1124.9L584.7 1124.9L584.5 1125.8L584.4 1126.9L583.0 1126.6L582.1 1125.9L582.8 1125.2Z M577.4 1122.5L579.3 1123.3L578.2 1124.7L576.8 1126.5L573.9 1125.6L574.8 1123.6L575.3 1121.9Z M569.9 1133.9L569.7 1130.6L570.7 1128.6L573.6 1126.4L575.5 1129.2L575.9 1131.3L574.2 1133.5Z M566.9 1120.1L568.3 1118.6L570.1 1117.1L571.7 1118.8L573.2 1120.5L571.0 1121.8L568.3 1122.1Z M581.7 1126.6L582.2 1128.7L582.6 1131.5L578.7 1132.1L576.0 1130.1L575.8 1127.3L578.9 1126.5Z M576.0 1131.0L577.8 1134.1L574.1 1136.2L570.1 1135.2L569.1 1132.5L570.4 1130.2L573.6 1128.7Z M569.9 1120.8L572.3 1119.3L574.7 1120.2L577.4 1121.4L575.4 1123.3L573.0 1124.9L569.9 1123.5Z M561.8 1130.4L561.4 1127.2L564.0 1125.5L567.1 1125.0L569.0 1127.0L568.9 1129.6L565.9 1131.9Z M573.1 1136.5L572.6 1134.7L573.6 1133.4L575.7 1132.7L577.3 1134.0L576.8 1135.5L575.4 1136.6Z M578.0 1122.8L574.5 1123.6L571.5 1122.3L570.4 1119.5L573.0 1117.1L576.7 1117.8L578.8 1120.0Z M571.0 1134.8L571.6 1134.0L573.2 1133.9L573.7 1135.2L573.2 1136.4L571.7 1136.0L570.8 1135.7Z M567.4 1132.2L567.9 1133.2L566.7 1133.6L565.7 1133.3L564.7 1132.5L565.7 1131.8L566.8 1131.4Z M577.2 1123.4L575.8 1121.7L577.1 1119.7L579.9 1119.2L581.5 1120.9L581.5 1122.8L579.4 1123.2Z M580.7 1126.0L580.8 1127.7L579.5 1128.9L577.5 1128.8L575.4 1127.6L575.8 1125.2L578.7 1125.3Z M570.4 1129.2L571.4 1127.0L572.8 1125.7L575.5 1125.3L576.6 1127.4L576.7 1130.0L573.3 1130.0Z M579.6 1121.4L580.0 1120.6L580.9 1120.0L581.6 1120.8L582.2 1121.6L581.4 1122.4L580.2 1122.1Z M574.3 1135.4L573.0 1135.4L571.8 1134.6L572.5 1133.6L573.7 1132.5L575.2 1133.4L575.4 1134.7Z M574.6 1135.4L573.5 1135.6L572.0 1135.1L572.3 1133.9L573.6 1133.5L574.6 1133.9L574.9 1134.6Z M578.9 1120.2L577.4 1121.0L576.0 1120.6L574.4 1119.8L575.2 1118.2L577.2 1117.9L578.3 1118.9Z M600.4 1124.2L596.4 1124.1L593.8 1123.8L592.5 1121.7L594.5 1120.0L597.1 1120.0L600.4 1121.0Z M585.1 1127.3L585.1 1125.4L586.8 1124.4L588.5 1124.6L590.3 1125.5L590.3 1127.8L587.4 1128.7Z M584.8 1124.8L583.0 1124.5L581.7 1123.4L582.9 1122.3L584.3 1121.3L586.0 1122.2L585.8 1123.7Z M583.8 1120.9L586.1 1121.1L588.1 1122.4L586.2 1123.7L584.8 1125.1L582.5 1124.3L583.2 1122.5Z M588.4 1114.5L590.3 1114.6L590.6 1116.0L590.1 1117.4L588.3 1117.3L586.2 1116.8L587.0 1115.2Z M598.8 1130.8L596.6 1130.9L595.9 1129.5L595.6 1128.3L597.0 1127.2L598.3 1128.3L598.8 1129.1Z M588.0 1131.7L586.3 1129.8L586.7 1127.6L589.4 1127.0L592.2 1127.4L592.3 1129.7L591.0 1131.7Z M590.8 1118.5L591.6 1116.4L594.3 1115.5L597.1 1116.7L596.6 1119.0L594.9 1120.5L592.0 1120.6Z M594.2 1124.8L591.0 1124.2L588.0 1122.5L589.2 1119.5L592.8 1118.1L595.9 1120.0L595.8 1122.5Z M601.2 1124.6L599.7 1124.0L599.7 1122.6L601.2 1122.0L602.9 1122.1L602.9 1123.4L602.6 1124.4Z M589.6 1117.2L591.5 1118.9L592.0 1120.5L591.0 1122.7L587.9 1122.4L586.1 1120.6L586.9 1118.3Z M595.7 1120.4L593.7 1119.4L595.2 1118.1L597.2 1117.6L599.3 1118.5L599.1 1120.4L597.0 1120.9Z M588.9 1115.0L590.6 1115.7L591.1 1117.1L590.3 1118.4L588.1 1118.8L586.1 1117.6L586.6 1115.5Z M599.4 1123.9L599.0 1122.5L599.2 1121.5L600.3 1121.0L602.1 1121.0L602.5 1122.5L601.1 1123.3Z M588.8 1119.9L585.5 1117.7L588.8 1115.5L592.3 1115.2L595.3 1117.0L594.0 1119.7L591.3 1120.4Z M588.5 1122.6L588.3 1121.1L588.9 1119.7L590.9 1119.5L591.7 1120.8L591.4 1121.8L590.5 1123.0Z M605.1 1101.5L605.2 1103.6L604.8 1105.3L602.5 1105.7L601.0 1104.4L601.4 1103.0L602.5 1101.8Z M605.6 1109.8L603.3 1110.7L600.8 1109.7L600.5 1107.5L602.0 1105.0L604.9 1106.6L608.3 1107.8Z M596.2 1111.6L597.3 1111.3L598.7 1111.1L599.3 1112.3L598.1 1113.0L596.9 1113.5L596.0 1112.5Z M600.4 1098.9L603.1 1101.1L602.8 1103.7L600.8 1106.1L597.9 1104.4L596.3 1102.7L596.5 1099.9Z M599.5 1114.4L599.8 1113.8L600.5 1113.5L601.2 1113.8L601.6 1114.4L601.0 1115.1L599.9 1115.1Z M600.9 1109.5L600.7 1111.8L597.8 1112.6L595.4 1111.2L594.0 1108.7L597.2 1107.7L600.5 1106.8Z M596.2 1103.3L598.5 1102.2L602.2 1101.0L602.7 1104.1L601.1 1105.9L598.5 1107.5L595.8 1105.7Z M596.5 1107.0L592.9 1104.7L595.9 1101.9L599.2 1100.9L601.7 1102.7L603.5 1105.4L600.4 1107.8Z M556.9 1161.7L559.3 1162.6L558.4 1164.6L556.8 1166.2L555.0 1164.8L554.0 1163.7L554.0 1161.5Z M562.2 1162.0L562.9 1160.2L565.1 1158.6L568.1 1159.8L567.7 1162.2L566.4 1164.4L563.7 1163.4Z M558.0 1160.7L556.9 1158.6L556.6 1156.4L559.2 1155.0L561.4 1156.7L562.4 1158.4L561.3 1160.8Z M557.4 1162.6L559.6 1160.6L563.9 1160.5L565.1 1163.8L563.7 1166.9L559.7 1166.8L556.8 1165.2Z M562.8 1157.0L561.4 1158.5L559.1 1158.3L558.4 1156.9L558.0 1155.3L560.1 1155.3L562.1 1155.3Z M552.7 1159.3L553.2 1157.2L555.3 1156.3L557.8 1156.5L557.7 1158.5L557.5 1160.4L555.0 1160.0Z M559.1 1158.2L557.7 1157.9L557.8 1156.6L559.1 1155.9L560.6 1156.2L560.7 1157.3L560.4 1158.4Z M554.8 1170.7L556.3 1171.3L558.2 1172.5L556.4 1173.9L554.2 1174.2L552.2 1173.0L553.5 1171.5Z M560.7 1159.9L559.3 1156.6L563.7 1156.3L567.7 1156.5L569.2 1159.9L565.7 1161.6L562.1 1162.7Z M555.8 1162.4L555.7 1164.2L553.7 1165.1L552.2 1163.9L550.4 1162.6L551.9 1160.8L554.8 1160.5Z M551.9 1160.9L554.3 1162.0L555.4 1163.9L553.5 1165.1L551.0 1166.5L549.4 1164.4L549.6 1162.3Z M563.0 1156.5L563.0 1154.8L563.4 1153.6L565.1 1152.8L566.6 1154.0L566.5 1155.4L565.2 1156.6Z M550.3 1167.4L552.2 1168.0L551.7 1169.5L550.1 1170.4L548.3 1170.0L548.3 1168.6L548.4 1167.1Z M553.6 1169.4L555.9 1169.8L557.5 1170.9L557.4 1172.9L554.9 1172.9L553.6 1172.2L552.7 1171.0Z M557.9 1158.4L558.3 1160.0L557.5 1161.2L555.5 1162.0L554.3 1160.5L553.9 1158.9L555.8 1157.8Z M562.5 1165.3L558.6 1167.2L555.7 1167.1L551.7 1166.2L552.7 1162.9L556.2 1161.3L559.2 1162.8Z M565.8 1159.3L562.1 1158.6L561.4 1155.7L562.9 1153.3L566.1 1153.8L569.5 1154.7L569.3 1157.8Z M552.9 1173.5L548.9 1175.2L546.6 1172.6L545.3 1170.6L547.3 1169.1L550.1 1168.6L551.6 1170.5Z M553.8 1161.8L553.6 1159.6L556.3 1158.7L558.0 1160.2L558.7 1161.7L557.2 1162.7L555.3 1163.2Z M550.3 1173.4L549.5 1174.4L547.9 1175.6L546.5 1174.3L545.6 1172.5L547.9 1171.8L549.7 1172.2Z M543.2 1186.5L545.5 1188.4L545.2 1190.4L543.7 1192.0L540.5 1192.5L539.6 1190.0L540.1 1187.7Z M543.6 1193.9L539.9 1193.3L540.9 1190.5L541.9 1188.6L545.4 1187.5L548.3 1189.9L545.4 1192.1Z M538.9 1197.4L539.3 1194.9L542.4 1192.8L546.4 1194.4L545.6 1197.6L544.2 1200.4L539.9 1200.3Z M541.6 1187.2L538.8 1185.8L540.7 1183.6L543.4 1181.8L545.8 1184.0L546.7 1186.3L544.6 1188.7Z M530.0 1193.6L530.5 1194.4L529.4 1194.7L528.6 1194.4L528.0 1193.8L528.5 1193.0L529.5 1192.9Z M534.2 1187.3L533.9 1188.3L532.7 1188.6L531.0 1188.6L531.3 1187.3L532.0 1186.3L533.6 1186.2Z M536.5 1198.8L535.0 1200.0L532.1 1199.6L532.8 1197.4L533.8 1195.9L536.5 1195.5L537.4 1197.5Z M537.3 1186.6L535.8 1188.9L534.0 1190.5L531.4 1189.6L531.2 1187.7L531.6 1185.8L534.6 1184.6Z M540.6 1193.3L536.5 1193.9L533.6 1193.9L531.0 1191.8L533.9 1190.0L536.3 1188.7L538.4 1190.5Z M548.9 1177.1L548.1 1176.9L547.6 1176.3L547.9 1175.5L549.0 1175.6L550.3 1175.9L549.8 1176.8Z M545.2 1181.8L541.3 1182.9L537.2 1184.6L536.0 1181.1L536.6 1178.0L540.5 1176.2L542.8 1179.1Z M528.3 1190.7L530.0 1190.8L530.3 1192.1L529.8 1193.3L528.2 1193.4L526.6 1192.8L527.1 1191.4Z M534.9 1191.3L535.9 1192.5L535.6 1193.7L534.5 1194.8L532.6 1194.3L531.5 1192.8L533.0 1191.6Z M535.2 1202.0L534.7 1203.4L533.0 1203.8L532.1 1202.8L531.4 1201.8L532.6 1201.0L533.9 1201.4Z M548.6 1195.7L549.4 1196.9L548.9 1198.4L547.0 1198.2L545.4 1197.5L545.1 1195.8L547.2 1195.5Z M550.2 1179.9L551.8 1180.3L552.8 1180.8L553.7 1182.2L551.8 1182.6L550.3 1182.3L549.7 1181.2Z M538.6 1202.9L538.2 1200.1L540.8 1198.8L544.5 1197.4L547.1 1200.3L545.5 1203.4L541.7 1205.1Z M535.1 1198.8L538.0 1199.4L538.6 1201.7L536.9 1203.7L534.4 1202.9L532.1 1201.9L533.1 1200.0Z M542.4 1181.6L544.3 1184.8L541.8 1187.0L539.0 1187.7L535.5 1187.0L536.2 1184.2L538.2 1182.3Z M548.1 1189.4L547.0 1186.1L548.0 1183.6L551.0 1182.3L553.2 1184.2L554.9 1186.5L552.4 1188.5Z M527.5 1193.0L528.1 1191.9L529.9 1190.9L530.9 1192.4L531.6 1194.0L529.7 1195.0L528.2 1193.9Z M538.6 1202.6L540.6 1202.0L542.4 1201.7L543.1 1203.1L542.7 1204.4L541.1 1204.6L539.1 1204.4Z M534.5 1198.4L538.4 1197.0L541.7 1198.6L542.0 1201.2L541.0 1204.2L537.3 1203.3L535.9 1201.3Z M531.2 1192.4L535.9 1190.9L539.6 1193.8L538.5 1197.3L535.4 1199.2L530.9 1199.0L530.3 1195.6Z M530.9 1192.5L528.5 1191.9L529.1 1190.1L530.1 1189.1L531.9 1188.7L532.9 1190.0L533.4 1191.9Z M552.2 1194.5L553.9 1193.1L555.1 1194.9L555.0 1196.1L554.1 1197.3L552.6 1196.6L551.1 1195.7Z M533.5 1202.7L534.1 1204.0L533.2 1205.0L531.9 1205.3L530.6 1204.8L530.7 1203.6L531.7 1202.6Z M547.5 1186.0L546.6 1188.1L544.0 1188.0L542.0 1187.0L542.1 1185.2L543.6 1183.3L547.3 1183.1Z M551.0 1198.2L549.4 1200.0L546.4 1201.0L545.2 1198.7L544.3 1196.5L547.1 1195.3L550.2 1195.8Z M546.5 1176.3L547.3 1177.7L547.9 1179.2L546.2 1180.4L543.7 1179.9L543.1 1178.0L544.9 1177.1Z M549.0 1200.1L549.1 1201.5L547.6 1201.8L546.3 1201.9L545.8 1200.9L546.4 1200.1L547.6 1199.4Z M550.2 1186.3L551.0 1189.2L547.7 1190.5L543.8 1190.6L544.4 1187.7L544.6 1185.5L547.6 1184.8Z M540.2 1191.4L542.3 1188.6L545.7 1190.3L547.9 1191.5L548.5 1194.5L544.6 1194.3L541.0 1194.5Z M528.8 1192.0L527.2 1191.3L525.9 1190.0L527.4 1188.6L529.6 1188.4L530.7 1189.8L530.7 1191.4Z M544.5 1186.3L546.7 1187.3L546.8 1189.6L544.2 1191.2L542.3 1189.2L541.1 1187.9L542.1 1186.1Z M553.0 1191.4L553.7 1193.4L551.4 1194.4L549.1 1194.0L547.6 1192.3L548.1 1189.8L551.6 1189.3Z M529.7 1197.5L527.7 1197.8L526.8 1196.6L525.9 1195.2L527.7 1194.2L529.2 1195.1L529.5 1196.0Z M544.6 1204.4L545.6 1205.0L545.9 1206.0L545.0 1206.9L543.8 1206.4L542.8 1205.8L543.2 1204.7Z M536.8 1192.0L537.8 1194.6L536.6 1196.7L533.7 1197.9L531.7 1195.9L529.7 1193.2L533.0 1190.9Z M536.0 1196.9L532.1 1198.0L529.7 1195.8L529.8 1193.6L531.4 1191.8L535.0 1191.1L536.4 1193.9Z M553.1 1185.8L553.0 1184.8L553.4 1184.2L554.3 1183.6L554.8 1184.4L555.4 1185.2L554.3 1185.5Z M529.5 1195.2L530.3 1192.6L531.8 1190.3L535.2 1190.8L538.7 1192.8L537.0 1196.2L532.7 1197.6Z M537.4 1198.9L537.0 1197.5L537.6 1195.8L539.7 1196.4L541.0 1197.3L540.7 1198.7L539.1 1200.2Z M548.5 1190.9L547.7 1193.4L545.8 1194.9L542.6 1194.9L542.3 1192.5L543.2 1190.9L545.3 1190.7Z M524.6 1216.1L525.4 1214.1L527.2 1213.2L529.6 1213.1L530.9 1215.1L529.0 1216.5L527.2 1216.4Z M528.6 1211.7L532.3 1210.9L534.6 1213.3L534.6 1216.3L531.3 1218.0L526.5 1217.8L524.7 1213.9Z M539.7 1210.6L536.9 1210.8L534.5 1209.8L535.2 1207.8L536.6 1205.9L538.6 1207.5L540.8 1208.5Z M536.2 1210.2L532.3 1208.9L530.9 1206.3L532.8 1204.1L536.2 1202.1L539.7 1204.5L537.9 1207.3Z M528.5 1204.7L528.7 1207.8L526.2 1209.5L523.6 1209.1L522.2 1207.6L521.7 1205.4L524.6 1204.1Z M525.4 1220.8L525.0 1219.8L524.8 1218.4L526.7 1218.3L528.0 1219.1L527.9 1220.3L526.8 1220.9Z M526.8 1208.5L525.2 1210.4L523.1 1210.7L521.2 1210.0L520.5 1208.2L521.9 1206.0L525.5 1206.0Z M519.6 1214.9L520.9 1214.4L522.0 1214.4L523.5 1214.9L523.1 1216.3L521.5 1216.6L519.6 1216.4Z M533.7 1204.3L534.7 1203.9L535.5 1204.1L536.3 1204.5L535.6 1205.1L534.9 1205.8L533.9 1205.2Z M523.3 1209.4L520.9 1210.1L519.9 1208.2L520.1 1206.2L522.6 1205.9L525.2 1206.3L525.3 1208.5Z M533.0 1210.2L529.1 1209.5L527.5 1207.1L528.2 1204.5L531.4 1204.6L533.9 1205.2L534.0 1207.4Z M525.9 1215.7L527.6 1216.1L529.0 1217.3L527.5 1218.5L525.6 1219.3L524.4 1217.9L523.8 1216.2Z M524.6 1219.6L526.1 1215.7L526.1 1211.9L530.4 1213.7L534.1 1214.8L533.1 1218.0L529.8 1220.6Z M518.5 1201.3L521.8 1199.4L524.8 1200.6L528.4 1202.0L525.8 1204.4L522.9 1205.9L521.0 1203.8Z M519.3 1210.3L522.9 1208.9L526.2 1211.0L525.1 1213.8L523.2 1216.0L519.3 1215.6L517.1 1212.9Z M522.8 1206.1L520.8 1207.6L518.2 1206.6L518.2 1204.6L518.8 1202.4L521.4 1203.2L524.0 1204.0Z M524.6 1207.4L524.2 1209.7L523.5 1211.7L520.6 1211.7L519.0 1210.0L519.9 1208.3L521.6 1206.5Z M520.6 1206.2L522.1 1204.5L523.0 1202.6L525.1 1203.7L525.4 1205.1L525.7 1207.2L523.1 1206.8Z M521.9 1201.2L520.8 1201.6L519.4 1201.3L519.3 1200.1L520.4 1199.4L521.8 1199.3L522.9 1200.3Z M534.1 1201.9L537.0 1204.1L536.5 1207.1L533.5 1208.3L528.9 1209.1L527.7 1205.4L530.8 1203.4Z M518.9 1212.7L516.5 1210.0L519.2 1207.8L522.4 1206.1L525.2 1208.3L527.0 1211.7L522.4 1212.5Z M521.3 1200.4L521.6 1199.4L522.7 1199.8L523.8 1200.2L523.7 1201.3L522.4 1201.3L521.5 1201.1Z M531.4 1211.3L527.5 1209.0L530.7 1206.1L534.4 1203.5L538.8 1205.8L537.3 1209.3L535.4 1212.0Z M534.4 1214.4L535.6 1212.7L537.0 1214.3L538.4 1215.5L537.0 1217.0L534.9 1216.6L533.2 1215.7Z M527.4 1214.0L527.9 1215.6L525.9 1216.3L523.8 1216.2L523.6 1214.6L524.2 1213.2L525.9 1213.5Z M526.3 1198.0L528.8 1197.3L530.5 1199.1L529.9 1201.3L527.4 1201.1L525.1 1201.1L524.5 1199.2Z M505.5 1211.6L505.3 1209.5L507.7 1209.1L509.2 1209.7L511.4 1210.9L509.3 1212.1L507.5 1212.1Z M516.2 1210.3L516.4 1211.3L515.4 1211.8L514.4 1212.0L513.2 1211.3L514.3 1210.6L515.0 1210.0Z M525.2 1217.3L526.2 1217.4L526.5 1218.1L526.5 1218.8L525.4 1219.3L524.8 1218.5L524.2 1217.8Z M502.9 1220.4L503.5 1218.5L505.7 1217.1L508.0 1218.4L508.6 1220.3L507.6 1222.4L505.0 1221.4Z M502.8 1220.2L501.3 1221.1L499.5 1221.4L498.5 1220.2L498.9 1218.8L500.5 1218.2L501.7 1219.1Z M512.6 1210.2L514.5 1210.0L515.9 1210.3L517.0 1211.5L515.8 1212.9L513.6 1213.2L513.2 1211.6Z M497.0 1220.0L499.1 1220.6L499.3 1222.4L498.2 1223.7L495.9 1224.1L494.6 1222.5L495.0 1220.8Z M511.5 1218.8L513.5 1216.8L516.9 1217.5L518.4 1219.9L517.1 1222.6L513.5 1222.8L510.8 1221.2Z M510.3 1223.0L508.2 1226.0L504.4 1224.1L502.9 1221.2L504.8 1218.2L509.1 1218.4L511.3 1220.6Z M521.7 1208.5L519.9 1208.0L520.5 1206.5L522.3 1206.4L523.5 1206.9L524.3 1208.0L523.2 1209.2Z M510.2 1218.3L512.3 1219.9L510.9 1221.6L509.6 1223.1L506.6 1223.0L506.0 1220.7L507.6 1219.1Z M511.5 1207.1L513.8 1206.4L515.7 1207.9L514.9 1209.8L512.9 1210.0L510.8 1210.0L510.4 1208.4Z M494.7 1225.9L495.7 1225.2L497.3 1225.2L497.4 1226.4L497.3 1227.6L495.7 1227.5L494.1 1227.1Z M524.8 1209.1L523.2 1209.8L521.4 1209.2L521.4 1207.7L522.7 1207.1L523.9 1207.0L525.4 1207.7Z M500.4 1225.6L500.4 1227.0L499.6 1228.2L497.8 1227.8L496.2 1227.0L497.5 1225.8L498.8 1225.2Z M496.2 1223.8L495.1 1223.1L495.8 1222.2L497.0 1221.8L498.0 1222.3L498.5 1223.3L497.6 1224.3Z M525.5 1212.1L525.3 1210.9L525.5 1209.2L527.6 1209.6L529.3 1210.5L528.7 1212.0L527.1 1212.8Z M497.2 1222.2L498.4 1222.6L499.8 1223.1L499.2 1224.2L497.9 1224.3L496.9 1224.1L496.7 1223.1Z M522.5 1217.3L520.5 1216.5L519.8 1214.8L520.8 1212.7L524.0 1212.7L525.8 1214.6L525.4 1217.1Z M511.4 1212.1L510.5 1212.3L509.5 1211.7L509.9 1210.8L510.8 1210.5L511.6 1210.8L512.5 1211.5Z M519.1 1213.0L519.2 1214.6L517.1 1214.4L515.2 1214.2L515.4 1212.6L516.3 1211.1L518.3 1211.9Z M518.4 1223.6L515.4 1223.6L516.9 1221.5L517.8 1219.7L520.2 1220.4L521.0 1221.9L520.6 1223.6Z M520.4 1206.2L521.6 1206.0L522.4 1206.7L523.1 1207.6L521.8 1207.9L520.9 1207.8L520.3 1207.2Z M511.1 1217.8L514.2 1219.4L514.3 1221.6L514.3 1224.3L511.1 1223.2L508.8 1222.3L509.4 1220.3Z M518.1 1227.2L516.3 1225.7L517.3 1224.2L518.4 1222.7L520.8 1223.2L521.2 1225.0L520.0 1226.1Z M515.2 1216.6L513.4 1216.3L511.9 1215.6L511.9 1213.9L513.8 1213.0L515.7 1213.8L517.0 1215.3Z M517.6 1215.3L519.7 1213.7L522.4 1214.5L525.9 1216.4L522.8 1218.7L519.5 1219.5L516.4 1217.9Z M527.5 1223.2L525.9 1223.4L525.0 1222.5L525.0 1221.5L526.1 1221.0L527.6 1220.8L527.9 1222.0Z M515.6 1211.5L517.0 1209.2L519.9 1209.7L522.3 1210.7L521.5 1212.8L519.6 1214.6L516.7 1213.7Z M514.0 1216.5L513.9 1218.7L512.4 1219.7L510.6 1220.0L507.8 1219.1L509.9 1217.4L511.3 1215.6Z M510.2 1224.1L510.9 1221.8L511.8 1219.0L514.7 1220.7L516.0 1222.2L516.2 1224.7L512.9 1225.6Z M526.9 1219.1L525.3 1221.1L521.0 1222.1L520.4 1218.6L520.5 1215.6L524.5 1213.9L527.0 1216.7Z M516.4 1229.9L516.4 1228.5L517.0 1226.7L519.6 1226.9L520.8 1228.5L519.8 1229.9L518.2 1231.0Z M518.1 1226.1L518.5 1228.3L517.2 1230.2L514.2 1230.7L512.5 1228.7L512.1 1226.2L515.4 1226.4Z M527.9 1215.6L528.8 1216.4L528.5 1217.8L526.7 1218.3L525.6 1217.1L524.7 1215.7L526.5 1214.9Z M505.9 1225.8L505.8 1227.6L504.3 1228.6L502.5 1228.4L501.1 1227.3L502.0 1225.9L503.8 1224.6Z M496.2 1229.2L496.3 1228.0L497.3 1227.2L498.4 1227.8L498.9 1228.5L498.4 1229.0L497.6 1229.4Z M555.5 1177.3L552.9 1175.2L553.1 1172.3L556.4 1171.1L559.4 1171.9L560.1 1174.2L558.3 1175.7Z M555.7 1174.8L556.9 1176.9L555.6 1178.8L553.0 1178.8L551.8 1177.5L551.7 1176.1L553.0 1174.5Z M552.6 1176.4L554.5 1177.5L552.9 1178.9L551.2 1179.4L549.9 1178.5L548.5 1176.9L550.7 1175.9Z M559.1 1176.5L559.8 1179.2L557.0 1182.7L552.6 1180.5L549.4 1177.3L553.5 1175.0L556.8 1175.1Z M557.8 1170.9L557.6 1174.2L554.0 1174.9L550.4 1175.2L550.9 1172.4L551.3 1170.3L554.6 1168.8Z M548.4 1179.0L545.1 1177.9L545.4 1175.4L545.6 1172.4L549.0 1173.8L552.1 1174.7L550.8 1177.1Z M559.3 1177.5L558.6 1180.6L556.1 1183.0L550.9 1183.3L549.2 1179.3L551.4 1175.9L556.1 1174.6Z M554.0 1180.8L550.6 1178.6L547.6 1177.0L548.9 1174.0L552.7 1174.0L557.2 1174.3L556.3 1177.8Z M545.0 1177.8L544.8 1176.1L546.2 1173.7L548.9 1175.3L550.3 1177.0L550.0 1179.8L546.1 1180.6Z M552.5 1172.7L552.1 1171.4L553.5 1170.0L555.1 1171.1L555.6 1172.2L555.5 1173.7L553.7 1173.3Z" fill="#0c0c0c"/>
<path d="M634.2 978.4 C634.4 977.3 636.5 976.0 638.0 975.8 C639.5 975.7 641.6 977.8 643.1 977.4 C644.5 976.9 645.4 974.4 646.8 973.3 C648.3 972.2 650.4 972.3 651.9 970.8 C653.4 969.3 654.5 965.7 655.7 964.5 C656.9 963.3 658.5 962.9 659.0 963.7 C659.4 964.6 659.0 967.7 658.5 969.5 C657.9 971.3 656.7 973.1 655.7 974.6 C654.7 976.1 653.9 977.5 652.4 978.4 C650.9 979.3 648.2 979.0 646.8 979.9 C645.5 980.7 645.6 982.6 644.3 983.4 C643.1 984.3 640.5 985.1 639.3 984.9 C638.0 984.7 637.6 983.3 636.7 982.2 C635.9 981.1 634.0 979.4 634.2 978.4Z" fill="#0c0c0c"/>
<path d="M635.5 976.3 C636.2 974.8 639.1 973.8 640.5 973.8 C642.0 973.8 643.3 975.2 644.3 976.3 C645.4 977.5 646.8 979.5 646.8 980.9 C646.8 982.3 645.5 984.1 644.3 984.9 C643.1 985.8 641.1 986.3 639.8 985.9 C638.4 985.6 636.9 984.5 636.2 982.9 C635.5 981.3 634.8 977.9 635.5 976.3Z" fill="#0c0c0c"/>
<path d="M648.1 970.8 C648.8 969.5 651.0 969.9 652.4 968.8 C653.8 967.6 655.3 964.6 656.4 963.7 C657.6 962.8 659.1 962.1 659.5 963.2 C659.9 964.3 659.6 968.3 659.0 970.3 C658.4 972.3 657.2 974.0 655.9 975.3 C654.7 976.7 652.7 978.2 651.4 978.4 C650.1 978.5 648.9 977.6 648.4 976.3 C647.8 975.1 647.4 972.1 648.1 970.8Z" fill="#0c0c0c"/>
<path d="M657.5 1089.8 C658.1 1089.0 659.7 1087.7 661.0 1088.5 C662.3 1089.4 664.0 1092.9 665.0 1094.9 C666.0 1096.8 667.2 1099.2 667.1 1100.4 C666.9 1101.6 665.2 1102.4 664.0 1101.9 C662.8 1101.5 661.1 1099.3 660.0 1097.9 C658.8 1096.5 657.6 1094.7 657.2 1093.3 C656.8 1092.0 656.8 1090.6 657.5 1089.8Z" fill="#eee" stroke="#111" stroke-width="1.6"/>
<g fill="#f0f0f0"><ellipse cx="605.5" cy="1086.3" rx="2.4" ry="0.7" transform="rotate(-30 605.5 1086.3)"/><ellipse cx="619.1" cy="1081.2" rx="1.1" ry="0.7" transform="rotate(20 619.1 1081.2)"/><ellipse cx="615.0" cy="1082.4" rx="2.3" ry="0.6" transform="rotate(-40 615.0 1082.4)"/><ellipse cx="614.7" cy="1079.4" rx="1.1" ry="0.8" transform="rotate(20 614.7 1079.4)"/><ellipse cx="611.7" cy="1084.7" rx="1.9" ry="0.8" transform="rotate(20 611.7 1084.7)"/><ellipse cx="620.8" cy="1096.6" rx="1.1" ry="0.7" transform="rotate(60 620.8 1096.6)"/><ellipse cx="619.2" cy="1091.3" rx="1.3" ry="0.8" transform="rotate(20 619.2 1091.3)"/><ellipse cx="612.7" cy="1085.1" rx="1.7" ry="0.9" transform="rotate(-40 612.7 1085.1)"/><ellipse cx="603.7" cy="1083.6" rx="2.4" ry="0.5" transform="rotate(-30 603.7 1083.6)"/><ellipse cx="599.7" cy="1091.9" rx="1.5" ry="0.8" transform="rotate(60 599.7 1091.9)"/><ellipse cx="594.7" cy="1096.7" rx="1.2" ry="0.9" transform="rotate(20 594.7 1096.7)"/><ellipse cx="591.8" cy="1084.3" rx="1.9" ry="0.6" transform="rotate(-30 591.8 1084.3)"/><ellipse cx="599.0" cy="1100.1" rx="1.4" ry="0.9" transform="rotate(-55 599.0 1100.1)"/><ellipse cx="653.5" cy="1087.4" rx="1.0" ry="0.9" transform="rotate(20 653.5 1087.4)"/><ellipse cx="638.9" cy="1082.4" rx="2.3" ry="0.8" transform="rotate(-55 638.9 1082.4)"/><ellipse cx="654.4" cy="1093.3" rx="2.2" ry="0.9" transform="rotate(20 654.4 1093.3)"/><ellipse cx="646.4" cy="1085.4" rx="2.2" ry="0.6" transform="rotate(-30 646.4 1085.4)"/><ellipse cx="647.1" cy="1092.3" rx="1.7" ry="0.8" transform="rotate(60 647.1 1092.3)"/><ellipse cx="654.8" cy="1089.2" rx="1.4" ry="0.7" transform="rotate(-55 654.8 1089.2)"/><ellipse cx="623.5" cy="1080.2" rx="1.7" ry="0.9" transform="rotate(-40 623.5 1080.2)"/><ellipse cx="630.7" cy="1078.0" rx="2.1" ry="0.7" transform="rotate(20 630.7 1078.0)"/><ellipse cx="620.7" cy="1076.9" rx="2.3" ry="0.6" transform="rotate(-55 620.7 1076.9)"/><ellipse cx="585.8" cy="1143.7" rx="1.8" ry="0.5" transform="rotate(-55 585.8 1143.7)"/><ellipse cx="572.5" cy="1147.6" rx="1.6" ry="0.9" transform="rotate(-55 572.5 1147.6)"/><ellipse cx="590.2" cy="1149.8" rx="1.2" ry="0.9" transform="rotate(60 590.2 1149.8)"/><ellipse cx="584.5" cy="1149.9" rx="1.5" ry="0.6" transform="rotate(-30 584.5 1149.9)"/><ellipse cx="574.4" cy="1139.5" rx="1.7" ry="0.5" transform="rotate(-30 574.4 1139.5)"/><ellipse cx="575.7" cy="1138.4" rx="1.4" ry="1.0" transform="rotate(60 575.7 1138.4)"/><ellipse cx="586.1" cy="1154.8" rx="1.4" ry="0.5" transform="rotate(60 586.1 1154.8)"/><ellipse cx="588.2" cy="1135.6" rx="0.9" ry="0.7" transform="rotate(-55 588.2 1135.6)"/><ellipse cx="584.9" cy="1142.5" rx="2.1" ry="0.7" transform="rotate(-30 584.9 1142.5)"/><ellipse cx="588.9" cy="1156.8" rx="1.1" ry="0.6" transform="rotate(-30 588.9 1156.8)"/><ellipse cx="593.2" cy="1153.4" rx="1.6" ry="0.5" transform="rotate(-40 593.2 1153.4)"/><ellipse cx="588.1" cy="1156.1" rx="1.6" ry="0.6" transform="rotate(60 588.1 1156.1)"/><ellipse cx="574.5" cy="1120.2" rx="1.8" ry="0.9" transform="rotate(60 574.5 1120.2)"/><ellipse cx="570.2" cy="1120.4" rx="2.2" ry="0.9" transform="rotate(20 570.2 1120.4)"/><ellipse cx="568.6" cy="1120.4" rx="1.5" ry="0.6" transform="rotate(20 568.6 1120.4)"/><ellipse cx="567.7" cy="1123.9" rx="1.1" ry="0.9" transform="rotate(-40 567.7 1123.9)"/><ellipse cx="565.8" cy="1129.3" rx="1.1" ry="0.9" transform="rotate(-40 565.8 1129.3)"/><ellipse cx="590.2" cy="1122.7" rx="1.9" ry="0.7" transform="rotate(-55 590.2 1122.7)"/><ellipse cx="596.2" cy="1124.4" rx="2.3" ry="0.9" transform="rotate(-55 596.2 1124.4)"/><ellipse cx="598.3" cy="1119.0" rx="1.8" ry="0.8" transform="rotate(-30 598.3 1119.0)"/><ellipse cx="589.9" cy="1126.9" rx="1.7" ry="0.8" transform="rotate(-40 589.9 1126.9)"/><ellipse cx="605.5" cy="1107.3" rx="2.0" ry="0.8" transform="rotate(-55 605.5 1107.3)"/><ellipse cx="597.1" cy="1107.8" rx="1.6" ry="0.6" transform="rotate(20 597.1 1107.8)"/><ellipse cx="597.1" cy="1109.9" rx="1.6" ry="0.7" transform="rotate(-30 597.1 1109.9)"/><ellipse cx="552.8" cy="1170.0" rx="1.6" ry="1.0" transform="rotate(20 552.8 1170.0)"/><ellipse cx="558.4" cy="1163.6" rx="1.9" ry="0.6" transform="rotate(-30 558.4 1163.6)"/><ellipse cx="552.5" cy="1167.6" rx="1.0" ry="0.9" transform="rotate(20 552.5 1167.6)"/><ellipse cx="555.7" cy="1163.2" rx="1.7" ry="0.8" transform="rotate(20 555.7 1163.2)"/><ellipse cx="561.6" cy="1160.8" rx="1.8" ry="0.5" transform="rotate(-30 561.6 1160.8)"/><ellipse cx="539.0" cy="1184.3" rx="1.4" ry="0.9" transform="rotate(20 539.0 1184.3)"/><ellipse cx="538.7" cy="1202.3" rx="1.1" ry="1.0" transform="rotate(-30 538.7 1202.3)"/><ellipse cx="538.1" cy="1183.0" rx="1.1" ry="0.8" transform="rotate(60 538.1 1183.0)"/><ellipse cx="543.1" cy="1195.9" rx="2.1" ry="0.7" transform="rotate(-55 543.1 1195.9)"/><ellipse cx="539.8" cy="1190.1" rx="1.5" ry="0.8" transform="rotate(-40 539.8 1190.1)"/><ellipse cx="539.0" cy="1181.1" rx="1.6" ry="1.0" transform="rotate(-55 539.0 1181.1)"/><ellipse cx="538.6" cy="1197.2" rx="1.3" ry="0.5" transform="rotate(-55 538.6 1197.2)"/><ellipse cx="533.2" cy="1199.2" rx="1.6" ry="0.9" transform="rotate(20 533.2 1199.2)"/><ellipse cx="532.9" cy="1200.5" rx="2.3" ry="0.6" transform="rotate(-40 532.9 1200.5)"/><ellipse cx="550.7" cy="1184.7" rx="1.6" ry="0.8" transform="rotate(-40 550.7 1184.7)"/><ellipse cx="541.6" cy="1190.2" rx="1.1" ry="0.6" transform="rotate(-40 541.6 1190.2)"/><ellipse cx="527.8" cy="1211.5" rx="2.2" ry="1.0" transform="rotate(60 527.8 1211.5)"/><ellipse cx="531.0" cy="1211.6" rx="2.3" ry="1.0" transform="rotate(-40 531.0 1211.6)"/><ellipse cx="526.9" cy="1201.1" rx="2.0" ry="0.8" transform="rotate(-30 526.9 1201.1)"/><ellipse cx="526.8" cy="1203.1" rx="1.3" ry="0.6" transform="rotate(-55 526.8 1203.1)"/><ellipse cx="519.2" cy="1209.2" rx="2.4" ry="0.9" transform="rotate(20 519.2 1209.2)"/><ellipse cx="519.9" cy="1204.9" rx="1.4" ry="0.7" transform="rotate(-40 519.9 1204.9)"/><ellipse cx="498.8" cy="1225.8" rx="2.4" ry="0.5" transform="rotate(60 498.8 1225.8)"/><ellipse cx="506.6" cy="1214.3" rx="1.9" ry="0.9" transform="rotate(-40 506.6 1214.3)"/><ellipse cx="507.2" cy="1213.9" rx="1.8" ry="0.7" transform="rotate(-30 507.2 1213.9)"/><ellipse cx="502.8" cy="1221.3" rx="1.8" ry="0.8" transform="rotate(-55 502.8 1221.3)"/><ellipse cx="519.4" cy="1215.3" rx="2.4" ry="0.8" transform="rotate(-55 519.4 1215.3)"/><ellipse cx="522.7" cy="1219.2" rx="2.3" ry="0.5" transform="rotate(-40 522.7 1219.2)"/><ellipse cx="500.9" cy="1223.6" rx="2.2" ry="0.6" transform="rotate(-30 500.9 1223.6)"/><ellipse cx="524.9" cy="1213.7" rx="1.8" ry="0.5" transform="rotate(60 524.9 1213.7)"/><ellipse cx="547.4" cy="1177.0" rx="1.7" ry="0.5" transform="rotate(-55 547.4 1177.0)"/><ellipse cx="549.7" cy="1179.8" rx="1.0" ry="0.6" transform="rotate(-30 549.7 1179.8)"/><ellipse cx="556.5" cy="1171.0" rx="1.5" ry="0.7" transform="rotate(-55 556.5 1171.0)"/></g>
<ellipse cx="572.3" cy="1143.4" rx="2.1" ry="1.6" fill="#f4f4f4"/>
<ellipse cx="545.8" cy="1191.4" rx="1.7" ry="1.3" fill="#f4f4f4"/>
<ellipse cx="536.9" cy="1201.5" rx="1.6" ry="1.2" fill="#f4f4f4"/>
<ellipse cx="510.4" cy="1224.2" rx="1.7" ry="1.3" fill="#f4f4f4"/>
<ellipse cx="611.5" cy="1085.3" rx="1.7" ry="1.3" fill="#f4f4f4"/>
<ellipse cx="601.4" cy="1095.4" rx="1.4" ry="1.1" fill="#f4f4f4"/>
<ellipse cx="646.8" cy="1085.3" rx="1.4" ry="1.1" fill="#f4f4f4"/>
<ellipse cx="538.2" cy="1181.3" rx="1.4" ry="1.1" fill="#f4f4f4"/>
<ellipse cx="520.5" cy="1215.4" rx="1.4" ry="1.1" fill="#f4f4f4"/>
<ellipse cx="553.4" cy="1159.8" rx="1.3" ry="1.0" fill="#f4f4f4"/>
<ellipse cx="591.3" cy="1095.4" rx="1.3" ry="1.0" fill="#f4f4f4"/>
<ellipse cx="578.6" cy="1124.4" rx="1.3" ry="1.0" fill="#f4f4f4"/>
<g fill="#0c0c0c"><ellipse cx="529.6" cy="1085.3" rx="1.5" ry="0.7" transform="rotate(-60 529.6 1085.3)"/><ellipse cx="510.4" cy="1095.4" rx="1.4" ry="0.6" transform="rotate(-30 510.4 1095.4)"/><ellipse cx="507.9" cy="1102.9" rx="1.3" ry="0.8" transform="rotate(-60 507.9 1102.9)"/><ellipse cx="511.7" cy="1106.7" rx="1.5" ry="0.7" transform="rotate(-60 511.7 1106.7)"/><ellipse cx="518.0" cy="1113.1" rx="1.7" ry="0.8" transform="rotate(-60 518.0 1113.1)"/><ellipse cx="507.9" cy="1119.4" rx="1.6" ry="0.6" transform="rotate(-60 507.9 1119.4)"/><ellipse cx="521.8" cy="1114.3" rx="1.2" ry="0.8" transform="rotate(-45 521.8 1114.3)"/><ellipse cx="526.8" cy="1128.2" rx="1.7" ry="0.8" transform="rotate(-30 526.8 1128.2)"/><ellipse cx="507.9" cy="1133.3" rx="1.0" ry="0.6" transform="rotate(-55 507.9 1133.3)"/><ellipse cx="515.5" cy="1135.8" rx="1.4" ry="0.8" transform="rotate(-55 515.5 1135.8)"/><ellipse cx="501.6" cy="1144.6" rx="1.3" ry="0.9" transform="rotate(-55 501.6 1144.6)"/><ellipse cx="534.4" cy="1143.4" rx="1.3" ry="0.7" transform="rotate(30 534.4 1143.4)"/><ellipse cx="510.4" cy="1156.0" rx="1.2" ry="0.9" transform="rotate(-50 510.4 1156.0)"/><ellipse cx="536.9" cy="1157.3" rx="1.1" ry="0.6" transform="rotate(-30 536.9 1157.3)"/><ellipse cx="533.2" cy="1168.6" rx="1.5" ry="0.6" transform="rotate(-30 533.2 1168.6)"/><ellipse cx="521.8" cy="1171.2" rx="1.2" ry="0.8" transform="rotate(-50 521.8 1171.2)"/><ellipse cx="526.8" cy="1178.7" rx="1.6" ry="0.7" transform="rotate(-50 526.8 1178.7)"/><ellipse cx="502.8" cy="1185.1" rx="1.1" ry="0.6" transform="rotate(-45 502.8 1185.1)"/><ellipse cx="497.8" cy="1191.4" rx="1.5" ry="0.6" transform="rotate(-55 497.8 1191.4)"/><ellipse cx="492.7" cy="1192.6" rx="1.4" ry="0.9" transform="rotate(-50 492.7 1192.6)"/><ellipse cx="506.6" cy="1201.5" rx="1.5" ry="0.8" transform="rotate(-45 506.6 1201.5)"/><ellipse cx="501.6" cy="1206.5" rx="1.5" ry="1.0" transform="rotate(-45 501.6 1206.5)"/><ellipse cx="495.3" cy="1211.6" rx="0.9" ry="0.7" transform="rotate(-60 495.3 1211.6)"/><ellipse cx="499.1" cy="1128.2" rx="1.4" ry="1.0" transform="rotate(-45 499.1 1128.2)"/><ellipse cx="512.9" cy="1124.4" rx="1.3" ry="0.7" transform="rotate(-55 512.9 1124.4)"/><ellipse cx="504.1" cy="1110.5" rx="1.0" ry="0.6" transform="rotate(-60 504.1 1110.5)"/><ellipse cx="530.6" cy="1150.9" rx="1.4" ry="1.0" transform="rotate(30 530.6 1150.9)"/><ellipse cx="545.8" cy="1128.2" rx="1.1" ry="0.8" transform="rotate(-50 545.8 1128.2)"/><ellipse cx="549.6" cy="1135.8" rx="1.6" ry="0.8" transform="rotate(-30 549.6 1135.8)"/><ellipse cx="545.8" cy="1142.1" rx="1.5" ry="0.6" transform="rotate(-45 545.8 1142.1)"/><ellipse cx="557.2" cy="1129.5" rx="1.4" ry="0.9" transform="rotate(-60 557.2 1129.5)"/><ellipse cx="558.4" cy="1138.3" rx="1.0" ry="0.7" transform="rotate(-30 558.4 1138.3)"/><ellipse cx="553.4" cy="1148.4" rx="1.8" ry="0.8" transform="rotate(-55 553.4 1148.4)"/><ellipse cx="562.2" cy="1110.5" rx="1.1" ry="0.9" transform="rotate(30 562.2 1110.5)"/><ellipse cx="566.0" cy="1104.2" rx="1.8" ry="1.0" transform="rotate(-60 566.0 1104.2)"/><ellipse cx="574.8" cy="1097.9" rx="1.2" ry="1.0" transform="rotate(-45 574.8 1097.9)"/><ellipse cx="581.2" cy="1092.8" rx="1.2" ry="0.7" transform="rotate(30 581.2 1092.8)"/><ellipse cx="576.1" cy="1085.3" rx="1.5" ry="0.7" transform="rotate(-60 576.1 1085.3)"/><ellipse cx="584.9" cy="1077.7" rx="1.0" ry="0.8" transform="rotate(30 584.9 1077.7)"/><ellipse cx="596.3" cy="1068.8" rx="1.5" ry="1.0" transform="rotate(-60 596.3 1068.8)"/><ellipse cx="601.4" cy="1066.3" rx="1.5" ry="0.7" transform="rotate(30 601.4 1066.3)"/><ellipse cx="611.5" cy="1108.0" rx="1.2" ry="0.7" transform="rotate(-45 611.5 1108.0)"/><ellipse cx="619.1" cy="1105.5" rx="1.6" ry="1.0" transform="rotate(30 619.1 1105.5)"/><ellipse cx="629.2" cy="1116.8" rx="1.5" ry="1.0" transform="rotate(30 629.2 1116.8)"/><ellipse cx="656.9" cy="1114.3" rx="1.0" ry="0.9" transform="rotate(-60 656.9 1114.3)"/><ellipse cx="669.6" cy="1109.3" rx="1.4" ry="1.0" transform="rotate(-45 669.6 1109.3)"/><ellipse cx="672.1" cy="1099.2" rx="1.9" ry="0.7" transform="rotate(-55 672.1 1099.2)"/><ellipse cx="672.1" cy="1102.9" rx="1.7" ry="0.9" transform="rotate(-30 672.1 1102.9)"/><ellipse cx="608.4" cy="1134.5" rx="1.8" ry="0.8" transform="rotate(-50 608.4 1134.5)"/><ellipse cx="615.3" cy="1138.3" rx="1.2" ry="0.7" transform="rotate(-55 615.3 1138.3)"/><ellipse cx="616.0" cy="1143.4" rx="1.4" ry="0.7" transform="rotate(-45 616.0 1143.4)"/><ellipse cx="621.6" cy="1130.7" rx="1.2" ry="0.8" transform="rotate(-55 621.6 1130.7)"/><ellipse cx="612.7" cy="1163.6" rx="1.1" ry="0.8" transform="rotate(-30 612.7 1163.6)"/><ellipse cx="598.8" cy="1162.3" rx="1.3" ry="0.9" transform="rotate(-45 598.8 1162.3)"/><ellipse cx="601.4" cy="1171.2" rx="1.9" ry="0.7" transform="rotate(30 601.4 1171.2)"/><ellipse cx="588.7" cy="1174.9" rx="1.5" ry="0.6" transform="rotate(-60 588.7 1174.9)"/><ellipse cx="584.9" cy="1183.8" rx="1.4" ry="0.9" transform="rotate(30 584.9 1183.8)"/><ellipse cx="581.2" cy="1187.6" rx="1.2" ry="1.0" transform="rotate(-60 581.2 1187.6)"/><ellipse cx="574.8" cy="1198.9" rx="1.3" ry="0.9" transform="rotate(-55 574.8 1198.9)"/><ellipse cx="569.8" cy="1197.7" rx="1.4" ry="0.7" transform="rotate(-30 569.8 1197.7)"/><ellipse cx="566.0" cy="1191.4" rx="1.4" ry="0.9" transform="rotate(-50 566.0 1191.4)"/><ellipse cx="564.7" cy="1205.3" rx="1.8" ry="0.8" transform="rotate(-60 564.7 1205.3)"/><ellipse cx="559.7" cy="1183.8" rx="1.7" ry="0.8" transform="rotate(-55 559.7 1183.8)"/><ellipse cx="553.4" cy="1197.7" rx="1.3" ry="0.8" transform="rotate(-60 553.4 1197.7)"/><ellipse cx="550.8" cy="1211.6" rx="1.6" ry="0.8" transform="rotate(-50 550.8 1211.6)"/><ellipse cx="559.7" cy="1217.9" rx="1.9" ry="1.0" transform="rotate(-30 559.7 1217.9)"/><ellipse cx="555.9" cy="1224.2" rx="1.3" ry="0.8" transform="rotate(-55 555.9 1224.2)"/><ellipse cx="544.5" cy="1226.7" rx="1.2" ry="0.9" transform="rotate(-30 544.5 1226.7)"/><ellipse cx="548.3" cy="1224.2" rx="1.1" ry="1.0" transform="rotate(-30 548.3 1224.2)"/><ellipse cx="538.2" cy="1221.7" rx="1.2" ry="0.9" transform="rotate(-60 538.2 1221.7)"/><ellipse cx="542.0" cy="1230.5" rx="1.7" ry="0.9" transform="rotate(-55 542.0 1230.5)"/><ellipse cx="533.2" cy="1225.5" rx="1.2" ry="0.8" transform="rotate(-50 533.2 1225.5)"/><ellipse cx="591.3" cy="1166.1" rx="1.5" ry="0.9" transform="rotate(-60 591.3 1166.1)"/><ellipse cx="607.7" cy="1148.4" rx="1.6" ry="0.8" transform="rotate(-60 607.7 1148.4)"/><ellipse cx="603.9" cy="1135.8" rx="1.4" ry="0.8" transform="rotate(-60 603.9 1135.8)"/><ellipse cx="631.2" cy="961.2" rx="0.8" ry="1.1"/><ellipse cx="573.6" cy="1021.3" rx="2.2" ry="2.9"/><ellipse cx="513.5" cy="1036.0" rx="0.8" ry="1.1"/><ellipse cx="532.7" cy="1062.2" rx="0.8" ry="1.1"/><ellipse cx="628.7" cy="1036.5" rx="0.8" ry="1.0"/><ellipse cx="607.7" cy="1052.1" rx="0.8" ry="1.0"/><ellipse cx="614.5" cy="1057.9" rx="1.5" ry="2.0"/><ellipse cx="607.7" cy="1063.8" rx="1.1" ry="1.4"/><ellipse cx="597.6" cy="1068.8" rx="1.0" ry="1.3"/><ellipse cx="617.8" cy="1026.9" rx="1.5" ry="2.0"/><ellipse cx="600.9" cy="1069.8" rx="0.8" ry="1.1"/></g>
<path d="M516.0 917.2 Q585.2 921.2 654.4 914.7 L692.2 1231.5 Q587.5 1235.0 482.8 1232.5Z" fill="none" stroke="#111" stroke-width="1.6"/>
<text x="583.4" y="941.0" font-family='"Liberation Serif","Noto Serif CJK SC",serif' font-size="12.5" font-weight="900" text-anchor="middle" letter-spacing="12" fill="#111">俄罗斯</text>
<text x="595.8" y="1033.0" font-family='"Liberation Sans","Noto Sans CJK SC",sans-serif' font-size="10.8" font-weight="900" text-anchor="middle" letter-spacing="0" fill="#111">塔</text>
<text x="577.4" y="1060.8" font-family='"Liberation Sans","Noto Sans CJK SC",sans-serif' font-size="10.8" font-weight="900" text-anchor="middle" letter-spacing="0" fill="#111">察</text>
<text x="558.0" y="1094.0" font-family='"Liberation Sans","Noto Sans CJK SC",sans-serif' font-size="10.8" font-weight="900" text-anchor="middle" letter-spacing="0" fill="#111">加</text>
<text x="649.4" y="1060.8" font-family='"Liberation Sans","Noto Sans CJK SC",sans-serif' font-size="10.5" font-weight="900" text-anchor="middle" letter-spacing="0.3" fill="#111" stroke="#efefef" stroke-width="2.2" paint-order="stroke" stroke-linejoin="round">白令海</text>
<text x="513.0" y="1070.0" font-family='"Liberation Sans","Noto Sans CJK SC",sans-serif' font-size="10.5" font-weight="900" text-anchor="middle" letter-spacing="0.5" fill="#111" stroke="#efefef" stroke-width="2.2" paint-order="stroke" stroke-linejoin="round" transform="rotate(-62 513.0 1070.0)">鄂霍次克海</text>
<text x="516.0" y="1176.0" font-family='"Liberation Sans","Noto Sans CJK SC",sans-serif' font-size="10.5" font-weight="900" text-anchor="middle" letter-spacing="0.3" fill="#111" stroke="#efefef" stroke-width="2.2" paint-order="stroke" stroke-linejoin="round" transform="rotate(-55 516.0 1176.0)">千岛群岛</text>
<text x="609.0" y="1196.0" font-family='"Liberation Sans","Noto Sans CJK SC",sans-serif' font-size="10.5" font-weight="900" text-anchor="middle" letter-spacing="0.3" fill="#111" stroke="#efefef" stroke-width="2.2" paint-order="stroke" stroke-linejoin="round" transform="rotate(-42 609.0 1196.0)">千岛·堪察加海沟</text>
<text x="652.0" y="1149.0" font-family='"Liberation Sans","Noto Sans CJK SC",sans-serif' font-size="10.5" font-weight="900" text-anchor="middle" letter-spacing="0.6" fill="#111" stroke="#efefef" stroke-width="2.2" paint-order="stroke" stroke-linejoin="round" transform="rotate(30 652.0 1149.0)">明治海山群</text>
<text x="643.0" y="1202.0" font-family='"Liberation Sans","Noto Sans CJK SC",sans-serif' font-size="10.5" font-weight="900" text-anchor="middle" letter-spacing="0.4" fill="#111" stroke="#efefef" stroke-width="2.2" paint-order="stroke" stroke-linejoin="round">太平洋</text>
<text x="517.0" y="908.5" font-family='"Liberation Serif",serif' font-size="12.2" font-weight="400" text-anchor="middle" letter-spacing="-0.5" fill="#111" stroke="#222" stroke-width="0.35" paint-order="stroke" stroke-linejoin="round">152°</text>
<text x="551.0" y="909.5" font-family='"Liberation Serif",serif' font-size="12.2" font-weight="400" text-anchor="middle" letter-spacing="-0.5" fill="#111" stroke="#222" stroke-width="0.35" paint-order="stroke" stroke-linejoin="round">156°</text>
<text x="586.0" y="910.0" font-family='"Liberation Serif",serif' font-size="12.2" font-weight="400" text-anchor="middle" letter-spacing="-0.5" fill="#111" stroke="#222" stroke-width="0.35" paint-order="stroke" stroke-linejoin="round">160°</text>
<text x="620.5" y="909.5" font-family='"Liberation Serif",serif' font-size="12.2" font-weight="400" text-anchor="middle" letter-spacing="-0.5" fill="#111" stroke="#222" stroke-width="0.35" paint-order="stroke" stroke-linejoin="round">164°</text>
<text x="659.0" y="907.5" font-family='"Liberation Serif",serif' font-size="12.2" font-weight="400" text-anchor="middle" letter-spacing="-0.5" fill="#111" stroke="#222" stroke-width="0.35" paint-order="stroke" stroke-linejoin="round">168°</text>
<text x="500.0" y="921.5" font-family='"Liberation Serif",serif' font-size="12.2" font-weight="400" text-anchor="middle" letter-spacing="-0.5" fill="#111" stroke="#222" stroke-width="0.35" paint-order="stroke" stroke-linejoin="round">64°</text>
<text x="496.0" y="998.5" font-family='"Liberation Serif",serif' font-size="12.2" font-weight="400" text-anchor="middle" letter-spacing="-0.5" fill="#111" stroke="#222" stroke-width="0.35" paint-order="stroke" stroke-linejoin="round">60°</text>
<text x="487.0" y="1079.5" font-family='"Liberation Serif",serif' font-size="12.2" font-weight="400" text-anchor="middle" letter-spacing="-0.5" fill="#111" stroke="#222" stroke-width="0.35" paint-order="stroke" stroke-linejoin="round">56°</text>
<text x="479.0" y="1158.3" font-family='"Liberation Serif",serif' font-size="12.2" font-weight="400" text-anchor="middle" letter-spacing="-0.5" fill="#111" stroke="#222" stroke-width="0.35" paint-order="stroke" stroke-linejoin="round">52°</text>
<text x="471.0" y="1235.0" font-family='"Liberation Serif",serif' font-size="12.2" font-weight="400" text-anchor="middle" letter-spacing="-0.5" fill="#111" stroke="#222" stroke-width="0.35" paint-order="stroke" stroke-linejoin="round">48°</text>
<path d="M551 913.8V917.5" stroke="#111" stroke-width="1"/>
<path d="M586 913.1V916.8" stroke="#111" stroke-width="1"/>
<path d="M620.5 912.5V916.2" stroke="#111" stroke-width="1"/>
<path d="M512.5 917.2H516.5" stroke="#111" stroke-width="1"/>
<path d="M504.3 995H508.3" stroke="#111" stroke-width="1"/>
<path d="M495.9 1075.2H499.9" stroke="#111" stroke-width="1"/>
<path d="M487.6 1154H491.6" stroke="#111" stroke-width="1"/>
<path d="M479.4 1232H483.4" stroke="#111" stroke-width="1"/>
<text x="730.8" y="1193.0" font-family='"Liberation Sans","Noto Sans CJK SC",sans-serif' font-size="10.5" font-weight="700" text-anchor="middle" letter-spacing="2.5" fill="#111">图　例</text>
<path d="M704.6 1207.6L713.4 1207.6L709 1200.8Z" fill="#fff" stroke="#111" stroke-width="1.4" stroke-linejoin="round"/>
<path d="M715.8 1207.6L722.2 1207.6L721.6 1201.4L716.8 1201.4Z" fill="#111"/>
<text x="741.3" y="1209.8" font-family='"Liberation Sans","Noto Sans CJK SC",sans-serif' font-size="11" font-weight="700" text-anchor="middle" letter-spacing="1" fill="#111">火山</text>
<circle cx="708.7" cy="1226.3" r="3.9" fill="#111"/>
<text x="741.5" y="1230.4" font-family='"Liberation Sans","Noto Sans CJK SC",sans-serif' font-size="11.3" font-weight="700" text-anchor="middle" letter-spacing="0.4" fill="#111">地震震中</text></svg>
<div id="q4" class="t q" style="left:90.00px;top:456.90px;letter-spacing:1.812px"><span class="la">4.</span><i class="g1"></i>长三角和珠三角城市群成为机会创业者和生存型创业者的共同目的地<span class="cm">,</span>主要原因有</div>
<div id="q4a" class="t q" style="left:110.50px;top:490.60px;letter-spacing:1.950px"><span class="cn">①</span>经济发达<span class="cm">,</span>市场活跃</div>
<div id="q4b" class="t q" style="left:320.00px;top:490.60px;letter-spacing:1.775px"><span class="cn">②</span>资源丰富<span class="cm">、</span>环境优美</div>
<div id="q4c" class="t q" style="left:511.00px;top:490.60px;letter-spacing:1.100px"><span class="cn">③</span>政策支持强劲</div>
<div id="q4d" class="t q" style="left:701.00px;top:490.60px;letter-spacing:2.500px"><span class="cn">④</span>就业机会少</div>
<div id="q4A" class="t q" style="left:110.00px;top:524.30px;letter-spacing:1.100px"><span class="la">A.</span><i class="g2"></i><span class="cn">①</span><span class="cn">②</span></div>
<div id="q4B" class="t q" style="left:321.00px;top:524.30px;letter-spacing:-0.100px"><span class="la">B.</span><i class="g2"></i><span class="cn">③</span><span class="cn">④</span></div>
<div id="q4C" class="t q" style="left:511.50px;top:524.30px;letter-spacing:1.300px"><span class="la">C.</span><i class="g2"></i><span class="cn">①</span><span class="cn">③</span></div>
<div id="q4D" class="t q" style="left:702.50px;top:524.30px;letter-spacing:0.500px"><span class="la">D.</span><i class="g2"></i><i class="g2"></i><span class="cn">②</span><span class="cn">④</span></div>
<div id="q5" class="t q" style="left:89.50px;top:558.00px;letter-spacing:1.974px"><span class="la">5.</span><i class="g1"></i>哈长城市群流动人口创业比例最低<span class="cm">,</span>根本原因是</div>
<div id="q5A" class="t q" style="left:109.50px;top:591.70px;letter-spacing:2.167px"><span class="la">A.</span><i class="g2"></i>人口老龄化严重</div>
<div id="q5B" class="t q" style="left:511.50px;top:591.70px;letter-spacing:1.400px"><span class="la">B.</span><i class="g2"></i>经济发展速度慢</div>
<div id="q5C" class="t q" style="left:110.00px;top:625.40px;letter-spacing:2.060px"><span class="la">C.</span><i class="g2"></i>城镇化水平低</div>
<div id="q5D" class="t q" style="left:512.00px;top:625.40px;letter-spacing:1.220px"><span class="la">D.</span><i class="g2"></i>气候环境恶劣</div>
<div id="q6" class="t q" style="left:89.00px;top:659.10px;letter-spacing:1.709px"><span class="la">6.</span><i class="g1"></i>对哈长城市群创业比例提升推动效应最明显的措施是</div>
<div id="q6A" class="t q" style="left:109.50px;top:692.80px;letter-spacing:2.060px"><span class="la">A.</span><i class="g2"></i>普及高中教育</div>
<div id="q6B" class="t q" style="left:511.50px;top:692.80px;letter-spacing:0.980px"><span class="la">B.</span><i class="g2"></i>改善交通状况</div>
<div id="q6C" class="t q" style="left:109.50px;top:726.50px;letter-spacing:2.020px"><span class="la">C.</span><i class="g2"></i>扩大资源开发</div>
<div id="q6D" class="t q" style="left:512.00px;top:726.50px;letter-spacing:1.020px"><span class="la">D.</span><i class="g2"></i>加大扶持力度</div>
<div id="p1" class="t p" style="left:129.00px;top:762.20px;letter-spacing:3.335px">堪察加半岛是俄罗斯最大的火山带和地震活跃区之一<span class="cm">,</span>岛上分布着<i class="g3"></i><span class="nu">160</span><i class="g3"></i>多座火山<span class="cm">,</span>其中活</div>
<div id="p2" class="t p" style="left:90.00px;top:796.20px;letter-spacing:3.159px">火山<i class="g3"></i><span class="nu">29</span><i class="g3"></i>座。根据地理位置<span class="cm">,</span>半岛上的火山分为两部分<span class="cm">:</span>半岛中心地带的火山带和沿东部海岸线</div>
<div id="p3" class="t p" style="left:90.00px;top:830.10px;letter-spacing:3.005px">火山带。下图示意堪察加半岛火山带分布<span class="cm">(</span>左图<span class="cm">)</span>及<i class="g3"></i><span class="nu">1998</span><i class="g3"></i>年<i class="g3"></i><span class="nu">6</span><i class="g3"></i>月至<i class="g3"></i><span class="nu">2020</span><i class="g3"></i>年<i class="g3"></i><span class="nu">6</span><i class="g3"></i>月间发生的地震</div>
<div id="p4" class="t p" style="left:89.00px;top:864.00px;letter-spacing:3.447px">震中位置分布<span class="cm">(</span>右图<span class="cm">)</span>。据此完成<i class="g3"></i><span class="nu">7</span>～<span class="nu">8</span><i class="g3"></i>题。</div>
<div id="ft" class="t f" style="left:348.00px;top:1253.80px;letter-spacing:3.073px"><b>【高三地理</b><i class="g4"></i>第<i class="g3"></i><span class="nu">2</span><i class="g3"></i>页<span class="cm">(</span>共<i class="g3"></i><span class="nu">6</span><i class="g3"></i>页<span class="cm">)</span><b>】</b></div>
<div id="hb" class="t hb" style="left:840.50px;top:1258.00px;letter-spacing:0.900px">HB</div>
</body></html>
